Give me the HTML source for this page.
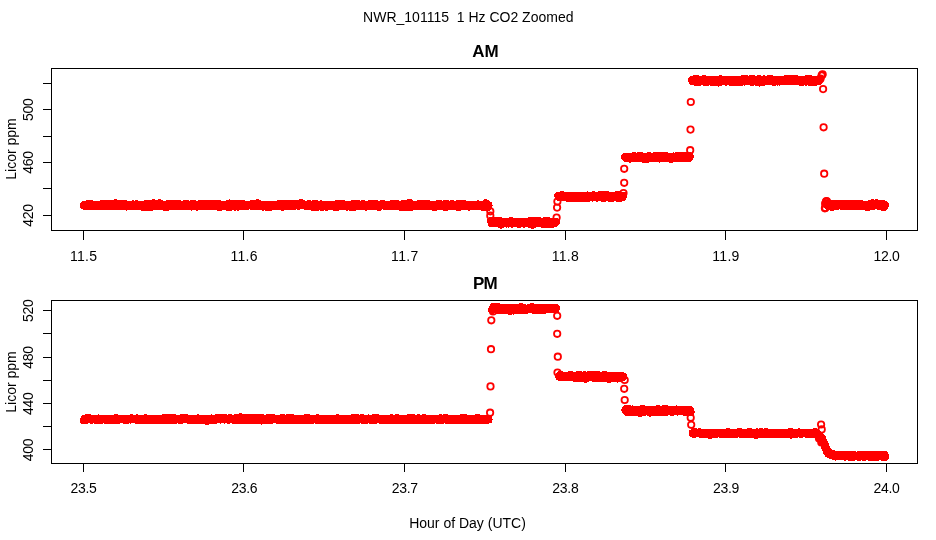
<!DOCTYPE html>
<html><head><meta charset="utf-8"><title>NWR_101115 1 Hz CO2 Zoomed</title>
<style>
html,body{margin:0;padding:0;background:#fff;}
svg{display:block;font-family:"Liberation Sans",sans-serif;}
.ax{stroke:#000;stroke-width:1;fill:none;shape-rendering:crispEdges;}
.pt circle{fill:#ff0000;stroke:#ff0000;stroke-width:1.9;shape-rendering:crispEdges;}
.tr circle{fill:none;stroke:#ff0000;stroke-width:1.8;}
text{fill:#000;font-size:14px;}
.main{font-size:17px;font-weight:bold;}
.tk{letter-spacing:-0.3px;}
.tw{letter-spacing:0.3px;}
</style></head><body>
<svg width="936" height="540" viewBox="0 0 936 540">
<rect width="936" height="540" fill="#fff"/>
<text x="468.3" y="22" text-anchor="middle">NWR_101115&#160;&#160;1 Hz CO2 Zoomed</text>
<text x="467.5" y="528" text-anchor="middle">Hour of Day (UTC)</text>
<text class="main" x="485.5" y="57" text-anchor="middle">AM</text>
<g class="pt"><circle cx="84.0" cy="205.3" r="3.15"/><circle cx="84.5" cy="205.2" r="3.15"/><circle cx="84.9" cy="204.8" r="3.15"/><circle cx="85.4" cy="205.3" r="3.15"/><circle cx="85.8" cy="206.2" r="3.15"/><circle cx="86.3" cy="205.7" r="3.15"/><circle cx="86.7" cy="206.2" r="3.15"/><circle cx="87.2" cy="205.6" r="3.15"/><circle cx="87.6" cy="205.7" r="3.15"/><circle cx="88.1" cy="205.5" r="3.15"/><circle cx="88.5" cy="204.2" r="3.15"/><circle cx="88.9" cy="206.0" r="3.15"/><circle cx="89.4" cy="205.7" r="3.15"/><circle cx="89.8" cy="205.7" r="3.15"/><circle cx="90.3" cy="204.2" r="3.15"/><circle cx="90.7" cy="204.1" r="3.15"/><circle cx="91.2" cy="204.7" r="3.15"/><circle cx="91.6" cy="205.0" r="3.15"/><circle cx="92.1" cy="205.5" r="3.15"/><circle cx="92.5" cy="205.3" r="3.15"/><circle cx="92.9" cy="205.7" r="3.15"/><circle cx="93.4" cy="204.8" r="3.15"/><circle cx="93.8" cy="205.5" r="3.15"/><circle cx="94.3" cy="205.5" r="3.15"/><circle cx="94.7" cy="204.8" r="3.15"/><circle cx="95.2" cy="206.4" r="3.15"/><circle cx="95.6" cy="205.6" r="3.15"/><circle cx="96.1" cy="206.1" r="3.15"/><circle cx="96.5" cy="204.8" r="3.15"/><circle cx="97.0" cy="204.7" r="3.15"/><circle cx="97.4" cy="205.0" r="3.15"/><circle cx="97.8" cy="205.2" r="3.15"/><circle cx="98.3" cy="205.7" r="3.15"/><circle cx="98.7" cy="205.4" r="3.15"/><circle cx="99.2" cy="204.9" r="3.15"/><circle cx="99.6" cy="204.6" r="3.15"/><circle cx="100.1" cy="204.9" r="3.15"/><circle cx="100.5" cy="206.1" r="3.15"/><circle cx="101.0" cy="204.7" r="3.15"/><circle cx="101.4" cy="205.4" r="3.15"/><circle cx="101.8" cy="205.6" r="3.15"/><circle cx="102.3" cy="204.2" r="3.15"/><circle cx="102.7" cy="205.3" r="3.15"/><circle cx="103.2" cy="206.2" r="3.15"/><circle cx="103.6" cy="203.9" r="3.15"/><circle cx="104.1" cy="205.1" r="3.15"/><circle cx="104.5" cy="205.2" r="3.15"/><circle cx="105.0" cy="204.7" r="3.15"/><circle cx="105.4" cy="205.6" r="3.15"/><circle cx="105.9" cy="205.2" r="3.15"/><circle cx="106.3" cy="204.3" r="3.15"/><circle cx="106.7" cy="205.9" r="3.15"/><circle cx="107.2" cy="205.7" r="3.15"/><circle cx="107.6" cy="205.9" r="3.15"/><circle cx="108.1" cy="206.3" r="3.15"/><circle cx="108.5" cy="205.5" r="3.15"/><circle cx="109.0" cy="205.3" r="3.15"/><circle cx="109.4" cy="204.3" r="3.15"/><circle cx="109.9" cy="205.7" r="3.15"/><circle cx="110.3" cy="204.8" r="3.15"/><circle cx="110.7" cy="204.9" r="3.15"/><circle cx="111.2" cy="204.3" r="3.15"/><circle cx="111.6" cy="204.5" r="3.15"/><circle cx="112.1" cy="204.8" r="3.15"/><circle cx="112.5" cy="206.1" r="3.15"/><circle cx="113.0" cy="203.8" r="3.15"/><circle cx="113.4" cy="204.2" r="3.15"/><circle cx="113.9" cy="205.3" r="3.15"/><circle cx="114.3" cy="206.2" r="3.15"/><circle cx="114.8" cy="205.6" r="3.15"/><circle cx="115.2" cy="203.8" r="3.15"/><circle cx="115.6" cy="203.4" r="3.15"/><circle cx="116.1" cy="205.4" r="3.15"/><circle cx="116.5" cy="204.6" r="3.15"/><circle cx="117.0" cy="204.4" r="3.15"/><circle cx="117.4" cy="205.9" r="3.15"/><circle cx="117.9" cy="205.9" r="3.15"/><circle cx="118.3" cy="205.3" r="3.15"/><circle cx="118.8" cy="205.4" r="3.15"/><circle cx="119.2" cy="205.5" r="3.15"/><circle cx="119.6" cy="206.3" r="3.15"/><circle cx="120.1" cy="205.6" r="3.15"/><circle cx="120.5" cy="205.6" r="3.15"/><circle cx="121.0" cy="205.6" r="3.15"/><circle cx="121.4" cy="204.1" r="3.15"/><circle cx="121.9" cy="206.2" r="3.15"/><circle cx="122.3" cy="205.9" r="3.15"/><circle cx="122.8" cy="205.6" r="3.15"/><circle cx="123.2" cy="203.9" r="3.15"/><circle cx="123.7" cy="204.9" r="3.15"/><circle cx="124.1" cy="205.9" r="3.15"/><circle cx="124.5" cy="204.1" r="3.15"/><circle cx="125.0" cy="205.2" r="3.15"/><circle cx="125.4" cy="206.0" r="3.15"/><circle cx="125.9" cy="204.4" r="3.15"/><circle cx="126.3" cy="206.5" r="3.15"/><circle cx="126.8" cy="205.7" r="3.15"/><circle cx="127.2" cy="205.3" r="3.15"/><circle cx="127.7" cy="205.6" r="3.15"/><circle cx="128.1" cy="205.8" r="3.15"/><circle cx="128.5" cy="205.4" r="3.15"/><circle cx="129.0" cy="206.2" r="3.15"/><circle cx="129.4" cy="204.9" r="3.15"/><circle cx="129.9" cy="205.1" r="3.15"/><circle cx="130.3" cy="206.1" r="3.15"/><circle cx="130.8" cy="205.4" r="3.15"/><circle cx="131.2" cy="204.7" r="3.15"/><circle cx="131.7" cy="206.0" r="3.15"/><circle cx="132.1" cy="206.4" r="3.15"/><circle cx="132.5" cy="205.0" r="3.15"/><circle cx="133.0" cy="204.4" r="3.15"/><circle cx="133.4" cy="205.2" r="3.15"/><circle cx="133.9" cy="205.2" r="3.15"/><circle cx="134.3" cy="205.1" r="3.15"/><circle cx="134.8" cy="206.3" r="3.15"/><circle cx="135.2" cy="204.6" r="3.15"/><circle cx="135.7" cy="206.2" r="3.15"/><circle cx="136.1" cy="204.4" r="3.15"/><circle cx="136.6" cy="204.8" r="3.15"/><circle cx="137.0" cy="205.8" r="3.15"/><circle cx="137.4" cy="206.1" r="3.15"/><circle cx="137.9" cy="205.9" r="3.15"/><circle cx="138.3" cy="205.6" r="3.15"/><circle cx="138.8" cy="205.4" r="3.15"/><circle cx="139.2" cy="205.4" r="3.15"/><circle cx="139.7" cy="205.7" r="3.15"/><circle cx="140.1" cy="205.2" r="3.15"/><circle cx="140.6" cy="205.6" r="3.15"/><circle cx="141.0" cy="205.8" r="3.15"/><circle cx="141.4" cy="205.4" r="3.15"/><circle cx="141.9" cy="205.9" r="3.15"/><circle cx="142.3" cy="205.8" r="3.15"/><circle cx="142.8" cy="206.8" r="3.15"/><circle cx="143.2" cy="205.6" r="3.15"/><circle cx="143.7" cy="205.1" r="3.15"/><circle cx="144.1" cy="205.2" r="3.15"/><circle cx="144.6" cy="205.4" r="3.15"/><circle cx="145.0" cy="206.1" r="3.15"/><circle cx="145.5" cy="205.2" r="3.15"/><circle cx="145.9" cy="205.7" r="3.15"/><circle cx="146.3" cy="206.7" r="3.15"/><circle cx="146.8" cy="203.6" r="3.15"/><circle cx="147.2" cy="204.7" r="3.15"/><circle cx="147.7" cy="205.6" r="3.15"/><circle cx="148.1" cy="205.7" r="3.15"/><circle cx="148.6" cy="205.6" r="3.15"/><circle cx="149.0" cy="205.1" r="3.15"/><circle cx="149.5" cy="205.9" r="3.15"/><circle cx="149.9" cy="205.6" r="3.15"/><circle cx="150.3" cy="205.0" r="3.15"/><circle cx="150.8" cy="207.1" r="3.15"/><circle cx="151.2" cy="205.6" r="3.15"/><circle cx="151.7" cy="205.0" r="3.15"/><circle cx="152.1" cy="205.3" r="3.15"/><circle cx="152.6" cy="205.2" r="3.15"/><circle cx="153.0" cy="205.3" r="3.15"/><circle cx="153.5" cy="203.4" r="3.15"/><circle cx="153.9" cy="205.0" r="3.15"/><circle cx="154.4" cy="206.0" r="3.15"/><circle cx="154.8" cy="204.5" r="3.15"/><circle cx="155.2" cy="205.2" r="3.15"/><circle cx="155.7" cy="206.0" r="3.15"/><circle cx="156.1" cy="205.9" r="3.15"/><circle cx="156.6" cy="206.3" r="3.15"/><circle cx="157.0" cy="204.1" r="3.15"/><circle cx="157.5" cy="205.0" r="3.15"/><circle cx="157.9" cy="205.0" r="3.15"/><circle cx="158.4" cy="205.7" r="3.15"/><circle cx="158.8" cy="206.0" r="3.15"/><circle cx="159.2" cy="203.4" r="3.15"/><circle cx="159.7" cy="206.0" r="3.15"/><circle cx="160.1" cy="204.2" r="3.15"/><circle cx="160.6" cy="205.7" r="3.15"/><circle cx="161.0" cy="204.2" r="3.15"/><circle cx="161.5" cy="205.4" r="3.15"/><circle cx="161.9" cy="206.1" r="3.15"/><circle cx="162.4" cy="205.2" r="3.15"/><circle cx="162.8" cy="205.4" r="3.15"/><circle cx="163.3" cy="205.8" r="3.15"/><circle cx="163.7" cy="205.4" r="3.15"/><circle cx="164.1" cy="205.2" r="3.15"/><circle cx="164.6" cy="206.4" r="3.15"/><circle cx="165.0" cy="206.0" r="3.15"/><circle cx="165.5" cy="205.1" r="3.15"/><circle cx="165.9" cy="207.2" r="3.15"/><circle cx="166.4" cy="204.5" r="3.15"/><circle cx="166.8" cy="205.9" r="3.15"/><circle cx="167.3" cy="205.1" r="3.15"/><circle cx="167.7" cy="205.4" r="3.15"/><circle cx="168.1" cy="205.8" r="3.15"/><circle cx="168.6" cy="205.4" r="3.15"/><circle cx="169.0" cy="205.7" r="3.15"/><circle cx="169.5" cy="204.2" r="3.15"/><circle cx="169.9" cy="204.2" r="3.15"/><circle cx="170.4" cy="205.7" r="3.15"/><circle cx="170.8" cy="204.6" r="3.15"/><circle cx="171.3" cy="204.5" r="3.15"/><circle cx="171.7" cy="204.2" r="3.15"/><circle cx="172.1" cy="206.1" r="3.15"/><circle cx="172.6" cy="205.7" r="3.15"/><circle cx="173.0" cy="206.2" r="3.15"/><circle cx="173.5" cy="204.5" r="3.15"/><circle cx="173.9" cy="205.2" r="3.15"/><circle cx="174.4" cy="204.4" r="3.15"/><circle cx="174.8" cy="205.7" r="3.15"/><circle cx="175.3" cy="206.3" r="3.15"/><circle cx="175.7" cy="204.5" r="3.15"/><circle cx="176.2" cy="206.3" r="3.15"/><circle cx="176.6" cy="205.8" r="3.15"/><circle cx="177.0" cy="205.0" r="3.15"/><circle cx="177.5" cy="203.8" r="3.15"/><circle cx="177.9" cy="206.1" r="3.15"/><circle cx="178.4" cy="205.1" r="3.15"/><circle cx="178.8" cy="204.7" r="3.15"/><circle cx="179.3" cy="205.4" r="3.15"/><circle cx="179.7" cy="205.5" r="3.15"/><circle cx="180.2" cy="206.2" r="3.15"/><circle cx="180.6" cy="204.5" r="3.15"/><circle cx="181.0" cy="206.0" r="3.15"/><circle cx="181.5" cy="206.2" r="3.15"/><circle cx="181.9" cy="206.2" r="3.15"/><circle cx="182.4" cy="205.1" r="3.15"/><circle cx="182.8" cy="204.7" r="3.15"/><circle cx="183.3" cy="206.0" r="3.15"/><circle cx="183.7" cy="205.3" r="3.15"/><circle cx="184.2" cy="205.3" r="3.15"/><circle cx="184.6" cy="206.3" r="3.15"/><circle cx="185.1" cy="205.1" r="3.15"/><circle cx="185.5" cy="203.7" r="3.15"/><circle cx="185.9" cy="205.0" r="3.15"/><circle cx="186.4" cy="204.0" r="3.15"/><circle cx="186.8" cy="205.9" r="3.15"/><circle cx="187.3" cy="205.5" r="3.15"/><circle cx="187.7" cy="204.9" r="3.15"/><circle cx="188.2" cy="205.3" r="3.15"/><circle cx="188.6" cy="205.9" r="3.15"/><circle cx="189.1" cy="205.4" r="3.15"/><circle cx="189.5" cy="206.3" r="3.15"/><circle cx="189.9" cy="205.3" r="3.15"/><circle cx="190.4" cy="206.1" r="3.15"/><circle cx="190.8" cy="206.4" r="3.15"/><circle cx="191.3" cy="206.5" r="3.15"/><circle cx="191.7" cy="204.9" r="3.15"/><circle cx="192.2" cy="205.9" r="3.15"/><circle cx="192.6" cy="204.0" r="3.15"/><circle cx="193.1" cy="204.6" r="3.15"/><circle cx="193.5" cy="203.9" r="3.15"/><circle cx="194.0" cy="206.1" r="3.15"/><circle cx="194.4" cy="204.4" r="3.15"/><circle cx="194.8" cy="205.3" r="3.15"/><circle cx="195.3" cy="205.2" r="3.15"/><circle cx="195.7" cy="205.3" r="3.15"/><circle cx="196.2" cy="204.9" r="3.15"/><circle cx="196.6" cy="205.5" r="3.15"/><circle cx="197.1" cy="206.5" r="3.15"/><circle cx="197.5" cy="205.3" r="3.15"/><circle cx="198.0" cy="205.7" r="3.15"/><circle cx="198.4" cy="206.0" r="3.15"/><circle cx="198.8" cy="205.2" r="3.15"/><circle cx="199.3" cy="204.4" r="3.15"/><circle cx="199.7" cy="204.9" r="3.15"/><circle cx="200.2" cy="206.1" r="3.15"/><circle cx="200.6" cy="204.2" r="3.15"/><circle cx="201.1" cy="204.9" r="3.15"/><circle cx="201.5" cy="206.0" r="3.15"/><circle cx="202.0" cy="205.9" r="3.15"/><circle cx="202.4" cy="205.4" r="3.15"/><circle cx="202.9" cy="205.9" r="3.15"/><circle cx="203.3" cy="205.5" r="3.15"/><circle cx="203.7" cy="204.6" r="3.15"/><circle cx="204.2" cy="204.3" r="3.15"/><circle cx="204.6" cy="205.0" r="3.15"/><circle cx="205.1" cy="206.1" r="3.15"/><circle cx="205.5" cy="205.0" r="3.15"/><circle cx="206.0" cy="204.8" r="3.15"/><circle cx="206.4" cy="204.9" r="3.15"/><circle cx="206.9" cy="204.4" r="3.15"/><circle cx="207.3" cy="205.4" r="3.15"/><circle cx="207.7" cy="204.6" r="3.15"/><circle cx="208.2" cy="205.7" r="3.15"/><circle cx="208.6" cy="203.8" r="3.15"/><circle cx="209.1" cy="205.7" r="3.15"/><circle cx="209.5" cy="205.0" r="3.15"/><circle cx="210.0" cy="204.1" r="3.15"/><circle cx="210.4" cy="205.9" r="3.15"/><circle cx="210.9" cy="205.2" r="3.15"/><circle cx="211.3" cy="203.9" r="3.15"/><circle cx="211.7" cy="204.8" r="3.15"/><circle cx="212.2" cy="205.6" r="3.15"/><circle cx="212.6" cy="205.1" r="3.15"/><circle cx="213.1" cy="205.9" r="3.15"/><circle cx="213.5" cy="205.9" r="3.15"/><circle cx="214.0" cy="205.8" r="3.15"/><circle cx="214.4" cy="205.6" r="3.15"/><circle cx="214.9" cy="206.3" r="3.15"/><circle cx="215.3" cy="205.8" r="3.15"/><circle cx="215.8" cy="205.6" r="3.15"/><circle cx="216.2" cy="203.9" r="3.15"/><circle cx="216.6" cy="205.9" r="3.15"/><circle cx="217.1" cy="206.2" r="3.15"/><circle cx="217.5" cy="205.1" r="3.15"/><circle cx="218.0" cy="205.0" r="3.15"/><circle cx="218.4" cy="206.6" r="3.15"/><circle cx="218.9" cy="204.1" r="3.15"/><circle cx="219.3" cy="205.6" r="3.15"/><circle cx="219.8" cy="207.0" r="3.15"/><circle cx="220.2" cy="204.6" r="3.15"/><circle cx="220.6" cy="205.8" r="3.15"/><circle cx="221.1" cy="206.6" r="3.15"/><circle cx="221.5" cy="205.2" r="3.15"/><circle cx="222.0" cy="205.7" r="3.15"/><circle cx="222.4" cy="205.9" r="3.15"/><circle cx="222.9" cy="204.7" r="3.15"/><circle cx="223.3" cy="205.2" r="3.15"/><circle cx="223.8" cy="205.5" r="3.15"/><circle cx="224.2" cy="205.9" r="3.15"/><circle cx="224.7" cy="205.3" r="3.15"/><circle cx="225.1" cy="205.2" r="3.15"/><circle cx="225.5" cy="204.6" r="3.15"/><circle cx="226.0" cy="205.1" r="3.15"/><circle cx="226.4" cy="205.9" r="3.15"/><circle cx="226.9" cy="205.4" r="3.15"/><circle cx="227.3" cy="204.7" r="3.15"/><circle cx="227.8" cy="204.7" r="3.15"/><circle cx="228.2" cy="207.2" r="3.15"/><circle cx="228.7" cy="206.1" r="3.15"/><circle cx="229.1" cy="205.8" r="3.15"/><circle cx="229.5" cy="203.5" r="3.15"/><circle cx="230.0" cy="205.7" r="3.15"/><circle cx="230.4" cy="205.6" r="3.15"/><circle cx="230.9" cy="206.5" r="3.15"/><circle cx="231.3" cy="205.6" r="3.15"/><circle cx="231.8" cy="205.2" r="3.15"/><circle cx="232.2" cy="205.6" r="3.15"/><circle cx="232.7" cy="203.9" r="3.15"/><circle cx="233.1" cy="206.0" r="3.15"/><circle cx="233.6" cy="205.5" r="3.15"/><circle cx="234.0" cy="204.7" r="3.15"/><circle cx="234.4" cy="206.1" r="3.15"/><circle cx="234.9" cy="206.5" r="3.15"/><circle cx="235.3" cy="204.2" r="3.15"/><circle cx="235.8" cy="204.7" r="3.15"/><circle cx="236.2" cy="205.4" r="3.15"/><circle cx="236.7" cy="205.3" r="3.15"/><circle cx="237.1" cy="204.9" r="3.15"/><circle cx="237.6" cy="204.5" r="3.15"/><circle cx="238.0" cy="206.6" r="3.15"/><circle cx="238.4" cy="205.9" r="3.15"/><circle cx="238.9" cy="204.3" r="3.15"/><circle cx="239.3" cy="204.2" r="3.15"/><circle cx="239.8" cy="206.3" r="3.15"/><circle cx="240.2" cy="205.8" r="3.15"/><circle cx="240.7" cy="206.4" r="3.15"/><circle cx="241.1" cy="205.7" r="3.15"/><circle cx="241.6" cy="204.6" r="3.15"/><circle cx="242.0" cy="205.4" r="3.15"/><circle cx="242.5" cy="203.7" r="3.15"/><circle cx="242.9" cy="204.7" r="3.15"/><circle cx="243.3" cy="205.2" r="3.15"/><circle cx="243.8" cy="205.6" r="3.15"/><circle cx="244.2" cy="204.7" r="3.15"/><circle cx="244.7" cy="205.1" r="3.15"/><circle cx="245.1" cy="205.6" r="3.15"/><circle cx="245.6" cy="205.5" r="3.15"/><circle cx="246.0" cy="205.7" r="3.15"/><circle cx="246.5" cy="205.4" r="3.15"/><circle cx="246.9" cy="205.0" r="3.15"/><circle cx="247.3" cy="205.8" r="3.15"/><circle cx="247.8" cy="205.3" r="3.15"/><circle cx="248.2" cy="204.7" r="3.15"/><circle cx="248.7" cy="204.9" r="3.15"/><circle cx="249.1" cy="205.3" r="3.15"/><circle cx="249.6" cy="205.2" r="3.15"/><circle cx="250.0" cy="205.4" r="3.15"/><circle cx="250.5" cy="205.3" r="3.15"/><circle cx="250.9" cy="205.4" r="3.15"/><circle cx="251.3" cy="205.2" r="3.15"/><circle cx="251.8" cy="204.4" r="3.15"/><circle cx="252.2" cy="205.6" r="3.15"/><circle cx="252.7" cy="206.0" r="3.15"/><circle cx="253.1" cy="205.6" r="3.15"/><circle cx="253.6" cy="205.2" r="3.15"/><circle cx="254.0" cy="205.6" r="3.15"/><circle cx="254.5" cy="204.6" r="3.15"/><circle cx="254.9" cy="204.0" r="3.15"/><circle cx="255.4" cy="205.3" r="3.15"/><circle cx="255.8" cy="204.6" r="3.15"/><circle cx="256.2" cy="205.8" r="3.15"/><circle cx="256.7" cy="204.5" r="3.15"/><circle cx="257.1" cy="203.4" r="3.15"/><circle cx="257.6" cy="204.5" r="3.15"/><circle cx="258.0" cy="206.4" r="3.15"/><circle cx="258.5" cy="205.0" r="3.15"/><circle cx="258.9" cy="204.3" r="3.15"/><circle cx="259.4" cy="204.7" r="3.15"/><circle cx="259.8" cy="205.6" r="3.15"/><circle cx="260.2" cy="205.6" r="3.15"/><circle cx="260.7" cy="205.4" r="3.15"/><circle cx="261.1" cy="206.3" r="3.15"/><circle cx="261.6" cy="205.8" r="3.15"/><circle cx="262.0" cy="205.3" r="3.15"/><circle cx="262.5" cy="205.7" r="3.15"/><circle cx="262.9" cy="206.5" r="3.15"/><circle cx="263.4" cy="206.0" r="3.15"/><circle cx="263.8" cy="206.1" r="3.15"/><circle cx="264.3" cy="204.6" r="3.15"/><circle cx="264.7" cy="205.3" r="3.15"/><circle cx="265.1" cy="205.9" r="3.15"/><circle cx="265.6" cy="205.2" r="3.15"/><circle cx="266.0" cy="206.1" r="3.15"/><circle cx="266.5" cy="205.8" r="3.15"/><circle cx="266.9" cy="206.1" r="3.15"/><circle cx="267.4" cy="205.3" r="3.15"/><circle cx="267.8" cy="207.2" r="3.15"/><circle cx="268.3" cy="206.3" r="3.15"/><circle cx="268.7" cy="205.3" r="3.15"/><circle cx="269.1" cy="205.5" r="3.15"/><circle cx="269.6" cy="207.3" r="3.15"/><circle cx="270.0" cy="205.2" r="3.15"/><circle cx="270.5" cy="206.1" r="3.15"/><circle cx="270.9" cy="206.1" r="3.15"/><circle cx="271.4" cy="205.4" r="3.15"/><circle cx="271.8" cy="204.6" r="3.15"/><circle cx="272.3" cy="205.6" r="3.15"/><circle cx="272.7" cy="205.7" r="3.15"/><circle cx="273.2" cy="206.2" r="3.15"/><circle cx="273.6" cy="206.0" r="3.15"/><circle cx="274.0" cy="205.4" r="3.15"/><circle cx="274.5" cy="206.0" r="3.15"/><circle cx="274.9" cy="205.8" r="3.15"/><circle cx="275.4" cy="205.5" r="3.15"/><circle cx="275.8" cy="205.4" r="3.15"/><circle cx="276.3" cy="205.2" r="3.15"/><circle cx="276.7" cy="205.8" r="3.15"/><circle cx="277.2" cy="204.6" r="3.15"/><circle cx="277.6" cy="204.9" r="3.15"/><circle cx="278.0" cy="205.3" r="3.15"/><circle cx="278.5" cy="204.3" r="3.15"/><circle cx="278.9" cy="205.0" r="3.15"/><circle cx="279.4" cy="203.9" r="3.15"/><circle cx="279.8" cy="204.8" r="3.15"/><circle cx="280.3" cy="205.7" r="3.15"/><circle cx="280.7" cy="205.7" r="3.15"/><circle cx="281.2" cy="205.3" r="3.15"/><circle cx="281.6" cy="205.1" r="3.15"/><circle cx="282.1" cy="204.3" r="3.15"/><circle cx="282.5" cy="206.6" r="3.15"/><circle cx="282.9" cy="205.7" r="3.15"/><circle cx="283.4" cy="206.1" r="3.15"/><circle cx="283.8" cy="204.7" r="3.15"/><circle cx="284.3" cy="205.2" r="3.15"/><circle cx="284.7" cy="204.1" r="3.15"/><circle cx="285.2" cy="205.9" r="3.15"/><circle cx="285.6" cy="206.0" r="3.15"/><circle cx="286.1" cy="204.0" r="3.15"/><circle cx="286.5" cy="205.3" r="3.15"/><circle cx="286.9" cy="205.8" r="3.15"/><circle cx="287.4" cy="204.1" r="3.15"/><circle cx="287.8" cy="204.1" r="3.15"/><circle cx="288.3" cy="204.6" r="3.15"/><circle cx="288.7" cy="204.9" r="3.15"/><circle cx="289.2" cy="204.4" r="3.15"/><circle cx="289.6" cy="205.4" r="3.15"/><circle cx="290.1" cy="205.5" r="3.15"/><circle cx="290.5" cy="205.8" r="3.15"/><circle cx="290.9" cy="205.8" r="3.15"/><circle cx="291.4" cy="206.4" r="3.15"/><circle cx="291.8" cy="206.1" r="3.15"/><circle cx="292.3" cy="204.4" r="3.15"/><circle cx="292.7" cy="205.0" r="3.15"/><circle cx="293.2" cy="204.6" r="3.15"/><circle cx="293.6" cy="204.5" r="3.15"/><circle cx="294.1" cy="205.2" r="3.15"/><circle cx="294.5" cy="205.3" r="3.15"/><circle cx="295.0" cy="205.6" r="3.15"/><circle cx="295.4" cy="204.1" r="3.15"/><circle cx="295.8" cy="204.4" r="3.15"/><circle cx="296.3" cy="205.2" r="3.15"/><circle cx="296.7" cy="205.1" r="3.15"/><circle cx="297.2" cy="205.0" r="3.15"/><circle cx="297.6" cy="205.1" r="3.15"/><circle cx="298.1" cy="204.6" r="3.15"/><circle cx="298.5" cy="205.7" r="3.15"/><circle cx="299.0" cy="205.4" r="3.15"/><circle cx="299.4" cy="205.1" r="3.15"/><circle cx="299.8" cy="204.7" r="3.15"/><circle cx="300.3" cy="205.0" r="3.15"/><circle cx="300.7" cy="203.3" r="3.15"/><circle cx="301.2" cy="204.5" r="3.15"/><circle cx="301.6" cy="205.2" r="3.15"/><circle cx="302.1" cy="204.1" r="3.15"/><circle cx="302.5" cy="205.3" r="3.15"/><circle cx="303.0" cy="205.3" r="3.15"/><circle cx="303.4" cy="204.2" r="3.15"/><circle cx="303.9" cy="205.0" r="3.15"/><circle cx="304.3" cy="205.0" r="3.15"/><circle cx="304.7" cy="205.5" r="3.15"/><circle cx="305.2" cy="205.6" r="3.15"/><circle cx="305.6" cy="205.2" r="3.15"/><circle cx="306.1" cy="204.6" r="3.15"/><circle cx="306.5" cy="205.1" r="3.15"/><circle cx="307.0" cy="205.2" r="3.15"/><circle cx="307.4" cy="205.8" r="3.15"/><circle cx="307.9" cy="205.5" r="3.15"/><circle cx="308.3" cy="204.8" r="3.15"/><circle cx="308.7" cy="204.3" r="3.15"/><circle cx="309.2" cy="205.0" r="3.15"/><circle cx="309.6" cy="204.8" r="3.15"/><circle cx="310.1" cy="204.5" r="3.15"/><circle cx="310.5" cy="205.2" r="3.15"/><circle cx="311.0" cy="204.9" r="3.15"/><circle cx="311.4" cy="205.4" r="3.15"/><circle cx="311.9" cy="205.7" r="3.15"/><circle cx="312.3" cy="205.0" r="3.15"/><circle cx="312.8" cy="206.9" r="3.15"/><circle cx="313.2" cy="205.1" r="3.15"/><circle cx="313.6" cy="206.1" r="3.15"/><circle cx="314.1" cy="205.4" r="3.15"/><circle cx="314.5" cy="206.1" r="3.15"/><circle cx="315.0" cy="203.6" r="3.15"/><circle cx="315.4" cy="204.7" r="3.15"/><circle cx="315.9" cy="205.4" r="3.15"/><circle cx="316.3" cy="205.7" r="3.15"/><circle cx="316.8" cy="206.9" r="3.15"/><circle cx="317.2" cy="205.5" r="3.15"/><circle cx="317.6" cy="206.1" r="3.15"/><circle cx="318.1" cy="205.8" r="3.15"/><circle cx="318.5" cy="205.9" r="3.15"/><circle cx="319.0" cy="205.6" r="3.15"/><circle cx="319.4" cy="205.1" r="3.15"/><circle cx="319.9" cy="205.6" r="3.15"/><circle cx="320.3" cy="204.5" r="3.15"/><circle cx="320.8" cy="206.1" r="3.15"/><circle cx="321.2" cy="204.5" r="3.15"/><circle cx="321.7" cy="205.4" r="3.15"/><circle cx="322.1" cy="206.7" r="3.15"/><circle cx="322.5" cy="205.1" r="3.15"/><circle cx="323.0" cy="205.3" r="3.15"/><circle cx="323.4" cy="206.1" r="3.15"/><circle cx="323.9" cy="205.3" r="3.15"/><circle cx="324.3" cy="204.7" r="3.15"/><circle cx="324.8" cy="205.5" r="3.15"/><circle cx="325.2" cy="205.7" r="3.15"/><circle cx="325.7" cy="205.8" r="3.15"/><circle cx="326.1" cy="204.8" r="3.15"/><circle cx="326.5" cy="206.6" r="3.15"/><circle cx="327.0" cy="206.5" r="3.15"/><circle cx="327.4" cy="205.4" r="3.15"/><circle cx="327.9" cy="205.6" r="3.15"/><circle cx="328.3" cy="205.1" r="3.15"/><circle cx="328.8" cy="206.4" r="3.15"/><circle cx="329.2" cy="204.9" r="3.15"/><circle cx="329.7" cy="205.9" r="3.15"/><circle cx="330.1" cy="205.1" r="3.15"/><circle cx="330.5" cy="204.9" r="3.15"/><circle cx="331.0" cy="205.9" r="3.15"/><circle cx="331.4" cy="206.4" r="3.15"/><circle cx="331.9" cy="205.4" r="3.15"/><circle cx="332.3" cy="205.0" r="3.15"/><circle cx="332.8" cy="206.0" r="3.15"/><circle cx="333.2" cy="205.4" r="3.15"/><circle cx="333.7" cy="205.6" r="3.15"/><circle cx="334.1" cy="206.5" r="3.15"/><circle cx="334.6" cy="206.2" r="3.15"/><circle cx="335.0" cy="205.0" r="3.15"/><circle cx="335.4" cy="207.0" r="3.15"/><circle cx="335.9" cy="205.4" r="3.15"/><circle cx="336.3" cy="205.9" r="3.15"/><circle cx="336.8" cy="204.9" r="3.15"/><circle cx="337.2" cy="205.3" r="3.15"/><circle cx="337.7" cy="204.1" r="3.15"/><circle cx="338.1" cy="206.6" r="3.15"/><circle cx="338.6" cy="206.3" r="3.15"/><circle cx="339.0" cy="204.5" r="3.15"/><circle cx="339.4" cy="204.3" r="3.15"/><circle cx="339.9" cy="204.2" r="3.15"/><circle cx="340.3" cy="206.1" r="3.15"/><circle cx="340.8" cy="205.0" r="3.15"/><circle cx="341.2" cy="205.3" r="3.15"/><circle cx="341.7" cy="205.1" r="3.15"/><circle cx="342.1" cy="205.2" r="3.15"/><circle cx="342.6" cy="204.6" r="3.15"/><circle cx="343.0" cy="205.3" r="3.15"/><circle cx="343.5" cy="204.3" r="3.15"/><circle cx="343.9" cy="205.3" r="3.15"/><circle cx="344.3" cy="205.5" r="3.15"/><circle cx="344.8" cy="205.7" r="3.15"/><circle cx="345.2" cy="205.2" r="3.15"/><circle cx="345.7" cy="204.7" r="3.15"/><circle cx="346.1" cy="205.5" r="3.15"/><circle cx="346.6" cy="205.0" r="3.15"/><circle cx="347.0" cy="206.5" r="3.15"/><circle cx="347.5" cy="205.9" r="3.15"/><circle cx="347.9" cy="205.3" r="3.15"/><circle cx="348.3" cy="205.0" r="3.15"/><circle cx="348.8" cy="204.9" r="3.15"/><circle cx="349.2" cy="204.7" r="3.15"/><circle cx="349.7" cy="205.1" r="3.15"/><circle cx="350.1" cy="205.6" r="3.15"/><circle cx="350.6" cy="205.7" r="3.15"/><circle cx="351.0" cy="205.8" r="3.15"/><circle cx="351.5" cy="206.8" r="3.15"/><circle cx="351.9" cy="204.9" r="3.15"/><circle cx="352.4" cy="205.4" r="3.15"/><circle cx="352.8" cy="207.3" r="3.15"/><circle cx="353.2" cy="204.0" r="3.15"/><circle cx="353.7" cy="205.0" r="3.15"/><circle cx="354.1" cy="205.4" r="3.15"/><circle cx="354.6" cy="205.4" r="3.15"/><circle cx="355.0" cy="205.6" r="3.15"/><circle cx="355.5" cy="205.1" r="3.15"/><circle cx="355.9" cy="205.5" r="3.15"/><circle cx="356.4" cy="205.3" r="3.15"/><circle cx="356.8" cy="205.8" r="3.15"/><circle cx="357.2" cy="203.9" r="3.15"/><circle cx="357.7" cy="204.6" r="3.15"/><circle cx="358.1" cy="205.2" r="3.15"/><circle cx="358.6" cy="204.5" r="3.15"/><circle cx="359.0" cy="204.5" r="3.15"/><circle cx="359.5" cy="205.6" r="3.15"/><circle cx="359.9" cy="204.7" r="3.15"/><circle cx="360.4" cy="205.6" r="3.15"/><circle cx="360.8" cy="205.7" r="3.15"/><circle cx="361.3" cy="205.4" r="3.15"/><circle cx="361.7" cy="205.5" r="3.15"/><circle cx="362.1" cy="205.1" r="3.15"/><circle cx="362.6" cy="204.2" r="3.15"/><circle cx="363.0" cy="205.1" r="3.15"/><circle cx="363.5" cy="205.5" r="3.15"/><circle cx="363.9" cy="204.8" r="3.15"/><circle cx="364.4" cy="205.1" r="3.15"/><circle cx="364.8" cy="205.7" r="3.15"/><circle cx="365.3" cy="204.6" r="3.15"/><circle cx="365.7" cy="205.6" r="3.15"/><circle cx="366.1" cy="206.5" r="3.15"/><circle cx="366.6" cy="204.8" r="3.15"/><circle cx="367.0" cy="205.3" r="3.15"/><circle cx="367.5" cy="205.1" r="3.15"/><circle cx="367.9" cy="206.3" r="3.15"/><circle cx="368.4" cy="205.5" r="3.15"/><circle cx="368.8" cy="205.9" r="3.15"/><circle cx="369.3" cy="204.8" r="3.15"/><circle cx="369.7" cy="205.2" r="3.15"/><circle cx="370.1" cy="205.3" r="3.15"/><circle cx="370.6" cy="204.0" r="3.15"/><circle cx="371.0" cy="206.3" r="3.15"/><circle cx="371.5" cy="205.9" r="3.15"/><circle cx="371.9" cy="204.1" r="3.15"/><circle cx="372.4" cy="205.8" r="3.15"/><circle cx="372.8" cy="205.2" r="3.15"/><circle cx="373.3" cy="205.6" r="3.15"/><circle cx="373.7" cy="205.5" r="3.15"/><circle cx="374.2" cy="204.2" r="3.15"/><circle cx="374.6" cy="205.1" r="3.15"/><circle cx="375.0" cy="206.3" r="3.15"/><circle cx="375.5" cy="204.9" r="3.15"/><circle cx="375.9" cy="204.5" r="3.15"/><circle cx="376.4" cy="204.3" r="3.15"/><circle cx="376.8" cy="204.4" r="3.15"/><circle cx="377.3" cy="205.5" r="3.15"/><circle cx="377.7" cy="206.4" r="3.15"/><circle cx="378.2" cy="205.5" r="3.15"/><circle cx="378.6" cy="205.4" r="3.15"/><circle cx="379.0" cy="206.8" r="3.15"/><circle cx="379.5" cy="204.8" r="3.15"/><circle cx="379.9" cy="204.7" r="3.15"/><circle cx="380.4" cy="205.6" r="3.15"/><circle cx="380.8" cy="205.6" r="3.15"/><circle cx="381.3" cy="204.5" r="3.15"/><circle cx="381.7" cy="204.4" r="3.15"/><circle cx="382.2" cy="205.4" r="3.15"/><circle cx="382.6" cy="205.4" r="3.15"/><circle cx="383.1" cy="204.3" r="3.15"/><circle cx="383.5" cy="205.1" r="3.15"/><circle cx="383.9" cy="204.9" r="3.15"/><circle cx="384.4" cy="205.6" r="3.15"/><circle cx="384.8" cy="205.2" r="3.15"/><circle cx="385.3" cy="205.2" r="3.15"/><circle cx="385.7" cy="205.0" r="3.15"/><circle cx="386.2" cy="206.0" r="3.15"/><circle cx="386.6" cy="206.3" r="3.15"/><circle cx="387.1" cy="205.1" r="3.15"/><circle cx="387.5" cy="205.9" r="3.15"/><circle cx="387.9" cy="204.8" r="3.15"/><circle cx="388.4" cy="205.4" r="3.15"/><circle cx="388.8" cy="205.9" r="3.15"/><circle cx="389.3" cy="206.4" r="3.15"/><circle cx="389.7" cy="205.1" r="3.15"/><circle cx="390.2" cy="205.3" r="3.15"/><circle cx="390.6" cy="205.5" r="3.15"/><circle cx="391.1" cy="204.4" r="3.15"/><circle cx="391.5" cy="205.4" r="3.15"/><circle cx="392.0" cy="204.9" r="3.15"/><circle cx="392.4" cy="205.7" r="3.15"/><circle cx="392.8" cy="204.6" r="3.15"/><circle cx="393.3" cy="204.0" r="3.15"/><circle cx="393.7" cy="205.4" r="3.15"/><circle cx="394.2" cy="205.6" r="3.15"/><circle cx="394.6" cy="205.0" r="3.15"/><circle cx="395.1" cy="206.0" r="3.15"/><circle cx="395.5" cy="205.2" r="3.15"/><circle cx="396.0" cy="205.0" r="3.15"/><circle cx="396.4" cy="205.7" r="3.15"/><circle cx="396.8" cy="204.3" r="3.15"/><circle cx="397.3" cy="204.9" r="3.15"/><circle cx="397.7" cy="205.4" r="3.15"/><circle cx="398.2" cy="206.0" r="3.15"/><circle cx="398.6" cy="205.3" r="3.15"/><circle cx="399.1" cy="205.6" r="3.15"/><circle cx="399.5" cy="204.9" r="3.15"/><circle cx="400.0" cy="205.6" r="3.15"/><circle cx="400.4" cy="206.5" r="3.15"/><circle cx="400.9" cy="204.9" r="3.15"/><circle cx="401.3" cy="207.0" r="3.15"/><circle cx="401.7" cy="204.9" r="3.15"/><circle cx="402.2" cy="205.3" r="3.15"/><circle cx="402.6" cy="205.5" r="3.15"/><circle cx="403.1" cy="206.0" r="3.15"/><circle cx="403.5" cy="204.5" r="3.15"/><circle cx="404.0" cy="203.9" r="3.15"/><circle cx="404.4" cy="205.8" r="3.15"/><circle cx="404.9" cy="205.9" r="3.15"/><circle cx="405.3" cy="205.8" r="3.15"/><circle cx="405.7" cy="207.2" r="3.15"/><circle cx="406.2" cy="205.5" r="3.15"/><circle cx="406.6" cy="205.5" r="3.15"/><circle cx="407.1" cy="206.0" r="3.15"/><circle cx="407.5" cy="205.6" r="3.15"/><circle cx="408.0" cy="206.5" r="3.15"/><circle cx="408.4" cy="204.5" r="3.15"/><circle cx="408.9" cy="205.1" r="3.15"/><circle cx="409.3" cy="203.0" r="3.15"/><circle cx="409.7" cy="206.0" r="3.15"/><circle cx="410.2" cy="205.1" r="3.15"/><circle cx="410.6" cy="206.0" r="3.15"/><circle cx="411.1" cy="206.9" r="3.15"/><circle cx="411.5" cy="205.4" r="3.15"/><circle cx="412.0" cy="205.2" r="3.15"/><circle cx="412.4" cy="205.0" r="3.15"/><circle cx="412.9" cy="204.8" r="3.15"/><circle cx="413.3" cy="204.9" r="3.15"/><circle cx="413.8" cy="205.8" r="3.15"/><circle cx="414.2" cy="205.4" r="3.15"/><circle cx="414.6" cy="205.4" r="3.15"/><circle cx="415.1" cy="205.2" r="3.15"/><circle cx="415.5" cy="206.0" r="3.15"/><circle cx="416.0" cy="205.7" r="3.15"/><circle cx="416.4" cy="205.2" r="3.15"/><circle cx="416.9" cy="205.8" r="3.15"/><circle cx="417.3" cy="205.2" r="3.15"/><circle cx="417.8" cy="204.5" r="3.15"/><circle cx="418.2" cy="206.3" r="3.15"/><circle cx="418.6" cy="205.6" r="3.15"/><circle cx="419.1" cy="204.6" r="3.15"/><circle cx="419.5" cy="206.0" r="3.15"/><circle cx="420.0" cy="205.5" r="3.15"/><circle cx="420.4" cy="204.1" r="3.15"/><circle cx="420.9" cy="206.3" r="3.15"/><circle cx="421.3" cy="205.4" r="3.15"/><circle cx="421.8" cy="205.8" r="3.15"/><circle cx="422.2" cy="205.3" r="3.15"/><circle cx="422.7" cy="205.1" r="3.15"/><circle cx="423.1" cy="204.1" r="3.15"/><circle cx="423.5" cy="205.9" r="3.15"/><circle cx="424.0" cy="205.2" r="3.15"/><circle cx="424.4" cy="205.0" r="3.15"/><circle cx="424.9" cy="205.4" r="3.15"/><circle cx="425.3" cy="205.2" r="3.15"/><circle cx="425.8" cy="205.7" r="3.15"/><circle cx="426.2" cy="204.9" r="3.15"/><circle cx="426.7" cy="205.2" r="3.15"/><circle cx="427.1" cy="203.7" r="3.15"/><circle cx="427.5" cy="204.9" r="3.15"/><circle cx="428.0" cy="205.7" r="3.15"/><circle cx="428.4" cy="206.2" r="3.15"/><circle cx="428.9" cy="205.0" r="3.15"/><circle cx="429.3" cy="205.2" r="3.15"/><circle cx="429.8" cy="206.4" r="3.15"/><circle cx="430.2" cy="205.0" r="3.15"/><circle cx="430.7" cy="205.8" r="3.15"/><circle cx="431.1" cy="206.4" r="3.15"/><circle cx="431.6" cy="205.3" r="3.15"/><circle cx="432.0" cy="206.1" r="3.15"/><circle cx="432.4" cy="204.8" r="3.15"/><circle cx="432.9" cy="205.4" r="3.15"/><circle cx="433.3" cy="205.2" r="3.15"/><circle cx="433.8" cy="205.3" r="3.15"/><circle cx="434.2" cy="206.1" r="3.15"/><circle cx="434.7" cy="206.9" r="3.15"/><circle cx="435.1" cy="204.8" r="3.15"/><circle cx="435.6" cy="204.9" r="3.15"/><circle cx="436.0" cy="205.6" r="3.15"/><circle cx="436.4" cy="204.5" r="3.15"/><circle cx="436.9" cy="205.6" r="3.15"/><circle cx="437.3" cy="205.6" r="3.15"/><circle cx="437.8" cy="205.0" r="3.15"/><circle cx="438.2" cy="205.6" r="3.15"/><circle cx="438.7" cy="204.1" r="3.15"/><circle cx="439.1" cy="205.7" r="3.15"/><circle cx="439.6" cy="204.1" r="3.15"/><circle cx="440.0" cy="204.7" r="3.15"/><circle cx="440.5" cy="204.8" r="3.15"/><circle cx="440.9" cy="204.9" r="3.15"/><circle cx="441.3" cy="205.8" r="3.15"/><circle cx="441.8" cy="205.2" r="3.15"/><circle cx="442.2" cy="204.9" r="3.15"/><circle cx="442.7" cy="205.6" r="3.15"/><circle cx="443.1" cy="206.3" r="3.15"/><circle cx="443.6" cy="205.2" r="3.15"/><circle cx="444.0" cy="205.5" r="3.15"/><circle cx="444.5" cy="206.1" r="3.15"/><circle cx="444.9" cy="205.4" r="3.15"/><circle cx="445.3" cy="204.3" r="3.15"/><circle cx="445.8" cy="207.0" r="3.15"/><circle cx="446.2" cy="206.8" r="3.15"/><circle cx="446.7" cy="203.9" r="3.15"/><circle cx="447.1" cy="205.2" r="3.15"/><circle cx="447.6" cy="205.6" r="3.15"/><circle cx="448.0" cy="206.0" r="3.15"/><circle cx="448.5" cy="205.8" r="3.15"/><circle cx="448.9" cy="205.1" r="3.15"/><circle cx="449.3" cy="204.6" r="3.15"/><circle cx="449.8" cy="205.4" r="3.15"/><circle cx="450.2" cy="206.1" r="3.15"/><circle cx="450.7" cy="204.6" r="3.15"/><circle cx="451.1" cy="204.6" r="3.15"/><circle cx="451.6" cy="205.4" r="3.15"/><circle cx="452.0" cy="204.0" r="3.15"/><circle cx="452.5" cy="205.2" r="3.15"/><circle cx="452.9" cy="205.1" r="3.15"/><circle cx="453.4" cy="205.7" r="3.15"/><circle cx="453.8" cy="204.9" r="3.15"/><circle cx="454.2" cy="204.8" r="3.15"/><circle cx="454.7" cy="205.1" r="3.15"/><circle cx="455.1" cy="205.4" r="3.15"/><circle cx="455.6" cy="204.9" r="3.15"/><circle cx="456.0" cy="205.4" r="3.15"/><circle cx="456.5" cy="205.9" r="3.15"/><circle cx="456.9" cy="206.2" r="3.15"/><circle cx="457.4" cy="206.6" r="3.15"/><circle cx="457.8" cy="204.8" r="3.15"/><circle cx="458.2" cy="205.1" r="3.15"/><circle cx="458.7" cy="203.6" r="3.15"/><circle cx="459.1" cy="206.7" r="3.15"/><circle cx="459.6" cy="204.9" r="3.15"/><circle cx="460.0" cy="205.3" r="3.15"/><circle cx="460.5" cy="205.7" r="3.15"/><circle cx="460.9" cy="204.4" r="3.15"/><circle cx="461.4" cy="205.7" r="3.15"/><circle cx="461.8" cy="205.3" r="3.15"/><circle cx="462.3" cy="204.1" r="3.15"/><circle cx="462.7" cy="205.5" r="3.15"/><circle cx="463.1" cy="206.2" r="3.15"/><circle cx="463.6" cy="204.0" r="3.15"/><circle cx="464.0" cy="205.9" r="3.15"/><circle cx="464.5" cy="205.5" r="3.15"/><circle cx="464.9" cy="205.7" r="3.15"/><circle cx="465.4" cy="205.6" r="3.15"/><circle cx="465.8" cy="206.3" r="3.15"/><circle cx="466.3" cy="205.2" r="3.15"/><circle cx="466.7" cy="206.0" r="3.15"/><circle cx="467.1" cy="205.1" r="3.15"/><circle cx="467.6" cy="205.9" r="3.15"/><circle cx="468.0" cy="204.8" r="3.15"/><circle cx="468.5" cy="205.3" r="3.15"/><circle cx="468.9" cy="206.6" r="3.15"/><circle cx="469.4" cy="205.7" r="3.15"/><circle cx="469.8" cy="205.3" r="3.15"/><circle cx="470.3" cy="204.6" r="3.15"/><circle cx="470.7" cy="204.9" r="3.15"/><circle cx="471.2" cy="205.6" r="3.15"/><circle cx="471.6" cy="206.1" r="3.15"/><circle cx="472.0" cy="205.7" r="3.15"/><circle cx="472.5" cy="205.8" r="3.15"/><circle cx="472.9" cy="205.4" r="3.15"/><circle cx="473.4" cy="206.4" r="3.15"/><circle cx="473.8" cy="205.1" r="3.15"/><circle cx="474.3" cy="205.0" r="3.15"/><circle cx="474.7" cy="206.0" r="3.15"/><circle cx="475.2" cy="205.4" r="3.15"/><circle cx="475.6" cy="205.2" r="3.15"/><circle cx="476.0" cy="205.0" r="3.15"/><circle cx="476.5" cy="205.2" r="3.15"/><circle cx="476.9" cy="205.8" r="3.15"/><circle cx="477.4" cy="205.6" r="3.15"/><circle cx="477.8" cy="204.5" r="3.15"/><circle cx="478.3" cy="205.6" r="3.15"/><circle cx="478.7" cy="205.5" r="3.15"/><circle cx="479.2" cy="204.6" r="3.15"/><circle cx="479.6" cy="205.8" r="3.15"/><circle cx="480.1" cy="205.1" r="3.15"/><circle cx="480.5" cy="205.0" r="3.15"/><circle cx="480.9" cy="205.8" r="3.15"/><circle cx="481.4" cy="206.2" r="3.15"/><circle cx="481.8" cy="204.8" r="3.15"/><circle cx="482.3" cy="205.5" r="3.15"/><circle cx="482.7" cy="204.6" r="3.15"/><circle cx="483.2" cy="206.8" r="3.15"/><circle cx="483.6" cy="204.9" r="3.15"/><circle cx="484.1" cy="206.1" r="3.15"/><circle cx="484.5" cy="204.8" r="3.15"/><circle cx="484.9" cy="205.8" r="3.15"/><circle cx="485.4" cy="206.8" r="3.15"/><circle cx="485.8" cy="203.4" r="3.15"/><circle cx="486.3" cy="204.9" r="3.15"/><circle cx="486.7" cy="205.6" r="3.15"/><circle cx="487.2" cy="205.2" r="3.15"/><circle cx="487.6" cy="204.8" r="3.15"/><circle cx="488.1" cy="206.7" r="3.15"/><circle cx="488.5" cy="205.3" r="3.15"/><circle cx="491.2" cy="221.3" r="3.15"/><circle cx="491.6" cy="223.4" r="3.15"/><circle cx="492.1" cy="222.2" r="3.15"/><circle cx="492.5" cy="222.7" r="3.15"/><circle cx="493.0" cy="223.4" r="3.15"/><circle cx="493.4" cy="222.7" r="3.15"/><circle cx="493.8" cy="221.6" r="3.15"/><circle cx="494.3" cy="221.4" r="3.15"/><circle cx="494.7" cy="223.4" r="3.15"/><circle cx="495.2" cy="223.1" r="3.15"/><circle cx="495.6" cy="222.0" r="3.15"/><circle cx="496.1" cy="223.2" r="3.15"/><circle cx="496.5" cy="223.0" r="3.15"/><circle cx="497.0" cy="223.1" r="3.15"/><circle cx="497.4" cy="221.1" r="3.15"/><circle cx="497.8" cy="222.5" r="3.15"/><circle cx="498.3" cy="223.3" r="3.15"/><circle cx="498.7" cy="223.2" r="3.15"/><circle cx="499.2" cy="223.3" r="3.15"/><circle cx="499.6" cy="221.0" r="3.15"/><circle cx="500.1" cy="222.8" r="3.15"/><circle cx="500.5" cy="223.1" r="3.15"/><circle cx="501.0" cy="224.5" r="3.15"/><circle cx="501.4" cy="222.0" r="3.15"/><circle cx="501.9" cy="222.5" r="3.15"/><circle cx="502.3" cy="222.7" r="3.15"/><circle cx="502.7" cy="223.3" r="3.15"/><circle cx="503.2" cy="222.4" r="3.15"/><circle cx="503.6" cy="223.5" r="3.15"/><circle cx="504.1" cy="222.2" r="3.15"/><circle cx="504.5" cy="222.9" r="3.15"/><circle cx="505.0" cy="222.3" r="3.15"/><circle cx="505.4" cy="222.8" r="3.15"/><circle cx="505.9" cy="222.2" r="3.15"/><circle cx="506.3" cy="221.6" r="3.15"/><circle cx="506.7" cy="223.5" r="3.15"/><circle cx="507.2" cy="222.9" r="3.15"/><circle cx="507.6" cy="222.3" r="3.15"/><circle cx="508.1" cy="222.8" r="3.15"/><circle cx="508.5" cy="223.4" r="3.15"/><circle cx="509.0" cy="222.0" r="3.15"/><circle cx="509.4" cy="222.6" r="3.15"/><circle cx="509.9" cy="223.0" r="3.15"/><circle cx="510.3" cy="223.0" r="3.15"/><circle cx="510.8" cy="222.4" r="3.15"/><circle cx="511.2" cy="221.2" r="3.15"/><circle cx="511.6" cy="223.6" r="3.15"/><circle cx="512.1" cy="222.9" r="3.15"/><circle cx="512.5" cy="222.7" r="3.15"/><circle cx="513.0" cy="222.5" r="3.15"/><circle cx="513.4" cy="222.9" r="3.15"/><circle cx="513.9" cy="222.4" r="3.15"/><circle cx="514.3" cy="222.0" r="3.15"/><circle cx="514.8" cy="222.2" r="3.15"/><circle cx="515.2" cy="222.3" r="3.15"/><circle cx="515.6" cy="222.3" r="3.15"/><circle cx="516.1" cy="222.0" r="3.15"/><circle cx="516.5" cy="223.2" r="3.15"/><circle cx="517.0" cy="221.9" r="3.15"/><circle cx="517.4" cy="223.3" r="3.15"/><circle cx="517.9" cy="222.1" r="3.15"/><circle cx="518.3" cy="223.1" r="3.15"/><circle cx="518.8" cy="223.8" r="3.15"/><circle cx="519.2" cy="223.0" r="3.15"/><circle cx="519.7" cy="222.3" r="3.15"/><circle cx="520.1" cy="222.9" r="3.15"/><circle cx="520.5" cy="222.9" r="3.15"/><circle cx="521.0" cy="221.6" r="3.15"/><circle cx="521.4" cy="222.4" r="3.15"/><circle cx="521.9" cy="223.0" r="3.15"/><circle cx="522.3" cy="222.5" r="3.15"/><circle cx="522.8" cy="222.9" r="3.15"/><circle cx="523.2" cy="223.4" r="3.15"/><circle cx="523.7" cy="223.4" r="3.15"/><circle cx="524.1" cy="223.5" r="3.15"/><circle cx="524.5" cy="223.2" r="3.15"/><circle cx="525.0" cy="222.6" r="3.15"/><circle cx="525.4" cy="222.8" r="3.15"/><circle cx="525.9" cy="222.6" r="3.15"/><circle cx="526.3" cy="222.6" r="3.15"/><circle cx="526.8" cy="222.7" r="3.15"/><circle cx="527.2" cy="221.6" r="3.15"/><circle cx="527.7" cy="222.5" r="3.15"/><circle cx="528.1" cy="222.7" r="3.15"/><circle cx="528.5" cy="222.1" r="3.15"/><circle cx="529.0" cy="222.7" r="3.15"/><circle cx="529.4" cy="223.1" r="3.15"/><circle cx="529.9" cy="222.6" r="3.15"/><circle cx="530.3" cy="224.2" r="3.15"/><circle cx="530.8" cy="220.9" r="3.15"/><circle cx="531.2" cy="222.6" r="3.15"/><circle cx="531.7" cy="221.4" r="3.15"/><circle cx="532.1" cy="223.4" r="3.15"/><circle cx="532.6" cy="224.6" r="3.15"/><circle cx="533.0" cy="220.9" r="3.15"/><circle cx="533.4" cy="222.8" r="3.15"/><circle cx="533.9" cy="223.1" r="3.15"/><circle cx="534.3" cy="222.5" r="3.15"/><circle cx="534.8" cy="223.1" r="3.15"/><circle cx="535.2" cy="221.1" r="3.15"/><circle cx="535.7" cy="223.3" r="3.15"/><circle cx="536.1" cy="223.0" r="3.15"/><circle cx="536.6" cy="222.7" r="3.15"/><circle cx="537.0" cy="222.3" r="3.15"/><circle cx="537.4" cy="223.2" r="3.15"/><circle cx="537.9" cy="222.4" r="3.15"/><circle cx="538.3" cy="222.9" r="3.15"/><circle cx="538.8" cy="222.4" r="3.15"/><circle cx="539.2" cy="221.2" r="3.15"/><circle cx="539.7" cy="222.7" r="3.15"/><circle cx="540.1" cy="222.9" r="3.15"/><circle cx="540.6" cy="223.3" r="3.15"/><circle cx="541.0" cy="222.1" r="3.15"/><circle cx="541.5" cy="222.7" r="3.15"/><circle cx="541.9" cy="223.2" r="3.15"/><circle cx="542.3" cy="222.8" r="3.15"/><circle cx="542.8" cy="223.6" r="3.15"/><circle cx="543.2" cy="224.1" r="3.15"/><circle cx="543.7" cy="222.1" r="3.15"/><circle cx="544.1" cy="221.4" r="3.15"/><circle cx="544.6" cy="223.3" r="3.15"/><circle cx="545.0" cy="223.8" r="3.15"/><circle cx="545.5" cy="223.3" r="3.15"/><circle cx="545.9" cy="223.2" r="3.15"/><circle cx="546.3" cy="222.2" r="3.15"/><circle cx="546.8" cy="222.1" r="3.15"/><circle cx="547.2" cy="223.3" r="3.15"/><circle cx="547.7" cy="222.0" r="3.15"/><circle cx="548.1" cy="221.3" r="3.15"/><circle cx="548.6" cy="221.9" r="3.15"/><circle cx="549.0" cy="224.3" r="3.15"/><circle cx="549.5" cy="223.9" r="3.15"/><circle cx="549.9" cy="222.1" r="3.15"/><circle cx="550.4" cy="222.1" r="3.15"/><circle cx="550.8" cy="222.7" r="3.15"/><circle cx="551.2" cy="222.0" r="3.15"/><circle cx="551.7" cy="223.5" r="3.15"/><circle cx="552.1" cy="222.5" r="3.15"/><circle cx="552.6" cy="221.8" r="3.15"/><circle cx="553.0" cy="223.5" r="3.15"/><circle cx="553.5" cy="222.1" r="3.15"/><circle cx="553.9" cy="222.7" r="3.15"/><circle cx="554.4" cy="222.6" r="3.15"/><circle cx="554.8" cy="222.4" r="3.15"/><circle cx="555.2" cy="222.8" r="3.15"/><circle cx="555.7" cy="222.1" r="3.15"/><circle cx="558.4" cy="195.8" r="3.15"/><circle cx="558.8" cy="196.1" r="3.15"/><circle cx="559.3" cy="196.7" r="3.15"/><circle cx="559.7" cy="196.7" r="3.15"/><circle cx="560.1" cy="197.1" r="3.15"/><circle cx="560.6" cy="196.8" r="3.15"/><circle cx="561.0" cy="196.1" r="3.15"/><circle cx="561.5" cy="196.2" r="3.15"/><circle cx="561.9" cy="195.2" r="3.15"/><circle cx="562.4" cy="196.6" r="3.15"/><circle cx="562.8" cy="197.0" r="3.15"/><circle cx="563.3" cy="197.0" r="3.15"/><circle cx="563.7" cy="196.6" r="3.15"/><circle cx="564.1" cy="196.5" r="3.15"/><circle cx="564.6" cy="197.3" r="3.15"/><circle cx="565.0" cy="196.7" r="3.15"/><circle cx="565.5" cy="197.2" r="3.15"/><circle cx="565.9" cy="197.0" r="3.15"/><circle cx="566.4" cy="196.8" r="3.15"/><circle cx="566.8" cy="197.5" r="3.15"/><circle cx="567.3" cy="196.2" r="3.15"/><circle cx="567.7" cy="196.4" r="3.15"/><circle cx="568.1" cy="196.1" r="3.15"/><circle cx="568.6" cy="196.1" r="3.15"/><circle cx="569.0" cy="197.7" r="3.15"/><circle cx="569.5" cy="197.9" r="3.15"/><circle cx="569.9" cy="196.6" r="3.15"/><circle cx="570.4" cy="197.0" r="3.15"/><circle cx="570.8" cy="197.5" r="3.15"/><circle cx="571.3" cy="197.2" r="3.15"/><circle cx="571.7" cy="197.5" r="3.15"/><circle cx="572.2" cy="195.8" r="3.15"/><circle cx="572.6" cy="196.2" r="3.15"/><circle cx="573.0" cy="197.0" r="3.15"/><circle cx="573.5" cy="197.7" r="3.15"/><circle cx="573.9" cy="196.8" r="3.15"/><circle cx="574.4" cy="196.1" r="3.15"/><circle cx="574.8" cy="196.5" r="3.15"/><circle cx="575.3" cy="196.2" r="3.15"/><circle cx="575.7" cy="196.1" r="3.15"/><circle cx="576.2" cy="197.8" r="3.15"/><circle cx="576.6" cy="196.3" r="3.15"/><circle cx="577.0" cy="196.7" r="3.15"/><circle cx="577.5" cy="198.2" r="3.15"/><circle cx="577.9" cy="197.6" r="3.15"/><circle cx="578.4" cy="197.0" r="3.15"/><circle cx="578.8" cy="196.3" r="3.15"/><circle cx="579.3" cy="197.0" r="3.15"/><circle cx="579.7" cy="197.9" r="3.15"/><circle cx="580.2" cy="197.2" r="3.15"/><circle cx="580.6" cy="197.6" r="3.15"/><circle cx="581.1" cy="196.8" r="3.15"/><circle cx="581.5" cy="197.1" r="3.15"/><circle cx="581.9" cy="196.6" r="3.15"/><circle cx="582.4" cy="197.0" r="3.15"/><circle cx="582.8" cy="197.6" r="3.15"/><circle cx="583.3" cy="195.7" r="3.15"/><circle cx="583.7" cy="196.6" r="3.15"/><circle cx="584.2" cy="196.8" r="3.15"/><circle cx="584.6" cy="196.2" r="3.15"/><circle cx="585.1" cy="196.4" r="3.15"/><circle cx="585.5" cy="197.2" r="3.15"/><circle cx="585.9" cy="198.0" r="3.15"/><circle cx="586.4" cy="197.0" r="3.15"/><circle cx="586.8" cy="196.8" r="3.15"/><circle cx="587.3" cy="195.5" r="3.15"/><circle cx="587.7" cy="197.9" r="3.15"/><circle cx="588.2" cy="196.6" r="3.15"/><circle cx="588.6" cy="196.5" r="3.15"/><circle cx="589.1" cy="195.8" r="3.15"/><circle cx="589.5" cy="196.5" r="3.15"/><circle cx="590.0" cy="195.8" r="3.15"/><circle cx="590.4" cy="196.6" r="3.15"/><circle cx="590.8" cy="196.9" r="3.15"/><circle cx="591.3" cy="196.6" r="3.15"/><circle cx="591.7" cy="196.7" r="3.15"/><circle cx="592.2" cy="195.9" r="3.15"/><circle cx="592.6" cy="197.5" r="3.15"/><circle cx="593.1" cy="196.1" r="3.15"/><circle cx="593.5" cy="195.3" r="3.15"/><circle cx="594.0" cy="196.4" r="3.15"/><circle cx="594.4" cy="196.0" r="3.15"/><circle cx="594.8" cy="195.9" r="3.15"/><circle cx="595.3" cy="196.3" r="3.15"/><circle cx="595.7" cy="196.8" r="3.15"/><circle cx="596.2" cy="195.7" r="3.15"/><circle cx="596.6" cy="196.5" r="3.15"/><circle cx="597.1" cy="197.6" r="3.15"/><circle cx="597.5" cy="197.1" r="3.15"/><circle cx="598.0" cy="196.5" r="3.15"/><circle cx="598.4" cy="196.7" r="3.15"/><circle cx="598.9" cy="196.5" r="3.15"/><circle cx="599.3" cy="196.6" r="3.15"/><circle cx="599.7" cy="197.1" r="3.15"/><circle cx="600.2" cy="196.5" r="3.15"/><circle cx="600.6" cy="194.9" r="3.15"/><circle cx="601.1" cy="196.6" r="3.15"/><circle cx="601.5" cy="195.9" r="3.15"/><circle cx="602.0" cy="197.0" r="3.15"/><circle cx="602.4" cy="196.1" r="3.15"/><circle cx="602.9" cy="196.7" r="3.15"/><circle cx="603.3" cy="198.1" r="3.15"/><circle cx="603.7" cy="195.8" r="3.15"/><circle cx="604.2" cy="195.7" r="3.15"/><circle cx="604.6" cy="195.5" r="3.15"/><circle cx="605.1" cy="194.8" r="3.15"/><circle cx="605.5" cy="195.2" r="3.15"/><circle cx="606.0" cy="196.7" r="3.15"/><circle cx="606.4" cy="196.0" r="3.15"/><circle cx="606.9" cy="195.2" r="3.15"/><circle cx="607.3" cy="195.4" r="3.15"/><circle cx="607.7" cy="196.9" r="3.15"/><circle cx="608.2" cy="195.9" r="3.15"/><circle cx="608.6" cy="196.2" r="3.15"/><circle cx="609.1" cy="196.7" r="3.15"/><circle cx="609.5" cy="197.4" r="3.15"/><circle cx="610.0" cy="197.8" r="3.15"/><circle cx="610.4" cy="197.2" r="3.15"/><circle cx="610.9" cy="196.6" r="3.15"/><circle cx="611.3" cy="196.6" r="3.15"/><circle cx="611.8" cy="197.7" r="3.15"/><circle cx="612.2" cy="197.5" r="3.15"/><circle cx="612.6" cy="196.3" r="3.15"/><circle cx="613.1" cy="196.8" r="3.15"/><circle cx="613.5" cy="196.7" r="3.15"/><circle cx="614.0" cy="196.6" r="3.15"/><circle cx="614.4" cy="196.2" r="3.15"/><circle cx="614.9" cy="195.6" r="3.15"/><circle cx="615.3" cy="196.2" r="3.15"/><circle cx="615.8" cy="195.5" r="3.15"/><circle cx="616.2" cy="197.4" r="3.15"/><circle cx="616.6" cy="197.0" r="3.15"/><circle cx="617.1" cy="195.8" r="3.15"/><circle cx="617.5" cy="197.6" r="3.15"/><circle cx="618.0" cy="197.2" r="3.15"/><circle cx="618.4" cy="195.3" r="3.15"/><circle cx="618.9" cy="197.9" r="3.15"/><circle cx="619.3" cy="197.2" r="3.15"/><circle cx="619.8" cy="198.1" r="3.15"/><circle cx="620.2" cy="195.8" r="3.15"/><circle cx="620.7" cy="197.0" r="3.15"/><circle cx="621.1" cy="196.9" r="3.15"/><circle cx="621.5" cy="196.8" r="3.15"/><circle cx="622.0" cy="196.8" r="3.15"/><circle cx="622.4" cy="197.4" r="3.15"/><circle cx="622.9" cy="195.6" r="3.15"/><circle cx="625.1" cy="157.1" r="3.15"/><circle cx="625.5" cy="157.1" r="3.15"/><circle cx="626.0" cy="157.7" r="3.15"/><circle cx="626.4" cy="157.7" r="3.15"/><circle cx="626.9" cy="157.5" r="3.15"/><circle cx="627.3" cy="157.0" r="3.15"/><circle cx="627.8" cy="157.2" r="3.15"/><circle cx="628.2" cy="158.1" r="3.15"/><circle cx="628.7" cy="158.0" r="3.15"/><circle cx="629.1" cy="157.5" r="3.15"/><circle cx="629.6" cy="157.2" r="3.15"/><circle cx="630.0" cy="158.5" r="3.15"/><circle cx="630.4" cy="157.0" r="3.15"/><circle cx="630.9" cy="157.9" r="3.15"/><circle cx="631.3" cy="158.2" r="3.15"/><circle cx="631.8" cy="157.2" r="3.15"/><circle cx="632.2" cy="158.0" r="3.15"/><circle cx="632.7" cy="156.6" r="3.15"/><circle cx="633.1" cy="158.1" r="3.15"/><circle cx="633.6" cy="157.6" r="3.15"/><circle cx="634.0" cy="156.3" r="3.15"/><circle cx="634.4" cy="157.9" r="3.15"/><circle cx="634.9" cy="156.8" r="3.15"/><circle cx="635.3" cy="158.3" r="3.15"/><circle cx="635.8" cy="157.0" r="3.15"/><circle cx="636.2" cy="157.3" r="3.15"/><circle cx="636.7" cy="157.7" r="3.15"/><circle cx="637.1" cy="157.2" r="3.15"/><circle cx="637.6" cy="157.7" r="3.15"/><circle cx="638.0" cy="157.1" r="3.15"/><circle cx="638.5" cy="158.0" r="3.15"/><circle cx="638.9" cy="157.5" r="3.15"/><circle cx="639.3" cy="157.6" r="3.15"/><circle cx="639.8" cy="155.6" r="3.15"/><circle cx="640.2" cy="158.3" r="3.15"/><circle cx="640.7" cy="157.5" r="3.15"/><circle cx="641.1" cy="156.3" r="3.15"/><circle cx="641.6" cy="157.6" r="3.15"/><circle cx="642.0" cy="157.9" r="3.15"/><circle cx="642.5" cy="158.3" r="3.15"/><circle cx="642.9" cy="156.8" r="3.15"/><circle cx="643.3" cy="158.6" r="3.15"/><circle cx="643.8" cy="157.4" r="3.15"/><circle cx="644.2" cy="159.2" r="3.15"/><circle cx="644.7" cy="157.4" r="3.15"/><circle cx="645.1" cy="158.0" r="3.15"/><circle cx="645.6" cy="157.3" r="3.15"/><circle cx="646.0" cy="156.7" r="3.15"/><circle cx="646.5" cy="158.3" r="3.15"/><circle cx="646.9" cy="158.1" r="3.15"/><circle cx="647.3" cy="158.6" r="3.15"/><circle cx="647.8" cy="158.1" r="3.15"/><circle cx="648.2" cy="157.1" r="3.15"/><circle cx="648.7" cy="156.3" r="3.15"/><circle cx="649.1" cy="157.0" r="3.15"/><circle cx="649.6" cy="157.0" r="3.15"/><circle cx="650.0" cy="156.8" r="3.15"/><circle cx="650.5" cy="157.8" r="3.15"/><circle cx="650.9" cy="157.6" r="3.15"/><circle cx="651.4" cy="157.2" r="3.15"/><circle cx="651.8" cy="157.5" r="3.15"/><circle cx="652.2" cy="157.3" r="3.15"/><circle cx="652.7" cy="157.5" r="3.15"/><circle cx="653.1" cy="157.9" r="3.15"/><circle cx="653.6" cy="158.0" r="3.15"/><circle cx="654.0" cy="156.9" r="3.15"/><circle cx="654.5" cy="156.3" r="3.15"/><circle cx="654.9" cy="158.3" r="3.15"/><circle cx="655.4" cy="157.4" r="3.15"/><circle cx="655.8" cy="158.1" r="3.15"/><circle cx="656.2" cy="156.2" r="3.15"/><circle cx="656.7" cy="157.1" r="3.15"/><circle cx="657.1" cy="157.4" r="3.15"/><circle cx="657.6" cy="156.3" r="3.15"/><circle cx="658.0" cy="157.0" r="3.15"/><circle cx="658.5" cy="157.9" r="3.15"/><circle cx="658.9" cy="158.1" r="3.15"/><circle cx="659.4" cy="158.5" r="3.15"/><circle cx="659.8" cy="156.8" r="3.15"/><circle cx="660.3" cy="156.4" r="3.15"/><circle cx="660.7" cy="157.7" r="3.15"/><circle cx="661.1" cy="158.0" r="3.15"/><circle cx="661.6" cy="157.5" r="3.15"/><circle cx="662.0" cy="156.5" r="3.15"/><circle cx="662.5" cy="157.9" r="3.15"/><circle cx="662.9" cy="157.9" r="3.15"/><circle cx="663.4" cy="157.8" r="3.15"/><circle cx="663.8" cy="157.0" r="3.15"/><circle cx="664.3" cy="157.6" r="3.15"/><circle cx="664.7" cy="157.9" r="3.15"/><circle cx="665.1" cy="157.0" r="3.15"/><circle cx="665.6" cy="156.1" r="3.15"/><circle cx="666.0" cy="157.6" r="3.15"/><circle cx="666.5" cy="157.7" r="3.15"/><circle cx="666.9" cy="157.4" r="3.15"/><circle cx="667.4" cy="158.0" r="3.15"/><circle cx="667.8" cy="156.9" r="3.15"/><circle cx="668.3" cy="157.3" r="3.15"/><circle cx="668.7" cy="157.1" r="3.15"/><circle cx="669.2" cy="157.7" r="3.15"/><circle cx="669.6" cy="158.4" r="3.15"/><circle cx="670.0" cy="157.1" r="3.15"/><circle cx="670.5" cy="158.7" r="3.15"/><circle cx="670.9" cy="158.4" r="3.15"/><circle cx="671.4" cy="157.8" r="3.15"/><circle cx="671.8" cy="157.7" r="3.15"/><circle cx="672.3" cy="158.5" r="3.15"/><circle cx="672.7" cy="157.1" r="3.15"/><circle cx="673.2" cy="157.2" r="3.15"/><circle cx="673.6" cy="156.5" r="3.15"/><circle cx="674.0" cy="157.6" r="3.15"/><circle cx="674.5" cy="158.2" r="3.15"/><circle cx="674.9" cy="157.6" r="3.15"/><circle cx="675.4" cy="157.6" r="3.15"/><circle cx="675.8" cy="157.1" r="3.15"/><circle cx="676.3" cy="157.4" r="3.15"/><circle cx="676.7" cy="156.3" r="3.15"/><circle cx="677.2" cy="158.0" r="3.15"/><circle cx="677.6" cy="157.0" r="3.15"/><circle cx="678.1" cy="156.5" r="3.15"/><circle cx="678.5" cy="156.8" r="3.15"/><circle cx="678.9" cy="156.8" r="3.15"/><circle cx="679.4" cy="157.9" r="3.15"/><circle cx="679.8" cy="158.1" r="3.15"/><circle cx="680.3" cy="156.4" r="3.15"/><circle cx="680.7" cy="158.0" r="3.15"/><circle cx="681.2" cy="158.0" r="3.15"/><circle cx="681.6" cy="157.0" r="3.15"/><circle cx="682.1" cy="156.4" r="3.15"/><circle cx="682.5" cy="156.9" r="3.15"/><circle cx="682.9" cy="157.0" r="3.15"/><circle cx="683.4" cy="157.7" r="3.15"/><circle cx="683.8" cy="157.2" r="3.15"/><circle cx="684.3" cy="156.0" r="3.15"/><circle cx="684.7" cy="157.6" r="3.15"/><circle cx="685.2" cy="156.4" r="3.15"/><circle cx="685.6" cy="158.1" r="3.15"/><circle cx="686.1" cy="156.6" r="3.15"/><circle cx="686.5" cy="157.0" r="3.15"/><circle cx="686.9" cy="156.9" r="3.15"/><circle cx="687.4" cy="157.1" r="3.15"/><circle cx="687.8" cy="158.4" r="3.15"/><circle cx="688.3" cy="158.0" r="3.15"/><circle cx="688.7" cy="157.9" r="3.15"/><circle cx="689.2" cy="157.7" r="3.15"/><circle cx="689.6" cy="156.3" r="3.15"/><circle cx="692.3" cy="80.0" r="3.15"/><circle cx="692.7" cy="81.0" r="3.15"/><circle cx="693.2" cy="80.2" r="3.15"/><circle cx="693.6" cy="80.2" r="3.15"/><circle cx="694.1" cy="80.0" r="3.15"/><circle cx="694.5" cy="79.3" r="3.15"/><circle cx="695.0" cy="81.1" r="3.15"/><circle cx="695.4" cy="81.7" r="3.15"/><circle cx="695.8" cy="80.9" r="3.15"/><circle cx="696.3" cy="80.0" r="3.15"/><circle cx="696.7" cy="78.8" r="3.15"/><circle cx="697.2" cy="80.9" r="3.15"/><circle cx="697.6" cy="81.6" r="3.15"/><circle cx="698.1" cy="80.9" r="3.15"/><circle cx="698.5" cy="81.4" r="3.15"/><circle cx="699.0" cy="81.8" r="3.15"/><circle cx="699.4" cy="81.5" r="3.15"/><circle cx="699.9" cy="80.4" r="3.15"/><circle cx="700.3" cy="81.4" r="3.15"/><circle cx="700.7" cy="81.2" r="3.15"/><circle cx="701.2" cy="79.6" r="3.15"/><circle cx="701.6" cy="80.4" r="3.15"/><circle cx="702.1" cy="79.7" r="3.15"/><circle cx="702.5" cy="80.6" r="3.15"/><circle cx="703.0" cy="81.1" r="3.15"/><circle cx="703.4" cy="79.9" r="3.15"/><circle cx="703.9" cy="79.2" r="3.15"/><circle cx="704.3" cy="81.6" r="3.15"/><circle cx="704.7" cy="80.9" r="3.15"/><circle cx="705.2" cy="81.7" r="3.15"/><circle cx="705.6" cy="79.7" r="3.15"/><circle cx="706.1" cy="81.4" r="3.15"/><circle cx="706.5" cy="82.1" r="3.15"/><circle cx="707.0" cy="82.0" r="3.15"/><circle cx="707.4" cy="80.5" r="3.15"/><circle cx="707.9" cy="80.8" r="3.15"/><circle cx="708.3" cy="80.5" r="3.15"/><circle cx="708.8" cy="81.3" r="3.15"/><circle cx="709.2" cy="81.4" r="3.15"/><circle cx="709.6" cy="80.7" r="3.15"/><circle cx="710.1" cy="79.7" r="3.15"/><circle cx="710.5" cy="81.2" r="3.15"/><circle cx="711.0" cy="80.3" r="3.15"/><circle cx="711.4" cy="81.1" r="3.15"/><circle cx="711.9" cy="80.8" r="3.15"/><circle cx="712.3" cy="81.8" r="3.15"/><circle cx="712.8" cy="81.5" r="3.15"/><circle cx="713.2" cy="80.4" r="3.15"/><circle cx="713.6" cy="80.9" r="3.15"/><circle cx="714.1" cy="81.9" r="3.15"/><circle cx="714.5" cy="80.3" r="3.15"/><circle cx="715.0" cy="81.0" r="3.15"/><circle cx="715.4" cy="81.5" r="3.15"/><circle cx="715.9" cy="81.6" r="3.15"/><circle cx="716.3" cy="81.0" r="3.15"/><circle cx="716.8" cy="79.8" r="3.15"/><circle cx="717.2" cy="79.8" r="3.15"/><circle cx="717.7" cy="80.8" r="3.15"/><circle cx="718.1" cy="80.9" r="3.15"/><circle cx="718.5" cy="82.4" r="3.15"/><circle cx="719.0" cy="80.0" r="3.15"/><circle cx="719.4" cy="81.4" r="3.15"/><circle cx="719.9" cy="81.2" r="3.15"/><circle cx="720.3" cy="79.4" r="3.15"/><circle cx="720.8" cy="80.0" r="3.15"/><circle cx="721.2" cy="80.7" r="3.15"/><circle cx="721.7" cy="80.2" r="3.15"/><circle cx="722.1" cy="80.5" r="3.15"/><circle cx="722.5" cy="80.9" r="3.15"/><circle cx="723.0" cy="80.0" r="3.15"/><circle cx="723.4" cy="80.9" r="3.15"/><circle cx="723.9" cy="80.1" r="3.15"/><circle cx="724.3" cy="80.1" r="3.15"/><circle cx="724.8" cy="80.9" r="3.15"/><circle cx="725.2" cy="80.1" r="3.15"/><circle cx="725.7" cy="80.7" r="3.15"/><circle cx="726.1" cy="81.6" r="3.15"/><circle cx="726.5" cy="80.5" r="3.15"/><circle cx="727.0" cy="80.4" r="3.15"/><circle cx="727.4" cy="81.0" r="3.15"/><circle cx="727.9" cy="80.2" r="3.15"/><circle cx="728.3" cy="81.2" r="3.15"/><circle cx="728.8" cy="79.6" r="3.15"/><circle cx="729.2" cy="80.9" r="3.15"/><circle cx="729.7" cy="80.1" r="3.15"/><circle cx="730.1" cy="79.9" r="3.15"/><circle cx="730.6" cy="81.7" r="3.15"/><circle cx="731.0" cy="79.9" r="3.15"/><circle cx="731.4" cy="81.7" r="3.15"/><circle cx="731.9" cy="81.0" r="3.15"/><circle cx="732.3" cy="81.5" r="3.15"/><circle cx="732.8" cy="79.8" r="3.15"/><circle cx="733.2" cy="81.4" r="3.15"/><circle cx="733.7" cy="81.6" r="3.15"/><circle cx="734.1" cy="80.5" r="3.15"/><circle cx="734.6" cy="80.5" r="3.15"/><circle cx="735.0" cy="82.3" r="3.15"/><circle cx="735.4" cy="80.7" r="3.15"/><circle cx="735.9" cy="80.3" r="3.15"/><circle cx="736.3" cy="80.1" r="3.15"/><circle cx="736.8" cy="80.9" r="3.15"/><circle cx="737.2" cy="80.8" r="3.15"/><circle cx="737.7" cy="80.7" r="3.15"/><circle cx="738.1" cy="81.8" r="3.15"/><circle cx="738.6" cy="80.3" r="3.15"/><circle cx="739.0" cy="80.9" r="3.15"/><circle cx="739.5" cy="81.6" r="3.15"/><circle cx="739.9" cy="79.9" r="3.15"/><circle cx="740.3" cy="81.3" r="3.15"/><circle cx="740.8" cy="81.8" r="3.15"/><circle cx="741.2" cy="79.6" r="3.15"/><circle cx="741.7" cy="79.8" r="3.15"/><circle cx="742.1" cy="79.8" r="3.15"/><circle cx="742.6" cy="79.2" r="3.15"/><circle cx="743.0" cy="80.8" r="3.15"/><circle cx="743.5" cy="79.2" r="3.15"/><circle cx="743.9" cy="80.9" r="3.15"/><circle cx="744.3" cy="81.5" r="3.15"/><circle cx="744.8" cy="79.4" r="3.15"/><circle cx="745.2" cy="80.3" r="3.15"/><circle cx="745.7" cy="79.2" r="3.15"/><circle cx="746.1" cy="81.0" r="3.15"/><circle cx="746.6" cy="80.0" r="3.15"/><circle cx="747.0" cy="80.3" r="3.15"/><circle cx="747.5" cy="80.5" r="3.15"/><circle cx="747.9" cy="80.9" r="3.15"/><circle cx="748.4" cy="80.3" r="3.15"/><circle cx="748.8" cy="80.5" r="3.15"/><circle cx="749.2" cy="80.2" r="3.15"/><circle cx="749.7" cy="80.6" r="3.15"/><circle cx="750.1" cy="79.7" r="3.15"/><circle cx="750.6" cy="80.6" r="3.15"/><circle cx="751.0" cy="79.2" r="3.15"/><circle cx="751.5" cy="80.2" r="3.15"/><circle cx="751.9" cy="81.9" r="3.15"/><circle cx="752.4" cy="80.7" r="3.15"/><circle cx="752.8" cy="79.7" r="3.15"/><circle cx="753.2" cy="80.8" r="3.15"/><circle cx="753.7" cy="80.0" r="3.15"/><circle cx="754.1" cy="79.5" r="3.15"/><circle cx="754.6" cy="80.2" r="3.15"/><circle cx="755.0" cy="81.2" r="3.15"/><circle cx="755.5" cy="81.0" r="3.15"/><circle cx="755.9" cy="80.6" r="3.15"/><circle cx="756.4" cy="80.1" r="3.15"/><circle cx="756.8" cy="80.0" r="3.15"/><circle cx="757.3" cy="81.7" r="3.15"/><circle cx="757.7" cy="80.9" r="3.15"/><circle cx="758.1" cy="80.1" r="3.15"/><circle cx="758.6" cy="79.2" r="3.15"/><circle cx="759.0" cy="79.8" r="3.15"/><circle cx="759.5" cy="82.4" r="3.15"/><circle cx="759.9" cy="79.9" r="3.15"/><circle cx="760.4" cy="80.7" r="3.15"/><circle cx="760.8" cy="80.9" r="3.15"/><circle cx="761.3" cy="80.6" r="3.15"/><circle cx="761.7" cy="80.5" r="3.15"/><circle cx="762.1" cy="79.7" r="3.15"/><circle cx="762.6" cy="79.9" r="3.15"/><circle cx="763.0" cy="81.9" r="3.15"/><circle cx="763.5" cy="80.1" r="3.15"/><circle cx="763.9" cy="81.3" r="3.15"/><circle cx="764.4" cy="79.5" r="3.15"/><circle cx="764.8" cy="80.5" r="3.15"/><circle cx="765.3" cy="80.8" r="3.15"/><circle cx="765.7" cy="81.4" r="3.15"/><circle cx="766.1" cy="79.9" r="3.15"/><circle cx="766.6" cy="81.1" r="3.15"/><circle cx="767.0" cy="80.9" r="3.15"/><circle cx="767.5" cy="80.1" r="3.15"/><circle cx="767.9" cy="81.0" r="3.15"/><circle cx="768.4" cy="80.0" r="3.15"/><circle cx="768.8" cy="80.1" r="3.15"/><circle cx="769.3" cy="80.6" r="3.15"/><circle cx="769.7" cy="78.7" r="3.15"/><circle cx="770.2" cy="80.6" r="3.15"/><circle cx="770.6" cy="79.9" r="3.15"/><circle cx="771.0" cy="79.6" r="3.15"/><circle cx="771.5" cy="80.4" r="3.15"/><circle cx="771.9" cy="81.2" r="3.15"/><circle cx="772.4" cy="80.4" r="3.15"/><circle cx="772.8" cy="81.6" r="3.15"/><circle cx="773.3" cy="79.9" r="3.15"/><circle cx="773.7" cy="79.8" r="3.15"/><circle cx="774.2" cy="81.8" r="3.15"/><circle cx="774.6" cy="81.0" r="3.15"/><circle cx="775.0" cy="81.4" r="3.15"/><circle cx="775.5" cy="80.1" r="3.15"/><circle cx="775.9" cy="81.3" r="3.15"/><circle cx="776.4" cy="80.9" r="3.15"/><circle cx="776.8" cy="81.2" r="3.15"/><circle cx="777.3" cy="80.7" r="3.15"/><circle cx="777.7" cy="81.5" r="3.15"/><circle cx="778.2" cy="80.2" r="3.15"/><circle cx="778.6" cy="80.0" r="3.15"/><circle cx="779.1" cy="79.7" r="3.15"/><circle cx="779.5" cy="81.5" r="3.15"/><circle cx="779.9" cy="80.2" r="3.15"/><circle cx="780.4" cy="79.9" r="3.15"/><circle cx="780.8" cy="80.0" r="3.15"/><circle cx="781.3" cy="80.3" r="3.15"/><circle cx="781.7" cy="79.7" r="3.15"/><circle cx="782.2" cy="80.4" r="3.15"/><circle cx="782.6" cy="80.2" r="3.15"/><circle cx="783.1" cy="80.2" r="3.15"/><circle cx="783.5" cy="79.9" r="3.15"/><circle cx="783.9" cy="80.6" r="3.15"/><circle cx="784.4" cy="80.2" r="3.15"/><circle cx="784.8" cy="80.6" r="3.15"/><circle cx="785.3" cy="80.7" r="3.15"/><circle cx="785.7" cy="80.8" r="3.15"/><circle cx="786.2" cy="79.0" r="3.15"/><circle cx="786.6" cy="80.1" r="3.15"/><circle cx="787.1" cy="80.0" r="3.15"/><circle cx="787.5" cy="81.0" r="3.15"/><circle cx="788.0" cy="79.4" r="3.15"/><circle cx="788.4" cy="80.0" r="3.15"/><circle cx="788.8" cy="80.3" r="3.15"/><circle cx="789.3" cy="80.3" r="3.15"/><circle cx="789.7" cy="81.2" r="3.15"/><circle cx="790.2" cy="80.2" r="3.15"/><circle cx="790.6" cy="81.2" r="3.15"/><circle cx="791.1" cy="79.5" r="3.15"/><circle cx="791.5" cy="79.2" r="3.15"/><circle cx="792.0" cy="81.4" r="3.15"/><circle cx="792.4" cy="80.8" r="3.15"/><circle cx="792.8" cy="80.9" r="3.15"/><circle cx="793.3" cy="80.6" r="3.15"/><circle cx="793.7" cy="80.9" r="3.15"/><circle cx="794.2" cy="79.7" r="3.15"/><circle cx="794.6" cy="81.2" r="3.15"/><circle cx="795.1" cy="80.2" r="3.15"/><circle cx="795.5" cy="81.2" r="3.15"/><circle cx="796.0" cy="80.6" r="3.15"/><circle cx="796.4" cy="79.2" r="3.15"/><circle cx="796.9" cy="79.7" r="3.15"/><circle cx="797.3" cy="81.4" r="3.15"/><circle cx="797.7" cy="80.5" r="3.15"/><circle cx="798.2" cy="80.3" r="3.15"/><circle cx="798.6" cy="80.7" r="3.15"/><circle cx="799.1" cy="80.3" r="3.15"/><circle cx="799.5" cy="80.2" r="3.15"/><circle cx="800.0" cy="80.6" r="3.15"/><circle cx="800.4" cy="80.7" r="3.15"/><circle cx="800.9" cy="81.6" r="3.15"/><circle cx="801.3" cy="80.6" r="3.15"/><circle cx="801.7" cy="81.9" r="3.15"/><circle cx="802.2" cy="81.8" r="3.15"/><circle cx="802.6" cy="81.7" r="3.15"/><circle cx="803.1" cy="81.3" r="3.15"/><circle cx="803.5" cy="80.6" r="3.15"/><circle cx="804.0" cy="80.6" r="3.15"/><circle cx="804.4" cy="80.4" r="3.15"/><circle cx="804.9" cy="80.0" r="3.15"/><circle cx="805.3" cy="80.4" r="3.15"/><circle cx="805.7" cy="80.0" r="3.15"/><circle cx="806.2" cy="81.6" r="3.15"/><circle cx="806.6" cy="80.9" r="3.15"/><circle cx="807.1" cy="80.2" r="3.15"/><circle cx="807.5" cy="79.1" r="3.15"/><circle cx="808.0" cy="80.4" r="3.15"/><circle cx="808.4" cy="80.2" r="3.15"/><circle cx="808.9" cy="79.7" r="3.15"/><circle cx="809.3" cy="79.7" r="3.15"/><circle cx="809.8" cy="78.9" r="3.15"/><circle cx="810.2" cy="80.9" r="3.15"/><circle cx="810.6" cy="80.5" r="3.15"/><circle cx="811.1" cy="82.3" r="3.15"/><circle cx="811.5" cy="80.5" r="3.15"/><circle cx="812.0" cy="80.4" r="3.15"/><circle cx="812.4" cy="81.6" r="3.15"/><circle cx="812.9" cy="80.7" r="3.15"/><circle cx="813.3" cy="80.7" r="3.15"/><circle cx="813.8" cy="80.3" r="3.15"/><circle cx="814.2" cy="80.2" r="3.15"/><circle cx="814.6" cy="81.7" r="3.15"/><circle cx="815.1" cy="81.3" r="3.15"/><circle cx="815.5" cy="81.8" r="3.15"/><circle cx="816.0" cy="80.4" r="3.15"/><circle cx="816.4" cy="80.7" r="3.15"/><circle cx="816.9" cy="80.0" r="3.15"/><circle cx="817.3" cy="81.3" r="3.15"/><circle cx="817.8" cy="79.7" r="3.15"/><circle cx="818.2" cy="81.1" r="3.15"/><circle cx="827.6" cy="204.3" r="3.15"/><circle cx="828.0" cy="205.7" r="3.15"/><circle cx="828.4" cy="204.5" r="3.15"/><circle cx="828.9" cy="204.4" r="3.15"/><circle cx="829.3" cy="204.0" r="3.15"/><circle cx="829.8" cy="205.8" r="3.15"/><circle cx="830.2" cy="206.1" r="3.15"/><circle cx="830.7" cy="204.5" r="3.15"/><circle cx="831.1" cy="204.4" r="3.15"/><circle cx="831.6" cy="204.7" r="3.15"/><circle cx="832.0" cy="206.7" r="3.15"/><circle cx="832.4" cy="205.6" r="3.15"/><circle cx="832.9" cy="204.5" r="3.15"/><circle cx="833.3" cy="203.7" r="3.15"/><circle cx="833.8" cy="204.4" r="3.15"/><circle cx="834.2" cy="205.7" r="3.15"/><circle cx="834.7" cy="206.2" r="3.15"/><circle cx="835.1" cy="204.7" r="3.15"/><circle cx="835.6" cy="204.4" r="3.15"/><circle cx="836.0" cy="204.5" r="3.15"/><circle cx="836.5" cy="203.6" r="3.15"/><circle cx="836.9" cy="205.5" r="3.15"/><circle cx="837.3" cy="204.1" r="3.15"/><circle cx="837.8" cy="205.6" r="3.15"/><circle cx="838.2" cy="203.7" r="3.15"/><circle cx="838.7" cy="204.0" r="3.15"/><circle cx="839.1" cy="205.1" r="3.15"/><circle cx="839.6" cy="204.4" r="3.15"/><circle cx="840.0" cy="205.4" r="3.15"/><circle cx="840.5" cy="204.9" r="3.15"/><circle cx="840.9" cy="204.1" r="3.15"/><circle cx="841.3" cy="205.4" r="3.15"/><circle cx="841.8" cy="205.5" r="3.15"/><circle cx="842.2" cy="203.6" r="3.15"/><circle cx="842.7" cy="206.2" r="3.15"/><circle cx="843.1" cy="205.3" r="3.15"/><circle cx="843.6" cy="205.5" r="3.15"/><circle cx="844.0" cy="203.7" r="3.15"/><circle cx="844.5" cy="204.5" r="3.15"/><circle cx="844.9" cy="204.8" r="3.15"/><circle cx="845.3" cy="205.8" r="3.15"/><circle cx="845.8" cy="204.0" r="3.15"/><circle cx="846.2" cy="204.4" r="3.15"/><circle cx="846.7" cy="203.6" r="3.15"/><circle cx="847.1" cy="204.9" r="3.15"/><circle cx="847.6" cy="205.3" r="3.15"/><circle cx="848.0" cy="203.9" r="3.15"/><circle cx="848.5" cy="204.7" r="3.15"/><circle cx="848.9" cy="205.4" r="3.15"/><circle cx="849.4" cy="206.2" r="3.15"/><circle cx="849.8" cy="205.5" r="3.15"/><circle cx="850.2" cy="204.9" r="3.15"/><circle cx="850.7" cy="204.3" r="3.15"/><circle cx="851.1" cy="204.4" r="3.15"/><circle cx="851.6" cy="204.6" r="3.15"/><circle cx="852.0" cy="205.2" r="3.15"/><circle cx="852.5" cy="205.0" r="3.15"/><circle cx="852.9" cy="206.2" r="3.15"/><circle cx="853.4" cy="205.3" r="3.15"/><circle cx="853.8" cy="204.3" r="3.15"/><circle cx="854.2" cy="206.1" r="3.15"/><circle cx="854.7" cy="205.7" r="3.15"/><circle cx="855.1" cy="205.1" r="3.15"/><circle cx="855.6" cy="204.5" r="3.15"/><circle cx="856.0" cy="203.7" r="3.15"/><circle cx="856.5" cy="204.3" r="3.15"/><circle cx="856.9" cy="205.7" r="3.15"/><circle cx="857.4" cy="204.5" r="3.15"/><circle cx="857.8" cy="204.1" r="3.15"/><circle cx="858.3" cy="205.2" r="3.15"/><circle cx="858.7" cy="205.2" r="3.15"/><circle cx="859.1" cy="205.5" r="3.15"/><circle cx="859.6" cy="205.5" r="3.15"/><circle cx="860.0" cy="206.0" r="3.15"/><circle cx="860.5" cy="204.5" r="3.15"/><circle cx="860.9" cy="205.7" r="3.15"/><circle cx="861.4" cy="204.4" r="3.15"/><circle cx="861.8" cy="205.5" r="3.15"/><circle cx="862.3" cy="205.2" r="3.15"/><circle cx="862.7" cy="205.2" r="3.15"/><circle cx="863.1" cy="205.8" r="3.15"/><circle cx="863.6" cy="205.1" r="3.15"/><circle cx="864.0" cy="205.9" r="3.15"/><circle cx="864.5" cy="205.7" r="3.15"/><circle cx="864.9" cy="205.2" r="3.15"/><circle cx="865.4" cy="204.7" r="3.15"/><circle cx="865.8" cy="204.6" r="3.15"/><circle cx="866.3" cy="204.8" r="3.15"/><circle cx="866.7" cy="205.0" r="3.15"/><circle cx="867.2" cy="205.1" r="3.15"/><circle cx="867.6" cy="207.2" r="3.15"/><circle cx="868.0" cy="205.6" r="3.15"/><circle cx="868.5" cy="205.7" r="3.15"/><circle cx="868.9" cy="204.5" r="3.15"/><circle cx="869.4" cy="204.6" r="3.15"/><circle cx="869.8" cy="204.9" r="3.15"/><circle cx="870.3" cy="205.3" r="3.15"/><circle cx="870.7" cy="204.4" r="3.15"/><circle cx="871.2" cy="206.2" r="3.15"/><circle cx="871.6" cy="204.7" r="3.15"/><circle cx="872.0" cy="205.8" r="3.15"/><circle cx="872.5" cy="203.4" r="3.15"/><circle cx="872.9" cy="205.1" r="3.15"/><circle cx="873.4" cy="205.2" r="3.15"/><circle cx="873.8" cy="205.2" r="3.15"/><circle cx="874.3" cy="205.5" r="3.15"/><circle cx="874.7" cy="205.2" r="3.15"/><circle cx="875.2" cy="205.1" r="3.15"/><circle cx="875.6" cy="203.7" r="3.15"/><circle cx="876.1" cy="204.5" r="3.15"/><circle cx="876.5" cy="203.3" r="3.15"/><circle cx="876.9" cy="205.4" r="3.15"/><circle cx="877.4" cy="205.2" r="3.15"/><circle cx="877.8" cy="204.8" r="3.15"/><circle cx="878.3" cy="204.4" r="3.15"/><circle cx="878.7" cy="204.5" r="3.15"/><circle cx="879.2" cy="206.2" r="3.15"/><circle cx="879.6" cy="206.1" r="3.15"/><circle cx="880.1" cy="204.9" r="3.15"/><circle cx="880.5" cy="205.8" r="3.15"/><circle cx="880.9" cy="203.8" r="3.15"/><circle cx="881.4" cy="203.6" r="3.15"/><circle cx="881.8" cy="204.6" r="3.15"/><circle cx="882.3" cy="204.3" r="3.15"/><circle cx="882.7" cy="204.5" r="3.15"/><circle cx="883.2" cy="205.1" r="3.15"/><circle cx="883.6" cy="207.1" r="3.15"/><circle cx="884.1" cy="204.5" r="3.15"/><circle cx="884.5" cy="205.0" r="3.15"/><circle cx="884.9" cy="205.2" r="3.15"/></g>
<g class="tr"><circle cx="490.3" cy="211.3" r="3.2"/><circle cx="490.3" cy="215.7" r="3.2"/><circle cx="556.6" cy="217.6" r="3.2"/><circle cx="557.1" cy="207.6" r="3.2"/><circle cx="557.4" cy="201.6" r="3.2"/><circle cx="623.5" cy="193.0" r="3.2"/><circle cx="624.2" cy="182.8" r="3.2"/><circle cx="624.2" cy="168.8" r="3.2"/><circle cx="690.2" cy="150.2" r="3.2"/><circle cx="690.5" cy="129.6" r="3.2"/><circle cx="690.8" cy="102.0" r="3.2"/><circle cx="819.3" cy="80.0" r="3.2"/><circle cx="820.0" cy="79.2" r="3.2"/><circle cx="820.6" cy="78.5" r="3.2"/><circle cx="821.6" cy="75.6" r="3.2"/><circle cx="822.2" cy="74.8" r="3.2"/><circle cx="822.6" cy="74.3" r="3.2"/><circle cx="823.1" cy="89.1" r="3.2"/><circle cx="823.6" cy="127.3" r="3.2"/><circle cx="824.2" cy="173.7" r="3.2"/><circle cx="824.9" cy="208.3" r="3.2"/><circle cx="825.3" cy="207.9" r="3.2"/><circle cx="825.2" cy="203.8" r="3.2"/><circle cx="825.6" cy="203.4" r="3.2"/><circle cx="825.9" cy="201.8" r="3.2"/><circle cx="826.4" cy="201.2" r="3.2"/><circle cx="826.9" cy="201.4" r="3.2"/></g>
<rect class="ax" x="51.5" y="68.5" width="866" height="162"/>
<path class="ax" d="M83.5 230.5 H886.5M83.5 230.5 v9M243.5 230.5 v9M404.5 230.5 v9M565.5 230.5 v9M725.5 230.5 v9M886.5 230.5 v9"/>
<text class="tw" x="83.6" y="261" text-anchor="middle">11.5</text>
<text class="tw" x="244.2" y="261" text-anchor="middle">11.6</text>
<text class="tw" x="404.8" y="261" text-anchor="middle">11.7</text>
<text class="tw" x="565.4" y="261" text-anchor="middle">11.8</text>
<text class="tw" x="726.0" y="261" text-anchor="middle">11.9</text>
<text class="tk" x="886.6" y="261" text-anchor="middle">12.0</text>
<path class="ax" d="M51.5 215.5 V83.5M51.5 215.5 h-9M51.5 188.5 h-9M51.5 162.5 h-9M51.5 136.5 h-9M51.5 109.5 h-9M51.5 83.5 h-9"/>
<text class="tk" transform="translate(32.5 215.6) rotate(-90)" text-anchor="middle">420</text>
<text class="tk" transform="translate(32.5 162.6) rotate(-90)" text-anchor="middle">460</text>
<text class="tk" transform="translate(32.5 109.8) rotate(-90)" text-anchor="middle">500</text>
<text transform="translate(15.7 149) rotate(-90)" text-anchor="middle">Licor ppm</text>
<text class="main" x="484.9" y="289" text-anchor="middle" style="letter-spacing:-0.8px">PM</text>
<g class="pt"><circle cx="84.0" cy="420.2" r="3.15"/><circle cx="84.5" cy="418.7" r="3.15"/><circle cx="84.9" cy="419.4" r="3.15"/><circle cx="85.4" cy="419.2" r="3.15"/><circle cx="85.8" cy="419.5" r="3.15"/><circle cx="86.3" cy="418.5" r="3.15"/><circle cx="86.7" cy="418.4" r="3.15"/><circle cx="87.2" cy="418.1" r="3.15"/><circle cx="87.6" cy="419.5" r="3.15"/><circle cx="88.1" cy="419.4" r="3.15"/><circle cx="88.5" cy="419.3" r="3.15"/><circle cx="88.9" cy="418.1" r="3.15"/><circle cx="89.4" cy="419.1" r="3.15"/><circle cx="89.8" cy="418.9" r="3.15"/><circle cx="90.3" cy="418.5" r="3.15"/><circle cx="90.7" cy="418.8" r="3.15"/><circle cx="91.2" cy="419.6" r="3.15"/><circle cx="91.6" cy="419.5" r="3.15"/><circle cx="92.1" cy="419.2" r="3.15"/><circle cx="92.5" cy="419.5" r="3.15"/><circle cx="92.9" cy="418.9" r="3.15"/><circle cx="93.4" cy="419.2" r="3.15"/><circle cx="93.8" cy="419.2" r="3.15"/><circle cx="94.3" cy="419.5" r="3.15"/><circle cx="94.7" cy="419.2" r="3.15"/><circle cx="95.2" cy="419.1" r="3.15"/><circle cx="95.6" cy="419.1" r="3.15"/><circle cx="96.1" cy="418.9" r="3.15"/><circle cx="96.5" cy="420.3" r="3.15"/><circle cx="97.0" cy="419.5" r="3.15"/><circle cx="97.4" cy="419.4" r="3.15"/><circle cx="97.8" cy="420.4" r="3.15"/><circle cx="98.3" cy="419.9" r="3.15"/><circle cx="98.7" cy="418.5" r="3.15"/><circle cx="99.2" cy="419.6" r="3.15"/><circle cx="99.6" cy="419.7" r="3.15"/><circle cx="100.1" cy="420.2" r="3.15"/><circle cx="100.5" cy="419.9" r="3.15"/><circle cx="101.0" cy="419.6" r="3.15"/><circle cx="101.4" cy="418.7" r="3.15"/><circle cx="101.8" cy="418.8" r="3.15"/><circle cx="102.3" cy="419.4" r="3.15"/><circle cx="102.7" cy="419.5" r="3.15"/><circle cx="103.2" cy="418.7" r="3.15"/><circle cx="103.6" cy="419.0" r="3.15"/><circle cx="104.1" cy="419.0" r="3.15"/><circle cx="104.5" cy="419.2" r="3.15"/><circle cx="105.0" cy="419.4" r="3.15"/><circle cx="105.4" cy="419.0" r="3.15"/><circle cx="105.9" cy="418.6" r="3.15"/><circle cx="106.3" cy="419.8" r="3.15"/><circle cx="106.7" cy="420.0" r="3.15"/><circle cx="107.2" cy="419.1" r="3.15"/><circle cx="107.6" cy="419.6" r="3.15"/><circle cx="108.1" cy="419.3" r="3.15"/><circle cx="108.5" cy="419.4" r="3.15"/><circle cx="109.0" cy="419.3" r="3.15"/><circle cx="109.4" cy="418.7" r="3.15"/><circle cx="109.9" cy="419.4" r="3.15"/><circle cx="110.3" cy="419.6" r="3.15"/><circle cx="110.7" cy="418.6" r="3.15"/><circle cx="111.2" cy="420.0" r="3.15"/><circle cx="111.6" cy="420.1" r="3.15"/><circle cx="112.1" cy="420.0" r="3.15"/><circle cx="112.5" cy="420.0" r="3.15"/><circle cx="113.0" cy="419.4" r="3.15"/><circle cx="113.4" cy="418.9" r="3.15"/><circle cx="113.9" cy="418.8" r="3.15"/><circle cx="114.3" cy="418.7" r="3.15"/><circle cx="114.8" cy="419.1" r="3.15"/><circle cx="115.2" cy="419.1" r="3.15"/><circle cx="115.6" cy="419.4" r="3.15"/><circle cx="116.1" cy="418.1" r="3.15"/><circle cx="116.5" cy="420.2" r="3.15"/><circle cx="117.0" cy="420.2" r="3.15"/><circle cx="117.4" cy="419.1" r="3.15"/><circle cx="117.9" cy="419.5" r="3.15"/><circle cx="118.3" cy="419.4" r="3.15"/><circle cx="118.8" cy="419.3" r="3.15"/><circle cx="119.2" cy="419.0" r="3.15"/><circle cx="119.6" cy="419.1" r="3.15"/><circle cx="120.1" cy="418.7" r="3.15"/><circle cx="120.5" cy="419.3" r="3.15"/><circle cx="121.0" cy="419.2" r="3.15"/><circle cx="121.4" cy="419.3" r="3.15"/><circle cx="121.9" cy="418.8" r="3.15"/><circle cx="122.3" cy="419.2" r="3.15"/><circle cx="122.8" cy="419.2" r="3.15"/><circle cx="123.2" cy="419.5" r="3.15"/><circle cx="123.7" cy="418.7" r="3.15"/><circle cx="124.1" cy="419.4" r="3.15"/><circle cx="124.5" cy="419.7" r="3.15"/><circle cx="125.0" cy="419.5" r="3.15"/><circle cx="125.4" cy="419.0" r="3.15"/><circle cx="125.9" cy="418.9" r="3.15"/><circle cx="126.3" cy="419.1" r="3.15"/><circle cx="126.8" cy="419.5" r="3.15"/><circle cx="127.2" cy="419.9" r="3.15"/><circle cx="127.7" cy="419.1" r="3.15"/><circle cx="128.1" cy="418.8" r="3.15"/><circle cx="128.5" cy="419.3" r="3.15"/><circle cx="129.0" cy="419.3" r="3.15"/><circle cx="129.4" cy="418.7" r="3.15"/><circle cx="129.9" cy="418.8" r="3.15"/><circle cx="130.3" cy="419.1" r="3.15"/><circle cx="130.8" cy="419.5" r="3.15"/><circle cx="131.2" cy="418.5" r="3.15"/><circle cx="131.7" cy="418.6" r="3.15"/><circle cx="132.1" cy="419.4" r="3.15"/><circle cx="132.5" cy="418.5" r="3.15"/><circle cx="133.0" cy="419.2" r="3.15"/><circle cx="133.4" cy="419.3" r="3.15"/><circle cx="133.9" cy="419.1" r="3.15"/><circle cx="134.3" cy="418.7" r="3.15"/><circle cx="134.8" cy="419.1" r="3.15"/><circle cx="135.2" cy="419.0" r="3.15"/><circle cx="135.7" cy="419.4" r="3.15"/><circle cx="136.1" cy="418.8" r="3.15"/><circle cx="136.6" cy="419.8" r="3.15"/><circle cx="137.0" cy="418.4" r="3.15"/><circle cx="137.4" cy="419.1" r="3.15"/><circle cx="137.9" cy="419.2" r="3.15"/><circle cx="138.3" cy="419.7" r="3.15"/><circle cx="138.8" cy="419.0" r="3.15"/><circle cx="139.2" cy="419.6" r="3.15"/><circle cx="139.7" cy="419.0" r="3.15"/><circle cx="140.1" cy="419.7" r="3.15"/><circle cx="140.6" cy="420.2" r="3.15"/><circle cx="141.0" cy="419.1" r="3.15"/><circle cx="141.4" cy="419.5" r="3.15"/><circle cx="141.9" cy="418.9" r="3.15"/><circle cx="142.3" cy="419.8" r="3.15"/><circle cx="142.8" cy="419.9" r="3.15"/><circle cx="143.2" cy="419.4" r="3.15"/><circle cx="143.7" cy="418.8" r="3.15"/><circle cx="144.1" cy="419.5" r="3.15"/><circle cx="144.6" cy="419.9" r="3.15"/><circle cx="145.0" cy="419.9" r="3.15"/><circle cx="145.5" cy="419.7" r="3.15"/><circle cx="145.9" cy="418.4" r="3.15"/><circle cx="146.3" cy="419.0" r="3.15"/><circle cx="146.8" cy="420.0" r="3.15"/><circle cx="147.2" cy="418.7" r="3.15"/><circle cx="147.7" cy="419.9" r="3.15"/><circle cx="148.1" cy="420.2" r="3.15"/><circle cx="148.6" cy="419.7" r="3.15"/><circle cx="149.0" cy="419.8" r="3.15"/><circle cx="149.5" cy="419.1" r="3.15"/><circle cx="149.9" cy="418.6" r="3.15"/><circle cx="150.3" cy="419.2" r="3.15"/><circle cx="150.8" cy="419.1" r="3.15"/><circle cx="151.2" cy="419.2" r="3.15"/><circle cx="151.7" cy="419.6" r="3.15"/><circle cx="152.1" cy="419.2" r="3.15"/><circle cx="152.6" cy="419.3" r="3.15"/><circle cx="153.0" cy="419.4" r="3.15"/><circle cx="153.5" cy="419.2" r="3.15"/><circle cx="153.9" cy="420.1" r="3.15"/><circle cx="154.4" cy="419.4" r="3.15"/><circle cx="154.8" cy="419.3" r="3.15"/><circle cx="155.2" cy="419.1" r="3.15"/><circle cx="155.7" cy="418.9" r="3.15"/><circle cx="156.1" cy="419.9" r="3.15"/><circle cx="156.6" cy="419.3" r="3.15"/><circle cx="157.0" cy="418.7" r="3.15"/><circle cx="157.5" cy="419.0" r="3.15"/><circle cx="157.9" cy="419.2" r="3.15"/><circle cx="158.4" cy="419.0" r="3.15"/><circle cx="158.8" cy="419.8" r="3.15"/><circle cx="159.2" cy="418.7" r="3.15"/><circle cx="159.7" cy="419.5" r="3.15"/><circle cx="160.1" cy="419.3" r="3.15"/><circle cx="160.6" cy="418.7" r="3.15"/><circle cx="161.0" cy="419.3" r="3.15"/><circle cx="161.5" cy="419.2" r="3.15"/><circle cx="161.9" cy="419.5" r="3.15"/><circle cx="162.4" cy="419.0" r="3.15"/><circle cx="162.8" cy="419.4" r="3.15"/><circle cx="163.3" cy="418.4" r="3.15"/><circle cx="163.7" cy="418.7" r="3.15"/><circle cx="164.1" cy="419.7" r="3.15"/><circle cx="164.6" cy="419.8" r="3.15"/><circle cx="165.0" cy="419.2" r="3.15"/><circle cx="165.5" cy="418.9" r="3.15"/><circle cx="165.9" cy="419.8" r="3.15"/><circle cx="166.4" cy="418.2" r="3.15"/><circle cx="166.8" cy="418.8" r="3.15"/><circle cx="167.3" cy="419.5" r="3.15"/><circle cx="167.7" cy="419.5" r="3.15"/><circle cx="168.1" cy="418.7" r="3.15"/><circle cx="168.6" cy="418.2" r="3.15"/><circle cx="169.0" cy="419.9" r="3.15"/><circle cx="169.5" cy="419.2" r="3.15"/><circle cx="169.9" cy="418.7" r="3.15"/><circle cx="170.4" cy="419.1" r="3.15"/><circle cx="170.8" cy="419.6" r="3.15"/><circle cx="171.3" cy="417.8" r="3.15"/><circle cx="171.7" cy="419.6" r="3.15"/><circle cx="172.1" cy="419.5" r="3.15"/><circle cx="172.6" cy="418.0" r="3.15"/><circle cx="173.0" cy="419.5" r="3.15"/><circle cx="173.5" cy="418.2" r="3.15"/><circle cx="173.9" cy="419.6" r="3.15"/><circle cx="174.4" cy="419.3" r="3.15"/><circle cx="174.8" cy="420.2" r="3.15"/><circle cx="175.3" cy="418.8" r="3.15"/><circle cx="175.7" cy="419.1" r="3.15"/><circle cx="176.2" cy="419.6" r="3.15"/><circle cx="176.6" cy="418.8" r="3.15"/><circle cx="177.0" cy="418.7" r="3.15"/><circle cx="177.5" cy="418.9" r="3.15"/><circle cx="177.9" cy="419.1" r="3.15"/><circle cx="178.4" cy="418.6" r="3.15"/><circle cx="178.8" cy="419.4" r="3.15"/><circle cx="179.3" cy="419.4" r="3.15"/><circle cx="179.7" cy="419.2" r="3.15"/><circle cx="180.2" cy="420.0" r="3.15"/><circle cx="180.6" cy="419.0" r="3.15"/><circle cx="181.0" cy="419.8" r="3.15"/><circle cx="181.5" cy="418.9" r="3.15"/><circle cx="181.9" cy="419.5" r="3.15"/><circle cx="182.4" cy="418.2" r="3.15"/><circle cx="182.8" cy="419.3" r="3.15"/><circle cx="183.3" cy="419.1" r="3.15"/><circle cx="183.7" cy="418.9" r="3.15"/><circle cx="184.2" cy="418.9" r="3.15"/><circle cx="184.6" cy="419.0" r="3.15"/><circle cx="185.1" cy="418.8" r="3.15"/><circle cx="185.5" cy="418.1" r="3.15"/><circle cx="185.9" cy="418.9" r="3.15"/><circle cx="186.4" cy="418.9" r="3.15"/><circle cx="186.8" cy="418.9" r="3.15"/><circle cx="187.3" cy="418.6" r="3.15"/><circle cx="187.7" cy="419.1" r="3.15"/><circle cx="188.2" cy="419.5" r="3.15"/><circle cx="188.6" cy="419.0" r="3.15"/><circle cx="189.1" cy="418.9" r="3.15"/><circle cx="189.5" cy="419.8" r="3.15"/><circle cx="189.9" cy="419.6" r="3.15"/><circle cx="190.4" cy="419.6" r="3.15"/><circle cx="190.8" cy="419.7" r="3.15"/><circle cx="191.3" cy="419.0" r="3.15"/><circle cx="191.7" cy="419.1" r="3.15"/><circle cx="192.2" cy="419.7" r="3.15"/><circle cx="192.6" cy="418.8" r="3.15"/><circle cx="193.1" cy="419.1" r="3.15"/><circle cx="193.5" cy="419.3" r="3.15"/><circle cx="194.0" cy="419.3" r="3.15"/><circle cx="194.4" cy="419.0" r="3.15"/><circle cx="194.8" cy="419.6" r="3.15"/><circle cx="195.3" cy="419.0" r="3.15"/><circle cx="195.7" cy="419.5" r="3.15"/><circle cx="196.2" cy="419.7" r="3.15"/><circle cx="196.6" cy="419.5" r="3.15"/><circle cx="197.1" cy="419.5" r="3.15"/><circle cx="197.5" cy="418.6" r="3.15"/><circle cx="198.0" cy="418.5" r="3.15"/><circle cx="198.4" cy="418.9" r="3.15"/><circle cx="198.8" cy="419.5" r="3.15"/><circle cx="199.3" cy="420.0" r="3.15"/><circle cx="199.7" cy="418.6" r="3.15"/><circle cx="200.2" cy="419.4" r="3.15"/><circle cx="200.6" cy="418.8" r="3.15"/><circle cx="201.1" cy="418.9" r="3.15"/><circle cx="201.5" cy="419.1" r="3.15"/><circle cx="202.0" cy="419.6" r="3.15"/><circle cx="202.4" cy="419.4" r="3.15"/><circle cx="202.9" cy="419.9" r="3.15"/><circle cx="203.3" cy="418.8" r="3.15"/><circle cx="203.7" cy="419.8" r="3.15"/><circle cx="204.2" cy="419.8" r="3.15"/><circle cx="204.6" cy="419.4" r="3.15"/><circle cx="205.1" cy="419.6" r="3.15"/><circle cx="205.5" cy="419.0" r="3.15"/><circle cx="206.0" cy="418.8" r="3.15"/><circle cx="206.4" cy="419.1" r="3.15"/><circle cx="206.9" cy="419.0" r="3.15"/><circle cx="207.3" cy="420.8" r="3.15"/><circle cx="207.7" cy="419.1" r="3.15"/><circle cx="208.2" cy="420.1" r="3.15"/><circle cx="208.6" cy="419.4" r="3.15"/><circle cx="209.1" cy="419.4" r="3.15"/><circle cx="209.5" cy="419.7" r="3.15"/><circle cx="210.0" cy="418.9" r="3.15"/><circle cx="210.4" cy="419.7" r="3.15"/><circle cx="210.9" cy="419.5" r="3.15"/><circle cx="211.3" cy="418.5" r="3.15"/><circle cx="211.7" cy="419.6" r="3.15"/><circle cx="212.2" cy="419.5" r="3.15"/><circle cx="212.6" cy="419.5" r="3.15"/><circle cx="213.1" cy="420.0" r="3.15"/><circle cx="213.5" cy="419.0" r="3.15"/><circle cx="214.0" cy="419.5" r="3.15"/><circle cx="214.4" cy="419.6" r="3.15"/><circle cx="214.9" cy="418.8" r="3.15"/><circle cx="215.3" cy="419.8" r="3.15"/><circle cx="215.8" cy="418.5" r="3.15"/><circle cx="216.2" cy="418.6" r="3.15"/><circle cx="216.6" cy="419.5" r="3.15"/><circle cx="217.1" cy="418.7" r="3.15"/><circle cx="217.5" cy="419.2" r="3.15"/><circle cx="218.0" cy="418.4" r="3.15"/><circle cx="218.4" cy="419.3" r="3.15"/><circle cx="218.9" cy="418.7" r="3.15"/><circle cx="219.3" cy="419.4" r="3.15"/><circle cx="219.8" cy="418.5" r="3.15"/><circle cx="220.2" cy="419.5" r="3.15"/><circle cx="220.6" cy="419.1" r="3.15"/><circle cx="221.1" cy="419.3" r="3.15"/><circle cx="221.5" cy="419.3" r="3.15"/><circle cx="222.0" cy="419.4" r="3.15"/><circle cx="222.4" cy="418.6" r="3.15"/><circle cx="222.9" cy="418.0" r="3.15"/><circle cx="223.3" cy="419.3" r="3.15"/><circle cx="223.8" cy="418.8" r="3.15"/><circle cx="224.2" cy="419.1" r="3.15"/><circle cx="224.7" cy="419.5" r="3.15"/><circle cx="225.1" cy="418.3" r="3.15"/><circle cx="225.5" cy="418.9" r="3.15"/><circle cx="226.0" cy="419.0" r="3.15"/><circle cx="226.4" cy="418.7" r="3.15"/><circle cx="226.9" cy="419.4" r="3.15"/><circle cx="227.3" cy="419.2" r="3.15"/><circle cx="227.8" cy="418.8" r="3.15"/><circle cx="228.2" cy="418.7" r="3.15"/><circle cx="228.7" cy="419.6" r="3.15"/><circle cx="229.1" cy="418.9" r="3.15"/><circle cx="229.5" cy="419.5" r="3.15"/><circle cx="230.0" cy="419.4" r="3.15"/><circle cx="230.4" cy="418.2" r="3.15"/><circle cx="230.9" cy="418.6" r="3.15"/><circle cx="231.3" cy="419.2" r="3.15"/><circle cx="231.8" cy="419.3" r="3.15"/><circle cx="232.2" cy="419.5" r="3.15"/><circle cx="232.7" cy="419.5" r="3.15"/><circle cx="233.1" cy="419.6" r="3.15"/><circle cx="233.6" cy="418.9" r="3.15"/><circle cx="234.0" cy="419.0" r="3.15"/><circle cx="234.4" cy="419.5" r="3.15"/><circle cx="234.9" cy="418.9" r="3.15"/><circle cx="235.3" cy="419.6" r="3.15"/><circle cx="235.8" cy="418.3" r="3.15"/><circle cx="236.2" cy="419.4" r="3.15"/><circle cx="236.7" cy="419.0" r="3.15"/><circle cx="237.1" cy="418.1" r="3.15"/><circle cx="237.6" cy="419.6" r="3.15"/><circle cx="238.0" cy="419.2" r="3.15"/><circle cx="238.4" cy="419.1" r="3.15"/><circle cx="238.9" cy="418.6" r="3.15"/><circle cx="239.3" cy="418.9" r="3.15"/><circle cx="239.8" cy="419.9" r="3.15"/><circle cx="240.2" cy="418.7" r="3.15"/><circle cx="240.7" cy="417.4" r="3.15"/><circle cx="241.1" cy="418.7" r="3.15"/><circle cx="241.6" cy="418.5" r="3.15"/><circle cx="242.0" cy="419.1" r="3.15"/><circle cx="242.5" cy="419.0" r="3.15"/><circle cx="242.9" cy="418.7" r="3.15"/><circle cx="243.3" cy="418.7" r="3.15"/><circle cx="243.8" cy="419.7" r="3.15"/><circle cx="244.2" cy="418.4" r="3.15"/><circle cx="244.7" cy="420.1" r="3.15"/><circle cx="245.1" cy="418.9" r="3.15"/><circle cx="245.6" cy="418.6" r="3.15"/><circle cx="246.0" cy="419.6" r="3.15"/><circle cx="246.5" cy="419.4" r="3.15"/><circle cx="246.9" cy="418.6" r="3.15"/><circle cx="247.3" cy="419.5" r="3.15"/><circle cx="247.8" cy="418.2" r="3.15"/><circle cx="248.2" cy="418.7" r="3.15"/><circle cx="248.7" cy="419.7" r="3.15"/><circle cx="249.1" cy="419.0" r="3.15"/><circle cx="249.6" cy="418.5" r="3.15"/><circle cx="250.0" cy="419.4" r="3.15"/><circle cx="250.5" cy="419.6" r="3.15"/><circle cx="250.9" cy="419.1" r="3.15"/><circle cx="251.3" cy="418.2" r="3.15"/><circle cx="251.8" cy="418.9" r="3.15"/><circle cx="252.2" cy="419.3" r="3.15"/><circle cx="252.7" cy="419.5" r="3.15"/><circle cx="253.1" cy="420.0" r="3.15"/><circle cx="253.6" cy="419.0" r="3.15"/><circle cx="254.0" cy="418.9" r="3.15"/><circle cx="254.5" cy="419.1" r="3.15"/><circle cx="254.9" cy="419.7" r="3.15"/><circle cx="255.4" cy="418.6" r="3.15"/><circle cx="255.8" cy="419.8" r="3.15"/><circle cx="256.2" cy="417.7" r="3.15"/><circle cx="256.7" cy="419.5" r="3.15"/><circle cx="257.1" cy="418.8" r="3.15"/><circle cx="257.6" cy="419.4" r="3.15"/><circle cx="258.0" cy="419.5" r="3.15"/><circle cx="258.5" cy="418.6" r="3.15"/><circle cx="258.9" cy="419.1" r="3.15"/><circle cx="259.4" cy="419.3" r="3.15"/><circle cx="259.8" cy="419.5" r="3.15"/><circle cx="260.2" cy="418.7" r="3.15"/><circle cx="260.7" cy="418.7" r="3.15"/><circle cx="261.1" cy="418.3" r="3.15"/><circle cx="261.6" cy="420.5" r="3.15"/><circle cx="262.0" cy="419.1" r="3.15"/><circle cx="262.5" cy="419.1" r="3.15"/><circle cx="262.9" cy="418.5" r="3.15"/><circle cx="263.4" cy="419.7" r="3.15"/><circle cx="263.8" cy="419.0" r="3.15"/><circle cx="264.3" cy="420.0" r="3.15"/><circle cx="264.7" cy="419.7" r="3.15"/><circle cx="265.1" cy="419.3" r="3.15"/><circle cx="265.6" cy="419.7" r="3.15"/><circle cx="266.0" cy="418.7" r="3.15"/><circle cx="266.5" cy="419.1" r="3.15"/><circle cx="266.9" cy="419.0" r="3.15"/><circle cx="267.4" cy="418.7" r="3.15"/><circle cx="267.8" cy="419.3" r="3.15"/><circle cx="268.3" cy="419.2" r="3.15"/><circle cx="268.7" cy="420.0" r="3.15"/><circle cx="269.1" cy="417.6" r="3.15"/><circle cx="269.6" cy="419.0" r="3.15"/><circle cx="270.0" cy="418.8" r="3.15"/><circle cx="270.5" cy="419.0" r="3.15"/><circle cx="270.9" cy="419.5" r="3.15"/><circle cx="271.4" cy="419.5" r="3.15"/><circle cx="271.8" cy="419.3" r="3.15"/><circle cx="272.3" cy="419.0" r="3.15"/><circle cx="272.7" cy="419.5" r="3.15"/><circle cx="273.2" cy="419.4" r="3.15"/><circle cx="273.6" cy="418.3" r="3.15"/><circle cx="274.0" cy="419.1" r="3.15"/><circle cx="274.5" cy="418.5" r="3.15"/><circle cx="274.9" cy="418.6" r="3.15"/><circle cx="275.4" cy="419.3" r="3.15"/><circle cx="275.8" cy="419.3" r="3.15"/><circle cx="276.3" cy="419.3" r="3.15"/><circle cx="276.7" cy="418.8" r="3.15"/><circle cx="277.2" cy="419.1" r="3.15"/><circle cx="277.6" cy="418.8" r="3.15"/><circle cx="278.0" cy="419.4" r="3.15"/><circle cx="278.5" cy="419.6" r="3.15"/><circle cx="278.9" cy="420.1" r="3.15"/><circle cx="279.4" cy="419.9" r="3.15"/><circle cx="279.8" cy="418.9" r="3.15"/><circle cx="280.3" cy="419.0" r="3.15"/><circle cx="280.7" cy="418.8" r="3.15"/><circle cx="281.2" cy="419.4" r="3.15"/><circle cx="281.6" cy="420.3" r="3.15"/><circle cx="282.1" cy="419.7" r="3.15"/><circle cx="282.5" cy="418.2" r="3.15"/><circle cx="282.9" cy="418.7" r="3.15"/><circle cx="283.4" cy="418.7" r="3.15"/><circle cx="283.8" cy="419.6" r="3.15"/><circle cx="284.3" cy="419.3" r="3.15"/><circle cx="284.7" cy="419.5" r="3.15"/><circle cx="285.2" cy="420.2" r="3.15"/><circle cx="285.6" cy="418.9" r="3.15"/><circle cx="286.1" cy="418.9" r="3.15"/><circle cx="286.5" cy="420.3" r="3.15"/><circle cx="286.9" cy="419.5" r="3.15"/><circle cx="287.4" cy="418.9" r="3.15"/><circle cx="287.8" cy="418.3" r="3.15"/><circle cx="288.3" cy="418.5" r="3.15"/><circle cx="288.7" cy="418.1" r="3.15"/><circle cx="289.2" cy="419.3" r="3.15"/><circle cx="289.6" cy="419.3" r="3.15"/><circle cx="290.1" cy="419.7" r="3.15"/><circle cx="290.5" cy="419.2" r="3.15"/><circle cx="290.9" cy="418.9" r="3.15"/><circle cx="291.4" cy="418.8" r="3.15"/><circle cx="291.8" cy="420.1" r="3.15"/><circle cx="292.3" cy="418.3" r="3.15"/><circle cx="292.7" cy="419.3" r="3.15"/><circle cx="293.2" cy="419.2" r="3.15"/><circle cx="293.6" cy="419.5" r="3.15"/><circle cx="294.1" cy="418.9" r="3.15"/><circle cx="294.5" cy="419.4" r="3.15"/><circle cx="295.0" cy="419.5" r="3.15"/><circle cx="295.4" cy="419.0" r="3.15"/><circle cx="295.8" cy="418.9" r="3.15"/><circle cx="296.3" cy="419.0" r="3.15"/><circle cx="296.7" cy="418.6" r="3.15"/><circle cx="297.2" cy="419.0" r="3.15"/><circle cx="297.6" cy="419.0" r="3.15"/><circle cx="298.1" cy="419.2" r="3.15"/><circle cx="298.5" cy="419.8" r="3.15"/><circle cx="299.0" cy="419.8" r="3.15"/><circle cx="299.4" cy="418.9" r="3.15"/><circle cx="299.8" cy="419.4" r="3.15"/><circle cx="300.3" cy="419.3" r="3.15"/><circle cx="300.7" cy="419.5" r="3.15"/><circle cx="301.2" cy="419.1" r="3.15"/><circle cx="301.6" cy="419.3" r="3.15"/><circle cx="302.1" cy="418.9" r="3.15"/><circle cx="302.5" cy="418.8" r="3.15"/><circle cx="303.0" cy="419.6" r="3.15"/><circle cx="303.4" cy="419.8" r="3.15"/><circle cx="303.9" cy="419.5" r="3.15"/><circle cx="304.3" cy="419.4" r="3.15"/><circle cx="304.7" cy="419.3" r="3.15"/><circle cx="305.2" cy="418.9" r="3.15"/><circle cx="305.6" cy="418.3" r="3.15"/><circle cx="306.1" cy="419.5" r="3.15"/><circle cx="306.5" cy="419.3" r="3.15"/><circle cx="307.0" cy="418.9" r="3.15"/><circle cx="307.4" cy="418.7" r="3.15"/><circle cx="307.9" cy="419.8" r="3.15"/><circle cx="308.3" cy="418.3" r="3.15"/><circle cx="308.7" cy="420.0" r="3.15"/><circle cx="309.2" cy="419.5" r="3.15"/><circle cx="309.6" cy="420.3" r="3.15"/><circle cx="310.1" cy="418.8" r="3.15"/><circle cx="310.5" cy="419.1" r="3.15"/><circle cx="311.0" cy="418.9" r="3.15"/><circle cx="311.4" cy="419.2" r="3.15"/><circle cx="311.9" cy="419.0" r="3.15"/><circle cx="312.3" cy="418.7" r="3.15"/><circle cx="312.8" cy="419.6" r="3.15"/><circle cx="313.2" cy="418.7" r="3.15"/><circle cx="313.6" cy="418.8" r="3.15"/><circle cx="314.1" cy="419.4" r="3.15"/><circle cx="314.5" cy="418.8" r="3.15"/><circle cx="315.0" cy="418.9" r="3.15"/><circle cx="315.4" cy="419.3" r="3.15"/><circle cx="315.9" cy="418.9" r="3.15"/><circle cx="316.3" cy="418.5" r="3.15"/><circle cx="316.8" cy="419.0" r="3.15"/><circle cx="317.2" cy="419.0" r="3.15"/><circle cx="317.6" cy="419.9" r="3.15"/><circle cx="318.1" cy="418.5" r="3.15"/><circle cx="318.5" cy="419.6" r="3.15"/><circle cx="319.0" cy="418.7" r="3.15"/><circle cx="319.4" cy="418.9" r="3.15"/><circle cx="319.9" cy="419.0" r="3.15"/><circle cx="320.3" cy="419.3" r="3.15"/><circle cx="320.8" cy="419.6" r="3.15"/><circle cx="321.2" cy="420.0" r="3.15"/><circle cx="321.7" cy="418.9" r="3.15"/><circle cx="322.1" cy="419.8" r="3.15"/><circle cx="322.5" cy="419.7" r="3.15"/><circle cx="323.0" cy="419.6" r="3.15"/><circle cx="323.4" cy="418.8" r="3.15"/><circle cx="323.9" cy="419.7" r="3.15"/><circle cx="324.3" cy="419.2" r="3.15"/><circle cx="324.8" cy="419.4" r="3.15"/><circle cx="325.2" cy="419.1" r="3.15"/><circle cx="325.7" cy="419.6" r="3.15"/><circle cx="326.1" cy="419.8" r="3.15"/><circle cx="326.5" cy="419.8" r="3.15"/><circle cx="327.0" cy="419.2" r="3.15"/><circle cx="327.4" cy="419.8" r="3.15"/><circle cx="327.9" cy="420.0" r="3.15"/><circle cx="328.3" cy="418.8" r="3.15"/><circle cx="328.8" cy="420.0" r="3.15"/><circle cx="329.2" cy="418.6" r="3.15"/><circle cx="329.7" cy="419.6" r="3.15"/><circle cx="330.1" cy="419.6" r="3.15"/><circle cx="330.5" cy="420.0" r="3.15"/><circle cx="331.0" cy="419.4" r="3.15"/><circle cx="331.4" cy="419.0" r="3.15"/><circle cx="331.9" cy="418.9" r="3.15"/><circle cx="332.3" cy="418.6" r="3.15"/><circle cx="332.8" cy="419.6" r="3.15"/><circle cx="333.2" cy="419.1" r="3.15"/><circle cx="333.7" cy="418.9" r="3.15"/><circle cx="334.1" cy="419.5" r="3.15"/><circle cx="334.6" cy="418.8" r="3.15"/><circle cx="335.0" cy="419.0" r="3.15"/><circle cx="335.4" cy="419.0" r="3.15"/><circle cx="335.9" cy="420.1" r="3.15"/><circle cx="336.3" cy="420.0" r="3.15"/><circle cx="336.8" cy="419.1" r="3.15"/><circle cx="337.2" cy="418.4" r="3.15"/><circle cx="337.7" cy="419.4" r="3.15"/><circle cx="338.1" cy="419.3" r="3.15"/><circle cx="338.6" cy="419.4" r="3.15"/><circle cx="339.0" cy="419.5" r="3.15"/><circle cx="339.4" cy="419.1" r="3.15"/><circle cx="339.9" cy="419.7" r="3.15"/><circle cx="340.3" cy="419.7" r="3.15"/><circle cx="340.8" cy="419.4" r="3.15"/><circle cx="341.2" cy="419.1" r="3.15"/><circle cx="341.7" cy="419.0" r="3.15"/><circle cx="342.1" cy="419.6" r="3.15"/><circle cx="342.6" cy="418.7" r="3.15"/><circle cx="343.0" cy="419.2" r="3.15"/><circle cx="343.5" cy="418.9" r="3.15"/><circle cx="343.9" cy="418.6" r="3.15"/><circle cx="344.3" cy="419.6" r="3.15"/><circle cx="344.8" cy="419.3" r="3.15"/><circle cx="345.2" cy="419.3" r="3.15"/><circle cx="345.7" cy="419.8" r="3.15"/><circle cx="346.1" cy="418.6" r="3.15"/><circle cx="346.6" cy="419.3" r="3.15"/><circle cx="347.0" cy="419.5" r="3.15"/><circle cx="347.5" cy="419.7" r="3.15"/><circle cx="347.9" cy="418.8" r="3.15"/><circle cx="348.3" cy="419.7" r="3.15"/><circle cx="348.8" cy="419.4" r="3.15"/><circle cx="349.2" cy="420.0" r="3.15"/><circle cx="349.7" cy="419.9" r="3.15"/><circle cx="350.1" cy="419.6" r="3.15"/><circle cx="350.6" cy="420.4" r="3.15"/><circle cx="351.0" cy="419.3" r="3.15"/><circle cx="351.5" cy="419.1" r="3.15"/><circle cx="351.9" cy="419.1" r="3.15"/><circle cx="352.4" cy="418.8" r="3.15"/><circle cx="352.8" cy="419.2" r="3.15"/><circle cx="353.2" cy="418.3" r="3.15"/><circle cx="353.7" cy="419.2" r="3.15"/><circle cx="354.1" cy="419.4" r="3.15"/><circle cx="354.6" cy="419.7" r="3.15"/><circle cx="355.0" cy="419.0" r="3.15"/><circle cx="355.5" cy="419.9" r="3.15"/><circle cx="355.9" cy="418.8" r="3.15"/><circle cx="356.4" cy="419.1" r="3.15"/><circle cx="356.8" cy="418.2" r="3.15"/><circle cx="357.2" cy="418.8" r="3.15"/><circle cx="357.7" cy="418.7" r="3.15"/><circle cx="358.1" cy="419.9" r="3.15"/><circle cx="358.6" cy="419.4" r="3.15"/><circle cx="359.0" cy="418.6" r="3.15"/><circle cx="359.5" cy="419.4" r="3.15"/><circle cx="359.9" cy="419.4" r="3.15"/><circle cx="360.4" cy="419.0" r="3.15"/><circle cx="360.8" cy="419.1" r="3.15"/><circle cx="361.3" cy="419.0" r="3.15"/><circle cx="361.7" cy="418.9" r="3.15"/><circle cx="362.1" cy="418.3" r="3.15"/><circle cx="362.6" cy="419.1" r="3.15"/><circle cx="363.0" cy="419.8" r="3.15"/><circle cx="363.5" cy="419.9" r="3.15"/><circle cx="363.9" cy="419.0" r="3.15"/><circle cx="364.4" cy="418.8" r="3.15"/><circle cx="364.8" cy="419.1" r="3.15"/><circle cx="365.3" cy="419.6" r="3.15"/><circle cx="365.7" cy="419.4" r="3.15"/><circle cx="366.1" cy="418.9" r="3.15"/><circle cx="366.6" cy="419.4" r="3.15"/><circle cx="367.0" cy="419.1" r="3.15"/><circle cx="367.5" cy="419.4" r="3.15"/><circle cx="367.9" cy="419.0" r="3.15"/><circle cx="368.4" cy="418.5" r="3.15"/><circle cx="368.8" cy="419.2" r="3.15"/><circle cx="369.3" cy="419.5" r="3.15"/><circle cx="369.7" cy="418.6" r="3.15"/><circle cx="370.1" cy="419.1" r="3.15"/><circle cx="370.6" cy="419.6" r="3.15"/><circle cx="371.0" cy="419.0" r="3.15"/><circle cx="371.5" cy="418.8" r="3.15"/><circle cx="371.9" cy="420.1" r="3.15"/><circle cx="372.4" cy="419.5" r="3.15"/><circle cx="372.8" cy="419.6" r="3.15"/><circle cx="373.3" cy="418.6" r="3.15"/><circle cx="373.7" cy="419.9" r="3.15"/><circle cx="374.2" cy="418.3" r="3.15"/><circle cx="374.6" cy="418.8" r="3.15"/><circle cx="375.0" cy="419.4" r="3.15"/><circle cx="375.5" cy="419.7" r="3.15"/><circle cx="375.9" cy="418.6" r="3.15"/><circle cx="376.4" cy="418.7" r="3.15"/><circle cx="376.8" cy="419.2" r="3.15"/><circle cx="377.3" cy="418.1" r="3.15"/><circle cx="377.7" cy="419.4" r="3.15"/><circle cx="378.2" cy="419.3" r="3.15"/><circle cx="378.6" cy="418.8" r="3.15"/><circle cx="379.0" cy="419.3" r="3.15"/><circle cx="379.5" cy="419.5" r="3.15"/><circle cx="379.9" cy="419.2" r="3.15"/><circle cx="380.4" cy="419.3" r="3.15"/><circle cx="380.8" cy="419.8" r="3.15"/><circle cx="381.3" cy="418.9" r="3.15"/><circle cx="381.7" cy="419.2" r="3.15"/><circle cx="382.2" cy="418.9" r="3.15"/><circle cx="382.6" cy="419.6" r="3.15"/><circle cx="383.1" cy="419.0" r="3.15"/><circle cx="383.5" cy="419.4" r="3.15"/><circle cx="383.9" cy="419.2" r="3.15"/><circle cx="384.4" cy="419.2" r="3.15"/><circle cx="384.8" cy="420.0" r="3.15"/><circle cx="385.3" cy="419.2" r="3.15"/><circle cx="385.7" cy="419.9" r="3.15"/><circle cx="386.2" cy="419.6" r="3.15"/><circle cx="386.6" cy="419.9" r="3.15"/><circle cx="387.1" cy="419.2" r="3.15"/><circle cx="387.5" cy="419.7" r="3.15"/><circle cx="387.9" cy="419.6" r="3.15"/><circle cx="388.4" cy="419.0" r="3.15"/><circle cx="388.8" cy="419.4" r="3.15"/><circle cx="389.3" cy="419.2" r="3.15"/><circle cx="389.7" cy="419.2" r="3.15"/><circle cx="390.2" cy="419.9" r="3.15"/><circle cx="390.6" cy="418.9" r="3.15"/><circle cx="391.1" cy="418.4" r="3.15"/><circle cx="391.5" cy="418.4" r="3.15"/><circle cx="392.0" cy="419.0" r="3.15"/><circle cx="392.4" cy="418.9" r="3.15"/><circle cx="392.8" cy="419.2" r="3.15"/><circle cx="393.3" cy="419.5" r="3.15"/><circle cx="393.7" cy="420.1" r="3.15"/><circle cx="394.2" cy="419.4" r="3.15"/><circle cx="394.6" cy="419.4" r="3.15"/><circle cx="395.1" cy="418.9" r="3.15"/><circle cx="395.5" cy="419.5" r="3.15"/><circle cx="396.0" cy="419.9" r="3.15"/><circle cx="396.4" cy="419.9" r="3.15"/><circle cx="396.8" cy="418.3" r="3.15"/><circle cx="397.3" cy="419.6" r="3.15"/><circle cx="397.7" cy="420.0" r="3.15"/><circle cx="398.2" cy="419.6" r="3.15"/><circle cx="398.6" cy="418.5" r="3.15"/><circle cx="399.1" cy="419.1" r="3.15"/><circle cx="399.5" cy="419.5" r="3.15"/><circle cx="400.0" cy="419.4" r="3.15"/><circle cx="400.4" cy="418.8" r="3.15"/><circle cx="400.9" cy="418.8" r="3.15"/><circle cx="401.3" cy="419.7" r="3.15"/><circle cx="401.7" cy="418.6" r="3.15"/><circle cx="402.2" cy="420.0" r="3.15"/><circle cx="402.6" cy="419.3" r="3.15"/><circle cx="403.1" cy="419.4" r="3.15"/><circle cx="403.5" cy="418.6" r="3.15"/><circle cx="404.0" cy="419.0" r="3.15"/><circle cx="404.4" cy="419.6" r="3.15"/><circle cx="404.9" cy="418.6" r="3.15"/><circle cx="405.3" cy="420.3" r="3.15"/><circle cx="405.7" cy="418.7" r="3.15"/><circle cx="406.2" cy="418.7" r="3.15"/><circle cx="406.6" cy="419.4" r="3.15"/><circle cx="407.1" cy="419.6" r="3.15"/><circle cx="407.5" cy="419.7" r="3.15"/><circle cx="408.0" cy="419.2" r="3.15"/><circle cx="408.4" cy="419.2" r="3.15"/><circle cx="408.9" cy="419.2" r="3.15"/><circle cx="409.3" cy="419.1" r="3.15"/><circle cx="409.7" cy="418.1" r="3.15"/><circle cx="410.2" cy="419.8" r="3.15"/><circle cx="410.6" cy="419.4" r="3.15"/><circle cx="411.1" cy="419.4" r="3.15"/><circle cx="411.5" cy="419.0" r="3.15"/><circle cx="412.0" cy="419.4" r="3.15"/><circle cx="412.4" cy="419.3" r="3.15"/><circle cx="412.9" cy="419.2" r="3.15"/><circle cx="413.3" cy="419.8" r="3.15"/><circle cx="413.8" cy="418.4" r="3.15"/><circle cx="414.2" cy="419.4" r="3.15"/><circle cx="414.6" cy="418.7" r="3.15"/><circle cx="415.1" cy="419.1" r="3.15"/><circle cx="415.5" cy="419.9" r="3.15"/><circle cx="416.0" cy="418.7" r="3.15"/><circle cx="416.4" cy="419.1" r="3.15"/><circle cx="416.9" cy="418.9" r="3.15"/><circle cx="417.3" cy="419.6" r="3.15"/><circle cx="417.8" cy="418.7" r="3.15"/><circle cx="418.2" cy="418.4" r="3.15"/><circle cx="418.6" cy="419.4" r="3.15"/><circle cx="419.1" cy="419.0" r="3.15"/><circle cx="419.5" cy="419.0" r="3.15"/><circle cx="420.0" cy="419.7" r="3.15"/><circle cx="420.4" cy="418.7" r="3.15"/><circle cx="420.9" cy="419.0" r="3.15"/><circle cx="421.3" cy="419.2" r="3.15"/><circle cx="421.8" cy="419.4" r="3.15"/><circle cx="422.2" cy="418.9" r="3.15"/><circle cx="422.7" cy="419.7" r="3.15"/><circle cx="423.1" cy="420.2" r="3.15"/><circle cx="423.5" cy="419.0" r="3.15"/><circle cx="424.0" cy="420.1" r="3.15"/><circle cx="424.4" cy="418.2" r="3.15"/><circle cx="424.9" cy="419.9" r="3.15"/><circle cx="425.3" cy="419.0" r="3.15"/><circle cx="425.8" cy="419.3" r="3.15"/><circle cx="426.2" cy="419.0" r="3.15"/><circle cx="426.7" cy="418.9" r="3.15"/><circle cx="427.1" cy="418.6" r="3.15"/><circle cx="427.5" cy="419.0" r="3.15"/><circle cx="428.0" cy="419.8" r="3.15"/><circle cx="428.4" cy="419.7" r="3.15"/><circle cx="428.9" cy="419.0" r="3.15"/><circle cx="429.3" cy="418.9" r="3.15"/><circle cx="429.8" cy="418.9" r="3.15"/><circle cx="430.2" cy="418.6" r="3.15"/><circle cx="430.7" cy="420.0" r="3.15"/><circle cx="431.1" cy="419.5" r="3.15"/><circle cx="431.6" cy="419.2" r="3.15"/><circle cx="432.0" cy="418.9" r="3.15"/><circle cx="432.4" cy="418.7" r="3.15"/><circle cx="432.9" cy="419.8" r="3.15"/><circle cx="433.3" cy="419.5" r="3.15"/><circle cx="433.8" cy="418.7" r="3.15"/><circle cx="434.2" cy="419.6" r="3.15"/><circle cx="434.7" cy="418.6" r="3.15"/><circle cx="435.1" cy="419.4" r="3.15"/><circle cx="435.6" cy="418.6" r="3.15"/><circle cx="436.0" cy="418.9" r="3.15"/><circle cx="436.4" cy="419.3" r="3.15"/><circle cx="436.9" cy="419.3" r="3.15"/><circle cx="437.3" cy="419.5" r="3.15"/><circle cx="437.8" cy="418.7" r="3.15"/><circle cx="438.2" cy="419.8" r="3.15"/><circle cx="438.7" cy="419.7" r="3.15"/><circle cx="439.1" cy="419.0" r="3.15"/><circle cx="439.6" cy="419.3" r="3.15"/><circle cx="440.0" cy="418.7" r="3.15"/><circle cx="440.5" cy="419.0" r="3.15"/><circle cx="440.9" cy="418.4" r="3.15"/><circle cx="441.3" cy="419.1" r="3.15"/><circle cx="441.8" cy="419.2" r="3.15"/><circle cx="442.2" cy="419.7" r="3.15"/><circle cx="442.7" cy="419.5" r="3.15"/><circle cx="443.1" cy="419.5" r="3.15"/><circle cx="443.6" cy="418.9" r="3.15"/><circle cx="444.0" cy="419.0" r="3.15"/><circle cx="444.5" cy="419.0" r="3.15"/><circle cx="444.9" cy="419.3" r="3.15"/><circle cx="445.3" cy="418.2" r="3.15"/><circle cx="445.8" cy="419.5" r="3.15"/><circle cx="446.2" cy="418.4" r="3.15"/><circle cx="446.7" cy="418.9" r="3.15"/><circle cx="447.1" cy="419.2" r="3.15"/><circle cx="447.6" cy="419.0" r="3.15"/><circle cx="448.0" cy="420.0" r="3.15"/><circle cx="448.5" cy="419.2" r="3.15"/><circle cx="448.9" cy="420.0" r="3.15"/><circle cx="449.3" cy="419.8" r="3.15"/><circle cx="449.8" cy="419.0" r="3.15"/><circle cx="450.2" cy="419.4" r="3.15"/><circle cx="450.7" cy="419.9" r="3.15"/><circle cx="451.1" cy="419.1" r="3.15"/><circle cx="451.6" cy="419.3" r="3.15"/><circle cx="452.0" cy="419.0" r="3.15"/><circle cx="452.5" cy="419.3" r="3.15"/><circle cx="452.9" cy="419.1" r="3.15"/><circle cx="453.4" cy="419.3" r="3.15"/><circle cx="453.8" cy="419.7" r="3.15"/><circle cx="454.2" cy="419.9" r="3.15"/><circle cx="454.7" cy="419.3" r="3.15"/><circle cx="455.1" cy="419.3" r="3.15"/><circle cx="455.6" cy="419.6" r="3.15"/><circle cx="456.0" cy="419.1" r="3.15"/><circle cx="456.5" cy="418.7" r="3.15"/><circle cx="456.9" cy="419.7" r="3.15"/><circle cx="457.4" cy="418.7" r="3.15"/><circle cx="457.8" cy="419.6" r="3.15"/><circle cx="458.2" cy="418.7" r="3.15"/><circle cx="458.7" cy="420.1" r="3.15"/><circle cx="459.1" cy="418.7" r="3.15"/><circle cx="459.6" cy="419.6" r="3.15"/><circle cx="460.0" cy="419.9" r="3.15"/><circle cx="460.5" cy="418.7" r="3.15"/><circle cx="460.9" cy="419.9" r="3.15"/><circle cx="461.4" cy="418.8" r="3.15"/><circle cx="461.8" cy="418.4" r="3.15"/><circle cx="462.3" cy="419.6" r="3.15"/><circle cx="462.7" cy="419.6" r="3.15"/><circle cx="463.1" cy="419.1" r="3.15"/><circle cx="463.6" cy="418.0" r="3.15"/><circle cx="464.0" cy="419.2" r="3.15"/><circle cx="464.5" cy="419.1" r="3.15"/><circle cx="464.9" cy="419.1" r="3.15"/><circle cx="465.4" cy="419.2" r="3.15"/><circle cx="465.8" cy="418.4" r="3.15"/><circle cx="466.3" cy="419.0" r="3.15"/><circle cx="466.7" cy="420.2" r="3.15"/><circle cx="467.1" cy="420.1" r="3.15"/><circle cx="467.6" cy="419.2" r="3.15"/><circle cx="468.0" cy="419.0" r="3.15"/><circle cx="468.5" cy="419.5" r="3.15"/><circle cx="468.9" cy="419.9" r="3.15"/><circle cx="469.4" cy="419.7" r="3.15"/><circle cx="469.8" cy="418.8" r="3.15"/><circle cx="470.3" cy="419.4" r="3.15"/><circle cx="470.7" cy="419.4" r="3.15"/><circle cx="471.2" cy="420.0" r="3.15"/><circle cx="471.6" cy="419.9" r="3.15"/><circle cx="472.0" cy="419.6" r="3.15"/><circle cx="472.5" cy="419.9" r="3.15"/><circle cx="472.9" cy="419.1" r="3.15"/><circle cx="473.4" cy="420.0" r="3.15"/><circle cx="473.8" cy="419.1" r="3.15"/><circle cx="474.3" cy="419.5" r="3.15"/><circle cx="474.7" cy="419.7" r="3.15"/><circle cx="475.2" cy="418.8" r="3.15"/><circle cx="475.6" cy="418.9" r="3.15"/><circle cx="476.0" cy="418.4" r="3.15"/><circle cx="476.5" cy="419.3" r="3.15"/><circle cx="476.9" cy="419.2" r="3.15"/><circle cx="477.4" cy="419.1" r="3.15"/><circle cx="477.8" cy="419.5" r="3.15"/><circle cx="478.3" cy="418.2" r="3.15"/><circle cx="478.7" cy="419.2" r="3.15"/><circle cx="479.2" cy="419.2" r="3.15"/><circle cx="479.6" cy="419.1" r="3.15"/><circle cx="480.1" cy="419.6" r="3.15"/><circle cx="480.5" cy="420.0" r="3.15"/><circle cx="480.9" cy="419.0" r="3.15"/><circle cx="481.4" cy="418.7" r="3.15"/><circle cx="481.8" cy="418.9" r="3.15"/><circle cx="482.3" cy="419.2" r="3.15"/><circle cx="482.7" cy="419.5" r="3.15"/><circle cx="483.2" cy="418.8" r="3.15"/><circle cx="483.6" cy="419.7" r="3.15"/><circle cx="484.1" cy="418.7" r="3.15"/><circle cx="484.5" cy="419.6" r="3.15"/><circle cx="484.9" cy="419.4" r="3.15"/><circle cx="485.4" cy="419.4" r="3.15"/><circle cx="485.8" cy="420.2" r="3.15"/><circle cx="486.3" cy="419.1" r="3.15"/><circle cx="486.7" cy="419.1" r="3.15"/><circle cx="487.2" cy="419.5" r="3.15"/><circle cx="487.6" cy="419.6" r="3.15"/><circle cx="488.1" cy="418.6" r="3.15"/><circle cx="488.5" cy="419.4" r="3.15"/><circle cx="492.1" cy="309.9" r="3.15"/><circle cx="492.5" cy="309.0" r="3.15"/><circle cx="493.0" cy="308.9" r="3.15"/><circle cx="493.4" cy="309.1" r="3.15"/><circle cx="493.8" cy="306.9" r="3.15"/><circle cx="494.3" cy="309.4" r="3.15"/><circle cx="494.7" cy="309.3" r="3.15"/><circle cx="495.2" cy="309.0" r="3.15"/><circle cx="495.6" cy="308.6" r="3.15"/><circle cx="496.1" cy="308.4" r="3.15"/><circle cx="496.5" cy="308.8" r="3.15"/><circle cx="497.0" cy="309.7" r="3.15"/><circle cx="497.4" cy="308.8" r="3.15"/><circle cx="497.8" cy="309.8" r="3.15"/><circle cx="498.3" cy="307.1" r="3.15"/><circle cx="498.7" cy="308.6" r="3.15"/><circle cx="499.2" cy="309.1" r="3.15"/><circle cx="499.6" cy="308.9" r="3.15"/><circle cx="500.1" cy="307.8" r="3.15"/><circle cx="500.5" cy="308.4" r="3.15"/><circle cx="501.0" cy="309.7" r="3.15"/><circle cx="501.4" cy="308.0" r="3.15"/><circle cx="501.9" cy="308.2" r="3.15"/><circle cx="502.3" cy="308.2" r="3.15"/><circle cx="502.7" cy="308.5" r="3.15"/><circle cx="503.2" cy="309.3" r="3.15"/><circle cx="503.6" cy="309.3" r="3.15"/><circle cx="504.1" cy="307.6" r="3.15"/><circle cx="504.5" cy="309.9" r="3.15"/><circle cx="505.0" cy="308.6" r="3.15"/><circle cx="505.4" cy="308.6" r="3.15"/><circle cx="505.9" cy="310.1" r="3.15"/><circle cx="506.3" cy="308.9" r="3.15"/><circle cx="506.7" cy="308.2" r="3.15"/><circle cx="507.2" cy="308.6" r="3.15"/><circle cx="507.6" cy="308.5" r="3.15"/><circle cx="508.1" cy="308.4" r="3.15"/><circle cx="508.5" cy="308.8" r="3.15"/><circle cx="509.0" cy="309.6" r="3.15"/><circle cx="509.4" cy="309.3" r="3.15"/><circle cx="509.9" cy="308.1" r="3.15"/><circle cx="510.3" cy="310.9" r="3.15"/><circle cx="510.8" cy="308.4" r="3.15"/><circle cx="511.2" cy="309.2" r="3.15"/><circle cx="511.6" cy="309.1" r="3.15"/><circle cx="512.1" cy="309.6" r="3.15"/><circle cx="512.5" cy="308.9" r="3.15"/><circle cx="513.0" cy="309.4" r="3.15"/><circle cx="513.4" cy="310.5" r="3.15"/><circle cx="513.9" cy="309.1" r="3.15"/><circle cx="514.3" cy="308.3" r="3.15"/><circle cx="514.8" cy="309.3" r="3.15"/><circle cx="515.2" cy="308.5" r="3.15"/><circle cx="515.6" cy="308.8" r="3.15"/><circle cx="516.1" cy="309.2" r="3.15"/><circle cx="516.5" cy="309.3" r="3.15"/><circle cx="517.0" cy="308.8" r="3.15"/><circle cx="517.4" cy="309.6" r="3.15"/><circle cx="517.9" cy="308.9" r="3.15"/><circle cx="518.3" cy="308.1" r="3.15"/><circle cx="518.8" cy="309.6" r="3.15"/><circle cx="519.2" cy="308.8" r="3.15"/><circle cx="519.7" cy="309.8" r="3.15"/><circle cx="520.1" cy="308.6" r="3.15"/><circle cx="520.5" cy="309.4" r="3.15"/><circle cx="521.0" cy="309.2" r="3.15"/><circle cx="521.4" cy="307.2" r="3.15"/><circle cx="521.9" cy="308.0" r="3.15"/><circle cx="522.3" cy="308.3" r="3.15"/><circle cx="522.8" cy="310.0" r="3.15"/><circle cx="523.2" cy="307.8" r="3.15"/><circle cx="523.7" cy="309.7" r="3.15"/><circle cx="524.1" cy="309.8" r="3.15"/><circle cx="524.5" cy="309.4" r="3.15"/><circle cx="525.0" cy="309.5" r="3.15"/><circle cx="525.4" cy="308.7" r="3.15"/><circle cx="525.9" cy="309.1" r="3.15"/><circle cx="526.3" cy="309.2" r="3.15"/><circle cx="526.8" cy="309.4" r="3.15"/><circle cx="527.2" cy="309.6" r="3.15"/><circle cx="527.7" cy="309.0" r="3.15"/><circle cx="528.1" cy="308.7" r="3.15"/><circle cx="528.5" cy="308.8" r="3.15"/><circle cx="529.0" cy="309.4" r="3.15"/><circle cx="529.4" cy="308.0" r="3.15"/><circle cx="529.9" cy="308.3" r="3.15"/><circle cx="530.3" cy="308.9" r="3.15"/><circle cx="530.8" cy="308.8" r="3.15"/><circle cx="531.2" cy="309.0" r="3.15"/><circle cx="531.7" cy="307.3" r="3.15"/><circle cx="532.1" cy="308.9" r="3.15"/><circle cx="532.6" cy="309.0" r="3.15"/><circle cx="533.0" cy="309.6" r="3.15"/><circle cx="533.4" cy="307.8" r="3.15"/><circle cx="533.9" cy="308.9" r="3.15"/><circle cx="534.3" cy="309.4" r="3.15"/><circle cx="534.8" cy="309.4" r="3.15"/><circle cx="535.2" cy="309.9" r="3.15"/><circle cx="535.7" cy="309.8" r="3.15"/><circle cx="536.1" cy="308.3" r="3.15"/><circle cx="536.6" cy="309.5" r="3.15"/><circle cx="537.0" cy="308.8" r="3.15"/><circle cx="537.4" cy="308.5" r="3.15"/><circle cx="537.9" cy="310.0" r="3.15"/><circle cx="538.3" cy="308.6" r="3.15"/><circle cx="538.8" cy="308.4" r="3.15"/><circle cx="539.2" cy="308.7" r="3.15"/><circle cx="539.7" cy="308.4" r="3.15"/><circle cx="540.1" cy="309.6" r="3.15"/><circle cx="540.6" cy="309.2" r="3.15"/><circle cx="541.0" cy="309.9" r="3.15"/><circle cx="541.5" cy="309.2" r="3.15"/><circle cx="541.9" cy="308.5" r="3.15"/><circle cx="542.3" cy="309.6" r="3.15"/><circle cx="542.8" cy="308.5" r="3.15"/><circle cx="543.2" cy="308.6" r="3.15"/><circle cx="543.7" cy="308.8" r="3.15"/><circle cx="544.1" cy="309.0" r="3.15"/><circle cx="544.6" cy="309.7" r="3.15"/><circle cx="545.0" cy="308.5" r="3.15"/><circle cx="545.5" cy="309.2" r="3.15"/><circle cx="545.9" cy="308.9" r="3.15"/><circle cx="546.3" cy="308.1" r="3.15"/><circle cx="546.8" cy="308.2" r="3.15"/><circle cx="547.2" cy="308.8" r="3.15"/><circle cx="547.7" cy="309.2" r="3.15"/><circle cx="548.1" cy="309.2" r="3.15"/><circle cx="548.6" cy="309.3" r="3.15"/><circle cx="549.0" cy="309.0" r="3.15"/><circle cx="549.5" cy="308.7" r="3.15"/><circle cx="549.9" cy="309.3" r="3.15"/><circle cx="550.4" cy="308.3" r="3.15"/><circle cx="550.8" cy="308.1" r="3.15"/><circle cx="551.2" cy="308.8" r="3.15"/><circle cx="551.7" cy="308.0" r="3.15"/><circle cx="552.1" cy="308.6" r="3.15"/><circle cx="552.6" cy="308.5" r="3.15"/><circle cx="553.0" cy="308.6" r="3.15"/><circle cx="553.5" cy="308.9" r="3.15"/><circle cx="553.9" cy="308.4" r="3.15"/><circle cx="554.4" cy="308.7" r="3.15"/><circle cx="554.8" cy="307.8" r="3.15"/><circle cx="555.2" cy="309.0" r="3.15"/><circle cx="555.7" cy="308.3" r="3.15"/><circle cx="559.3" cy="376.1" r="3.15"/><circle cx="559.7" cy="376.8" r="3.15"/><circle cx="560.1" cy="374.9" r="3.15"/><circle cx="560.6" cy="376.4" r="3.15"/><circle cx="561.0" cy="376.7" r="3.15"/><circle cx="561.5" cy="376.7" r="3.15"/><circle cx="561.9" cy="375.5" r="3.15"/><circle cx="562.4" cy="376.8" r="3.15"/><circle cx="562.8" cy="376.7" r="3.15"/><circle cx="563.3" cy="375.9" r="3.15"/><circle cx="563.7" cy="377.1" r="3.15"/><circle cx="564.1" cy="376.6" r="3.15"/><circle cx="564.6" cy="376.6" r="3.15"/><circle cx="565.0" cy="376.2" r="3.15"/><circle cx="565.5" cy="377.0" r="3.15"/><circle cx="565.9" cy="376.6" r="3.15"/><circle cx="566.4" cy="377.4" r="3.15"/><circle cx="566.8" cy="376.9" r="3.15"/><circle cx="567.3" cy="376.1" r="3.15"/><circle cx="567.7" cy="376.4" r="3.15"/><circle cx="568.1" cy="377.2" r="3.15"/><circle cx="568.6" cy="376.3" r="3.15"/><circle cx="569.0" cy="376.8" r="3.15"/><circle cx="569.5" cy="376.9" r="3.15"/><circle cx="569.9" cy="376.4" r="3.15"/><circle cx="570.4" cy="374.8" r="3.15"/><circle cx="570.8" cy="376.6" r="3.15"/><circle cx="571.3" cy="376.7" r="3.15"/><circle cx="571.7" cy="376.6" r="3.15"/><circle cx="572.2" cy="376.0" r="3.15"/><circle cx="572.6" cy="377.4" r="3.15"/><circle cx="573.0" cy="376.4" r="3.15"/><circle cx="573.5" cy="376.1" r="3.15"/><circle cx="573.9" cy="376.0" r="3.15"/><circle cx="574.4" cy="376.8" r="3.15"/><circle cx="574.8" cy="375.8" r="3.15"/><circle cx="575.3" cy="375.8" r="3.15"/><circle cx="575.7" cy="378.0" r="3.15"/><circle cx="576.2" cy="377.5" r="3.15"/><circle cx="576.6" cy="377.3" r="3.15"/><circle cx="577.0" cy="377.6" r="3.15"/><circle cx="577.5" cy="377.0" r="3.15"/><circle cx="577.9" cy="375.4" r="3.15"/><circle cx="578.4" cy="377.4" r="3.15"/><circle cx="578.8" cy="377.5" r="3.15"/><circle cx="579.3" cy="376.9" r="3.15"/><circle cx="579.7" cy="375.2" r="3.15"/><circle cx="580.2" cy="377.5" r="3.15"/><circle cx="580.6" cy="377.6" r="3.15"/><circle cx="581.1" cy="376.2" r="3.15"/><circle cx="581.5" cy="376.6" r="3.15"/><circle cx="581.9" cy="377.1" r="3.15"/><circle cx="582.4" cy="376.5" r="3.15"/><circle cx="582.8" cy="377.3" r="3.15"/><circle cx="583.3" cy="376.6" r="3.15"/><circle cx="583.7" cy="377.0" r="3.15"/><circle cx="584.2" cy="376.5" r="3.15"/><circle cx="584.6" cy="375.4" r="3.15"/><circle cx="585.1" cy="375.7" r="3.15"/><circle cx="585.5" cy="378.7" r="3.15"/><circle cx="585.9" cy="376.6" r="3.15"/><circle cx="586.4" cy="377.4" r="3.15"/><circle cx="586.8" cy="377.2" r="3.15"/><circle cx="587.3" cy="377.6" r="3.15"/><circle cx="587.7" cy="376.8" r="3.15"/><circle cx="588.2" cy="376.0" r="3.15"/><circle cx="588.6" cy="376.4" r="3.15"/><circle cx="589.1" cy="375.0" r="3.15"/><circle cx="589.5" cy="376.2" r="3.15"/><circle cx="590.0" cy="377.0" r="3.15"/><circle cx="590.4" cy="374.8" r="3.15"/><circle cx="590.8" cy="376.5" r="3.15"/><circle cx="591.3" cy="377.0" r="3.15"/><circle cx="591.7" cy="377.3" r="3.15"/><circle cx="592.2" cy="375.7" r="3.15"/><circle cx="592.6" cy="375.9" r="3.15"/><circle cx="593.1" cy="375.0" r="3.15"/><circle cx="593.5" cy="375.7" r="3.15"/><circle cx="594.0" cy="376.8" r="3.15"/><circle cx="594.4" cy="377.9" r="3.15"/><circle cx="594.8" cy="375.6" r="3.15"/><circle cx="595.3" cy="377.4" r="3.15"/><circle cx="595.7" cy="376.7" r="3.15"/><circle cx="596.2" cy="376.1" r="3.15"/><circle cx="596.6" cy="378.0" r="3.15"/><circle cx="597.1" cy="374.6" r="3.15"/><circle cx="597.5" cy="376.4" r="3.15"/><circle cx="598.0" cy="376.6" r="3.15"/><circle cx="598.4" cy="378.0" r="3.15"/><circle cx="598.9" cy="377.8" r="3.15"/><circle cx="599.3" cy="378.1" r="3.15"/><circle cx="599.7" cy="376.6" r="3.15"/><circle cx="600.2" cy="377.2" r="3.15"/><circle cx="600.6" cy="377.5" r="3.15"/><circle cx="601.1" cy="376.8" r="3.15"/><circle cx="601.5" cy="376.7" r="3.15"/><circle cx="602.0" cy="376.3" r="3.15"/><circle cx="602.4" cy="376.2" r="3.15"/><circle cx="602.9" cy="375.6" r="3.15"/><circle cx="603.3" cy="377.9" r="3.15"/><circle cx="603.7" cy="376.1" r="3.15"/><circle cx="604.2" cy="374.9" r="3.15"/><circle cx="604.6" cy="376.6" r="3.15"/><circle cx="605.1" cy="376.4" r="3.15"/><circle cx="605.5" cy="376.6" r="3.15"/><circle cx="606.0" cy="377.7" r="3.15"/><circle cx="606.4" cy="376.3" r="3.15"/><circle cx="606.9" cy="376.2" r="3.15"/><circle cx="607.3" cy="375.9" r="3.15"/><circle cx="607.7" cy="376.4" r="3.15"/><circle cx="608.2" cy="376.1" r="3.15"/><circle cx="608.6" cy="376.6" r="3.15"/><circle cx="609.1" cy="378.7" r="3.15"/><circle cx="609.5" cy="376.7" r="3.15"/><circle cx="610.0" cy="375.8" r="3.15"/><circle cx="610.4" cy="377.8" r="3.15"/><circle cx="610.9" cy="377.1" r="3.15"/><circle cx="611.3" cy="377.0" r="3.15"/><circle cx="611.8" cy="377.0" r="3.15"/><circle cx="612.2" cy="377.0" r="3.15"/><circle cx="612.6" cy="376.9" r="3.15"/><circle cx="613.1" cy="377.5" r="3.15"/><circle cx="613.5" cy="377.2" r="3.15"/><circle cx="614.0" cy="377.5" r="3.15"/><circle cx="614.4" cy="376.1" r="3.15"/><circle cx="614.9" cy="376.5" r="3.15"/><circle cx="615.3" cy="376.0" r="3.15"/><circle cx="615.8" cy="377.2" r="3.15"/><circle cx="616.2" cy="377.2" r="3.15"/><circle cx="616.6" cy="376.2" r="3.15"/><circle cx="617.1" cy="377.0" r="3.15"/><circle cx="617.5" cy="378.5" r="3.15"/><circle cx="618.0" cy="377.5" r="3.15"/><circle cx="618.4" cy="375.8" r="3.15"/><circle cx="618.9" cy="376.5" r="3.15"/><circle cx="619.3" cy="377.1" r="3.15"/><circle cx="619.8" cy="376.6" r="3.15"/><circle cx="620.2" cy="376.9" r="3.15"/><circle cx="620.7" cy="377.5" r="3.15"/><circle cx="621.1" cy="376.9" r="3.15"/><circle cx="621.5" cy="375.8" r="3.15"/><circle cx="622.0" cy="377.1" r="3.15"/><circle cx="622.4" cy="376.5" r="3.15"/><circle cx="622.9" cy="376.7" r="3.15"/><circle cx="625.5" cy="409.9" r="3.15"/><circle cx="626.0" cy="410.6" r="3.15"/><circle cx="626.4" cy="410.1" r="3.15"/><circle cx="626.9" cy="408.8" r="3.15"/><circle cx="627.3" cy="411.8" r="3.15"/><circle cx="627.8" cy="410.0" r="3.15"/><circle cx="628.2" cy="410.4" r="3.15"/><circle cx="628.7" cy="411.3" r="3.15"/><circle cx="629.1" cy="409.0" r="3.15"/><circle cx="629.6" cy="412.0" r="3.15"/><circle cx="630.0" cy="410.3" r="3.15"/><circle cx="630.4" cy="411.4" r="3.15"/><circle cx="630.9" cy="410.5" r="3.15"/><circle cx="631.3" cy="411.1" r="3.15"/><circle cx="631.8" cy="411.0" r="3.15"/><circle cx="632.2" cy="410.9" r="3.15"/><circle cx="632.7" cy="409.5" r="3.15"/><circle cx="633.1" cy="409.7" r="3.15"/><circle cx="633.6" cy="410.8" r="3.15"/><circle cx="634.0" cy="412.0" r="3.15"/><circle cx="634.4" cy="410.4" r="3.15"/><circle cx="634.9" cy="411.3" r="3.15"/><circle cx="635.3" cy="411.0" r="3.15"/><circle cx="635.8" cy="411.2" r="3.15"/><circle cx="636.2" cy="411.6" r="3.15"/><circle cx="636.7" cy="409.7" r="3.15"/><circle cx="637.1" cy="411.0" r="3.15"/><circle cx="637.6" cy="410.7" r="3.15"/><circle cx="638.0" cy="410.6" r="3.15"/><circle cx="638.5" cy="410.2" r="3.15"/><circle cx="638.9" cy="410.2" r="3.15"/><circle cx="639.3" cy="410.0" r="3.15"/><circle cx="639.8" cy="410.0" r="3.15"/><circle cx="640.2" cy="412.8" r="3.15"/><circle cx="640.7" cy="412.2" r="3.15"/><circle cx="641.1" cy="410.9" r="3.15"/><circle cx="641.6" cy="411.4" r="3.15"/><circle cx="642.0" cy="410.1" r="3.15"/><circle cx="642.5" cy="408.7" r="3.15"/><circle cx="642.9" cy="409.5" r="3.15"/><circle cx="643.3" cy="411.0" r="3.15"/><circle cx="643.8" cy="412.0" r="3.15"/><circle cx="644.2" cy="410.9" r="3.15"/><circle cx="644.7" cy="410.1" r="3.15"/><circle cx="645.1" cy="410.7" r="3.15"/><circle cx="645.6" cy="410.1" r="3.15"/><circle cx="646.0" cy="409.8" r="3.15"/><circle cx="646.5" cy="410.7" r="3.15"/><circle cx="646.9" cy="410.6" r="3.15"/><circle cx="647.3" cy="410.3" r="3.15"/><circle cx="647.8" cy="410.2" r="3.15"/><circle cx="648.2" cy="410.2" r="3.15"/><circle cx="648.7" cy="411.1" r="3.15"/><circle cx="649.1" cy="412.0" r="3.15"/><circle cx="649.6" cy="410.7" r="3.15"/><circle cx="650.0" cy="412.6" r="3.15"/><circle cx="650.5" cy="409.6" r="3.15"/><circle cx="650.9" cy="411.0" r="3.15"/><circle cx="651.4" cy="409.9" r="3.15"/><circle cx="651.8" cy="410.7" r="3.15"/><circle cx="652.2" cy="410.9" r="3.15"/><circle cx="652.7" cy="411.2" r="3.15"/><circle cx="653.1" cy="411.6" r="3.15"/><circle cx="653.6" cy="410.3" r="3.15"/><circle cx="654.0" cy="409.8" r="3.15"/><circle cx="654.5" cy="410.6" r="3.15"/><circle cx="654.9" cy="411.0" r="3.15"/><circle cx="655.4" cy="410.2" r="3.15"/><circle cx="655.8" cy="411.4" r="3.15"/><circle cx="656.2" cy="412.0" r="3.15"/><circle cx="656.7" cy="409.6" r="3.15"/><circle cx="657.1" cy="411.0" r="3.15"/><circle cx="657.6" cy="411.5" r="3.15"/><circle cx="658.0" cy="409.2" r="3.15"/><circle cx="658.5" cy="410.8" r="3.15"/><circle cx="658.9" cy="410.5" r="3.15"/><circle cx="659.4" cy="409.6" r="3.15"/><circle cx="659.8" cy="411.7" r="3.15"/><circle cx="660.3" cy="410.9" r="3.15"/><circle cx="660.7" cy="410.3" r="3.15"/><circle cx="661.1" cy="411.0" r="3.15"/><circle cx="661.6" cy="411.2" r="3.15"/><circle cx="662.0" cy="411.3" r="3.15"/><circle cx="662.5" cy="411.2" r="3.15"/><circle cx="662.9" cy="411.0" r="3.15"/><circle cx="663.4" cy="409.8" r="3.15"/><circle cx="663.8" cy="410.4" r="3.15"/><circle cx="664.3" cy="410.8" r="3.15"/><circle cx="664.7" cy="408.6" r="3.15"/><circle cx="665.1" cy="412.4" r="3.15"/><circle cx="665.6" cy="410.5" r="3.15"/><circle cx="666.0" cy="409.9" r="3.15"/><circle cx="666.5" cy="409.3" r="3.15"/><circle cx="666.9" cy="411.0" r="3.15"/><circle cx="667.4" cy="410.8" r="3.15"/><circle cx="667.8" cy="410.3" r="3.15"/><circle cx="668.3" cy="410.4" r="3.15"/><circle cx="668.7" cy="410.1" r="3.15"/><circle cx="669.2" cy="410.2" r="3.15"/><circle cx="669.6" cy="410.7" r="3.15"/><circle cx="670.0" cy="410.3" r="3.15"/><circle cx="670.5" cy="411.3" r="3.15"/><circle cx="670.9" cy="410.6" r="3.15"/><circle cx="671.4" cy="410.8" r="3.15"/><circle cx="671.8" cy="411.1" r="3.15"/><circle cx="672.3" cy="411.7" r="3.15"/><circle cx="672.7" cy="411.2" r="3.15"/><circle cx="673.2" cy="410.9" r="3.15"/><circle cx="673.6" cy="410.6" r="3.15"/><circle cx="674.0" cy="410.1" r="3.15"/><circle cx="674.5" cy="410.4" r="3.15"/><circle cx="674.9" cy="411.2" r="3.15"/><circle cx="675.4" cy="410.9" r="3.15"/><circle cx="675.8" cy="410.4" r="3.15"/><circle cx="676.3" cy="409.7" r="3.15"/><circle cx="676.7" cy="409.5" r="3.15"/><circle cx="677.2" cy="410.9" r="3.15"/><circle cx="677.6" cy="411.5" r="3.15"/><circle cx="678.1" cy="411.0" r="3.15"/><circle cx="678.5" cy="409.6" r="3.15"/><circle cx="678.9" cy="410.5" r="3.15"/><circle cx="679.4" cy="410.9" r="3.15"/><circle cx="679.8" cy="410.0" r="3.15"/><circle cx="680.3" cy="411.0" r="3.15"/><circle cx="680.7" cy="410.6" r="3.15"/><circle cx="681.2" cy="410.1" r="3.15"/><circle cx="681.6" cy="409.8" r="3.15"/><circle cx="682.1" cy="411.4" r="3.15"/><circle cx="682.5" cy="411.1" r="3.15"/><circle cx="682.9" cy="410.1" r="3.15"/><circle cx="683.4" cy="410.0" r="3.15"/><circle cx="683.8" cy="411.5" r="3.15"/><circle cx="684.3" cy="411.3" r="3.15"/><circle cx="684.7" cy="410.6" r="3.15"/><circle cx="685.2" cy="412.1" r="3.15"/><circle cx="685.6" cy="410.6" r="3.15"/><circle cx="686.1" cy="410.1" r="3.15"/><circle cx="686.5" cy="411.7" r="3.15"/><circle cx="686.9" cy="410.7" r="3.15"/><circle cx="687.4" cy="411.2" r="3.15"/><circle cx="687.8" cy="410.9" r="3.15"/><circle cx="688.3" cy="410.1" r="3.15"/><circle cx="688.7" cy="410.0" r="3.15"/><circle cx="689.2" cy="410.8" r="3.15"/><circle cx="689.6" cy="412.0" r="3.15"/><circle cx="690.1" cy="410.1" r="3.15"/><circle cx="690.5" cy="412.0" r="3.15"/><circle cx="692.7" cy="433.4" r="3.15"/><circle cx="693.2" cy="433.6" r="3.15"/><circle cx="693.6" cy="432.9" r="3.15"/><circle cx="694.1" cy="432.3" r="3.15"/><circle cx="694.5" cy="433.5" r="3.15"/><circle cx="695.0" cy="432.8" r="3.15"/><circle cx="695.4" cy="433.5" r="3.15"/><circle cx="695.8" cy="432.4" r="3.15"/><circle cx="696.3" cy="433.2" r="3.15"/><circle cx="696.7" cy="432.9" r="3.15"/><circle cx="697.2" cy="432.6" r="3.15"/><circle cx="697.6" cy="433.2" r="3.15"/><circle cx="698.1" cy="433.4" r="3.15"/><circle cx="698.5" cy="433.0" r="3.15"/><circle cx="699.0" cy="432.7" r="3.15"/><circle cx="699.4" cy="433.4" r="3.15"/><circle cx="699.9" cy="432.4" r="3.15"/><circle cx="700.3" cy="433.5" r="3.15"/><circle cx="700.7" cy="433.5" r="3.15"/><circle cx="701.2" cy="434.1" r="3.15"/><circle cx="701.6" cy="433.7" r="3.15"/><circle cx="702.1" cy="433.5" r="3.15"/><circle cx="702.5" cy="433.4" r="3.15"/><circle cx="703.0" cy="433.3" r="3.15"/><circle cx="703.4" cy="432.7" r="3.15"/><circle cx="703.9" cy="434.0" r="3.15"/><circle cx="704.3" cy="433.6" r="3.15"/><circle cx="704.7" cy="433.2" r="3.15"/><circle cx="705.2" cy="432.8" r="3.15"/><circle cx="705.6" cy="434.1" r="3.15"/><circle cx="706.1" cy="433.6" r="3.15"/><circle cx="706.5" cy="432.8" r="3.15"/><circle cx="707.0" cy="433.7" r="3.15"/><circle cx="707.4" cy="434.3" r="3.15"/><circle cx="707.9" cy="433.4" r="3.15"/><circle cx="708.3" cy="433.6" r="3.15"/><circle cx="708.8" cy="433.2" r="3.15"/><circle cx="709.2" cy="433.1" r="3.15"/><circle cx="709.6" cy="433.9" r="3.15"/><circle cx="710.1" cy="434.9" r="3.15"/><circle cx="710.5" cy="433.5" r="3.15"/><circle cx="711.0" cy="433.4" r="3.15"/><circle cx="711.4" cy="433.8" r="3.15"/><circle cx="711.9" cy="433.3" r="3.15"/><circle cx="712.3" cy="433.8" r="3.15"/><circle cx="712.8" cy="433.9" r="3.15"/><circle cx="713.2" cy="433.0" r="3.15"/><circle cx="713.6" cy="432.9" r="3.15"/><circle cx="714.1" cy="433.4" r="3.15"/><circle cx="714.5" cy="433.8" r="3.15"/><circle cx="715.0" cy="433.6" r="3.15"/><circle cx="715.4" cy="434.0" r="3.15"/><circle cx="715.9" cy="432.7" r="3.15"/><circle cx="716.3" cy="433.6" r="3.15"/><circle cx="716.8" cy="433.1" r="3.15"/><circle cx="717.2" cy="433.4" r="3.15"/><circle cx="717.7" cy="433.5" r="3.15"/><circle cx="718.1" cy="432.9" r="3.15"/><circle cx="718.5" cy="433.2" r="3.15"/><circle cx="719.0" cy="432.8" r="3.15"/><circle cx="719.4" cy="433.5" r="3.15"/><circle cx="719.9" cy="432.9" r="3.15"/><circle cx="720.3" cy="433.1" r="3.15"/><circle cx="720.8" cy="433.4" r="3.15"/><circle cx="721.2" cy="433.0" r="3.15"/><circle cx="721.7" cy="433.9" r="3.15"/><circle cx="722.1" cy="433.0" r="3.15"/><circle cx="722.5" cy="433.7" r="3.15"/><circle cx="723.0" cy="433.4" r="3.15"/><circle cx="723.4" cy="432.8" r="3.15"/><circle cx="723.9" cy="433.2" r="3.15"/><circle cx="724.3" cy="432.9" r="3.15"/><circle cx="724.8" cy="433.1" r="3.15"/><circle cx="725.2" cy="433.2" r="3.15"/><circle cx="725.7" cy="434.2" r="3.15"/><circle cx="726.1" cy="433.1" r="3.15"/><circle cx="726.5" cy="434.1" r="3.15"/><circle cx="727.0" cy="433.5" r="3.15"/><circle cx="727.4" cy="432.7" r="3.15"/><circle cx="727.9" cy="432.2" r="3.15"/><circle cx="728.3" cy="433.7" r="3.15"/><circle cx="728.8" cy="432.4" r="3.15"/><circle cx="729.2" cy="433.7" r="3.15"/><circle cx="729.7" cy="433.8" r="3.15"/><circle cx="730.1" cy="433.5" r="3.15"/><circle cx="730.6" cy="433.2" r="3.15"/><circle cx="731.0" cy="433.2" r="3.15"/><circle cx="731.4" cy="433.5" r="3.15"/><circle cx="731.9" cy="433.2" r="3.15"/><circle cx="732.3" cy="433.1" r="3.15"/><circle cx="732.8" cy="433.2" r="3.15"/><circle cx="733.2" cy="433.9" r="3.15"/><circle cx="733.7" cy="433.0" r="3.15"/><circle cx="734.1" cy="433.5" r="3.15"/><circle cx="734.6" cy="432.8" r="3.15"/><circle cx="735.0" cy="433.0" r="3.15"/><circle cx="735.4" cy="432.6" r="3.15"/><circle cx="735.9" cy="433.2" r="3.15"/><circle cx="736.3" cy="433.6" r="3.15"/><circle cx="736.8" cy="433.4" r="3.15"/><circle cx="737.2" cy="433.0" r="3.15"/><circle cx="737.7" cy="433.5" r="3.15"/><circle cx="738.1" cy="433.1" r="3.15"/><circle cx="738.6" cy="433.4" r="3.15"/><circle cx="739.0" cy="433.3" r="3.15"/><circle cx="739.5" cy="433.5" r="3.15"/><circle cx="739.9" cy="432.0" r="3.15"/><circle cx="740.3" cy="432.5" r="3.15"/><circle cx="740.8" cy="433.5" r="3.15"/><circle cx="741.2" cy="433.1" r="3.15"/><circle cx="741.7" cy="434.2" r="3.15"/><circle cx="742.1" cy="433.0" r="3.15"/><circle cx="742.6" cy="432.9" r="3.15"/><circle cx="743.0" cy="433.9" r="3.15"/><circle cx="743.5" cy="433.4" r="3.15"/><circle cx="743.9" cy="434.1" r="3.15"/><circle cx="744.3" cy="433.4" r="3.15"/><circle cx="744.8" cy="433.1" r="3.15"/><circle cx="745.2" cy="433.5" r="3.15"/><circle cx="745.7" cy="432.8" r="3.15"/><circle cx="746.1" cy="433.0" r="3.15"/><circle cx="746.6" cy="432.9" r="3.15"/><circle cx="747.0" cy="433.1" r="3.15"/><circle cx="747.5" cy="433.6" r="3.15"/><circle cx="747.9" cy="433.0" r="3.15"/><circle cx="748.4" cy="433.4" r="3.15"/><circle cx="748.8" cy="433.0" r="3.15"/><circle cx="749.2" cy="433.7" r="3.15"/><circle cx="749.7" cy="431.9" r="3.15"/><circle cx="750.1" cy="433.2" r="3.15"/><circle cx="750.6" cy="433.3" r="3.15"/><circle cx="751.0" cy="432.7" r="3.15"/><circle cx="751.5" cy="433.8" r="3.15"/><circle cx="751.9" cy="433.4" r="3.15"/><circle cx="752.4" cy="433.9" r="3.15"/><circle cx="752.8" cy="433.8" r="3.15"/><circle cx="753.2" cy="433.6" r="3.15"/><circle cx="753.7" cy="433.2" r="3.15"/><circle cx="754.1" cy="432.8" r="3.15"/><circle cx="754.6" cy="433.2" r="3.15"/><circle cx="755.0" cy="433.1" r="3.15"/><circle cx="755.5" cy="433.4" r="3.15"/><circle cx="755.9" cy="433.1" r="3.15"/><circle cx="756.4" cy="434.8" r="3.15"/><circle cx="756.8" cy="432.5" r="3.15"/><circle cx="757.3" cy="433.8" r="3.15"/><circle cx="757.7" cy="433.1" r="3.15"/><circle cx="758.1" cy="433.2" r="3.15"/><circle cx="758.6" cy="433.7" r="3.15"/><circle cx="759.0" cy="433.3" r="3.15"/><circle cx="759.5" cy="432.7" r="3.15"/><circle cx="759.9" cy="433.5" r="3.15"/><circle cx="760.4" cy="433.2" r="3.15"/><circle cx="760.8" cy="432.3" r="3.15"/><circle cx="761.3" cy="433.3" r="3.15"/><circle cx="761.7" cy="432.7" r="3.15"/><circle cx="762.1" cy="432.9" r="3.15"/><circle cx="762.6" cy="433.5" r="3.15"/><circle cx="763.0" cy="433.4" r="3.15"/><circle cx="763.5" cy="433.1" r="3.15"/><circle cx="763.9" cy="434.3" r="3.15"/><circle cx="764.4" cy="433.5" r="3.15"/><circle cx="764.8" cy="433.0" r="3.15"/><circle cx="765.3" cy="433.4" r="3.15"/><circle cx="765.7" cy="433.2" r="3.15"/><circle cx="766.1" cy="432.2" r="3.15"/><circle cx="766.6" cy="432.5" r="3.15"/><circle cx="767.0" cy="432.6" r="3.15"/><circle cx="767.5" cy="434.3" r="3.15"/><circle cx="767.9" cy="433.3" r="3.15"/><circle cx="768.4" cy="433.2" r="3.15"/><circle cx="768.8" cy="433.1" r="3.15"/><circle cx="769.3" cy="433.8" r="3.15"/><circle cx="769.7" cy="433.4" r="3.15"/><circle cx="770.2" cy="434.2" r="3.15"/><circle cx="770.6" cy="433.8" r="3.15"/><circle cx="771.0" cy="434.2" r="3.15"/><circle cx="771.5" cy="433.4" r="3.15"/><circle cx="771.9" cy="433.6" r="3.15"/><circle cx="772.4" cy="433.2" r="3.15"/><circle cx="772.8" cy="433.4" r="3.15"/><circle cx="773.3" cy="432.6" r="3.15"/><circle cx="773.7" cy="433.2" r="3.15"/><circle cx="774.2" cy="433.0" r="3.15"/><circle cx="774.6" cy="433.1" r="3.15"/><circle cx="775.0" cy="434.0" r="3.15"/><circle cx="775.5" cy="433.6" r="3.15"/><circle cx="775.9" cy="434.0" r="3.15"/><circle cx="776.4" cy="433.8" r="3.15"/><circle cx="776.8" cy="433.9" r="3.15"/><circle cx="777.3" cy="433.9" r="3.15"/><circle cx="777.7" cy="433.1" r="3.15"/><circle cx="778.2" cy="433.8" r="3.15"/><circle cx="778.6" cy="433.2" r="3.15"/><circle cx="779.1" cy="433.1" r="3.15"/><circle cx="779.5" cy="434.0" r="3.15"/><circle cx="779.9" cy="434.4" r="3.15"/><circle cx="780.4" cy="432.9" r="3.15"/><circle cx="780.8" cy="434.2" r="3.15"/><circle cx="781.3" cy="433.7" r="3.15"/><circle cx="781.7" cy="432.9" r="3.15"/><circle cx="782.2" cy="433.5" r="3.15"/><circle cx="782.6" cy="433.5" r="3.15"/><circle cx="783.1" cy="433.5" r="3.15"/><circle cx="783.5" cy="433.1" r="3.15"/><circle cx="783.9" cy="432.7" r="3.15"/><circle cx="784.4" cy="433.3" r="3.15"/><circle cx="784.8" cy="433.7" r="3.15"/><circle cx="785.3" cy="433.7" r="3.15"/><circle cx="785.7" cy="433.6" r="3.15"/><circle cx="786.2" cy="433.8" r="3.15"/><circle cx="786.6" cy="432.8" r="3.15"/><circle cx="787.1" cy="433.3" r="3.15"/><circle cx="787.5" cy="433.5" r="3.15"/><circle cx="788.0" cy="433.8" r="3.15"/><circle cx="788.4" cy="433.4" r="3.15"/><circle cx="788.8" cy="433.6" r="3.15"/><circle cx="789.3" cy="433.4" r="3.15"/><circle cx="789.7" cy="434.4" r="3.15"/><circle cx="790.2" cy="432.3" r="3.15"/><circle cx="790.6" cy="433.3" r="3.15"/><circle cx="791.1" cy="434.6" r="3.15"/><circle cx="791.5" cy="433.5" r="3.15"/><circle cx="792.0" cy="432.5" r="3.15"/><circle cx="792.4" cy="433.4" r="3.15"/><circle cx="792.8" cy="432.7" r="3.15"/><circle cx="793.3" cy="433.0" r="3.15"/><circle cx="793.7" cy="433.5" r="3.15"/><circle cx="794.2" cy="434.2" r="3.15"/><circle cx="794.6" cy="433.6" r="3.15"/><circle cx="795.1" cy="433.7" r="3.15"/><circle cx="795.5" cy="433.8" r="3.15"/><circle cx="796.0" cy="433.4" r="3.15"/><circle cx="796.4" cy="432.9" r="3.15"/><circle cx="796.9" cy="433.3" r="3.15"/><circle cx="797.3" cy="433.5" r="3.15"/><circle cx="797.7" cy="433.2" r="3.15"/><circle cx="798.2" cy="433.0" r="3.15"/><circle cx="798.6" cy="433.1" r="3.15"/><circle cx="799.1" cy="432.5" r="3.15"/><circle cx="799.5" cy="432.8" r="3.15"/><circle cx="800.0" cy="433.2" r="3.15"/><circle cx="800.4" cy="433.0" r="3.15"/><circle cx="800.9" cy="433.2" r="3.15"/><circle cx="801.3" cy="433.9" r="3.15"/><circle cx="801.7" cy="433.3" r="3.15"/><circle cx="802.2" cy="433.2" r="3.15"/><circle cx="802.6" cy="432.6" r="3.15"/><circle cx="803.1" cy="432.7" r="3.15"/><circle cx="803.5" cy="433.3" r="3.15"/><circle cx="804.0" cy="432.7" r="3.15"/><circle cx="804.4" cy="433.4" r="3.15"/><circle cx="804.9" cy="432.6" r="3.15"/><circle cx="805.3" cy="433.2" r="3.15"/><circle cx="805.7" cy="433.1" r="3.15"/><circle cx="806.2" cy="433.6" r="3.15"/><circle cx="806.6" cy="433.0" r="3.15"/><circle cx="807.1" cy="433.0" r="3.15"/><circle cx="807.5" cy="433.3" r="3.15"/><circle cx="808.0" cy="433.2" r="3.15"/><circle cx="808.4" cy="434.0" r="3.15"/><circle cx="808.9" cy="433.1" r="3.15"/><circle cx="809.3" cy="433.0" r="3.15"/><circle cx="809.8" cy="433.1" r="3.15"/><circle cx="810.2" cy="433.5" r="3.15"/><circle cx="810.6" cy="433.3" r="3.15"/><circle cx="811.1" cy="433.6" r="3.15"/><circle cx="811.5" cy="432.6" r="3.15"/><circle cx="812.0" cy="434.4" r="3.15"/><circle cx="812.4" cy="434.1" r="3.15"/><circle cx="812.9" cy="433.3" r="3.15"/><circle cx="813.3" cy="432.7" r="3.15"/><circle cx="813.8" cy="433.3" r="3.15"/><circle cx="814.2" cy="433.5" r="3.15"/><circle cx="814.6" cy="432.2" r="3.15"/><circle cx="815.1" cy="433.3" r="3.15"/><circle cx="815.5" cy="432.5" r="3.15"/><circle cx="816.0" cy="433.7" r="3.15"/><circle cx="816.4" cy="434.5" r="3.15"/><circle cx="816.9" cy="434.6" r="3.15"/><circle cx="817.3" cy="433.6" r="3.15"/><circle cx="817.8" cy="435.3" r="3.15"/><circle cx="818.2" cy="435.4" r="3.15"/><circle cx="818.7" cy="435.3" r="3.15"/><circle cx="819.1" cy="436.1" r="3.15"/><circle cx="819.5" cy="437.1" r="3.15"/><circle cx="820.0" cy="436.6" r="3.15"/><circle cx="820.4" cy="437.4" r="3.15"/><circle cx="820.9" cy="437.8" r="3.15"/><circle cx="821.3" cy="439.3" r="3.15"/><circle cx="821.8" cy="438.4" r="3.15"/><circle cx="822.2" cy="440.9" r="3.15"/><circle cx="822.7" cy="440.7" r="3.15"/><circle cx="823.1" cy="442.5" r="3.15"/><circle cx="823.5" cy="442.1" r="3.15"/><circle cx="824.0" cy="443.5" r="3.15"/><circle cx="824.4" cy="444.7" r="3.15"/><circle cx="824.9" cy="446.4" r="3.15"/><circle cx="825.3" cy="446.3" r="3.15"/><circle cx="825.8" cy="448.4" r="3.15"/><circle cx="826.2" cy="448.8" r="3.15"/><circle cx="826.7" cy="450.7" r="3.15"/><circle cx="827.1" cy="450.6" r="3.15"/><circle cx="827.6" cy="451.7" r="3.15"/><circle cx="828.0" cy="452.1" r="3.15"/><circle cx="828.4" cy="453.4" r="3.15"/><circle cx="828.9" cy="452.7" r="3.15"/><circle cx="829.3" cy="453.3" r="3.15"/><circle cx="829.8" cy="454.6" r="3.15"/><circle cx="830.2" cy="454.0" r="3.15"/><circle cx="830.7" cy="454.5" r="3.15"/><circle cx="831.1" cy="454.1" r="3.15"/><circle cx="831.6" cy="454.8" r="3.15"/><circle cx="832.0" cy="453.8" r="3.15"/><circle cx="832.4" cy="455.1" r="3.15"/><circle cx="832.9" cy="454.8" r="3.15"/><circle cx="833.3" cy="454.5" r="3.15"/><circle cx="833.8" cy="454.6" r="3.15"/><circle cx="834.2" cy="456.0" r="3.15"/><circle cx="834.7" cy="455.7" r="3.15"/><circle cx="835.1" cy="454.9" r="3.15"/><circle cx="835.6" cy="456.5" r="3.15"/><circle cx="836.0" cy="455.3" r="3.15"/><circle cx="836.5" cy="455.5" r="3.15"/><circle cx="836.9" cy="455.8" r="3.15"/><circle cx="837.3" cy="455.2" r="3.15"/><circle cx="837.8" cy="455.0" r="3.15"/><circle cx="838.2" cy="455.4" r="3.15"/><circle cx="838.7" cy="456.4" r="3.15"/><circle cx="839.1" cy="456.3" r="3.15"/><circle cx="839.6" cy="455.1" r="3.15"/><circle cx="840.0" cy="456.4" r="3.15"/><circle cx="840.5" cy="455.9" r="3.15"/><circle cx="840.9" cy="456.1" r="3.15"/><circle cx="841.3" cy="455.9" r="3.15"/><circle cx="841.8" cy="456.0" r="3.15"/><circle cx="842.2" cy="455.4" r="3.15"/><circle cx="842.7" cy="455.4" r="3.15"/><circle cx="843.1" cy="455.5" r="3.15"/><circle cx="843.6" cy="455.7" r="3.15"/><circle cx="844.0" cy="456.1" r="3.15"/><circle cx="844.5" cy="455.3" r="3.15"/><circle cx="844.9" cy="456.6" r="3.15"/><circle cx="845.3" cy="455.5" r="3.15"/><circle cx="845.8" cy="455.6" r="3.15"/><circle cx="846.2" cy="456.2" r="3.15"/><circle cx="846.7" cy="456.1" r="3.15"/><circle cx="847.1" cy="455.7" r="3.15"/><circle cx="847.6" cy="455.3" r="3.15"/><circle cx="848.0" cy="455.4" r="3.15"/><circle cx="848.5" cy="455.1" r="3.15"/><circle cx="848.9" cy="456.4" r="3.15"/><circle cx="849.4" cy="456.4" r="3.15"/><circle cx="849.8" cy="456.7" r="3.15"/><circle cx="850.2" cy="456.1" r="3.15"/><circle cx="850.7" cy="456.0" r="3.15"/><circle cx="851.1" cy="456.2" r="3.15"/><circle cx="851.6" cy="456.3" r="3.15"/><circle cx="852.0" cy="455.7" r="3.15"/><circle cx="852.5" cy="456.0" r="3.15"/><circle cx="852.9" cy="456.9" r="3.15"/><circle cx="853.4" cy="455.0" r="3.15"/><circle cx="853.8" cy="455.2" r="3.15"/><circle cx="854.2" cy="455.4" r="3.15"/><circle cx="854.7" cy="456.2" r="3.15"/><circle cx="855.1" cy="456.4" r="3.15"/><circle cx="855.6" cy="455.7" r="3.15"/><circle cx="856.0" cy="456.2" r="3.15"/><circle cx="856.5" cy="455.8" r="3.15"/><circle cx="856.9" cy="456.0" r="3.15"/><circle cx="857.4" cy="455.6" r="3.15"/><circle cx="857.8" cy="455.8" r="3.15"/><circle cx="858.3" cy="455.8" r="3.15"/><circle cx="858.7" cy="456.4" r="3.15"/><circle cx="859.1" cy="456.9" r="3.15"/><circle cx="859.6" cy="455.0" r="3.15"/><circle cx="860.0" cy="456.1" r="3.15"/><circle cx="860.5" cy="455.8" r="3.15"/><circle cx="860.9" cy="456.3" r="3.15"/><circle cx="861.4" cy="456.4" r="3.15"/><circle cx="861.8" cy="456.2" r="3.15"/><circle cx="862.3" cy="456.2" r="3.15"/><circle cx="862.7" cy="455.4" r="3.15"/><circle cx="863.1" cy="455.0" r="3.15"/><circle cx="863.6" cy="456.7" r="3.15"/><circle cx="864.0" cy="456.4" r="3.15"/><circle cx="864.5" cy="455.4" r="3.15"/><circle cx="864.9" cy="456.5" r="3.15"/><circle cx="865.4" cy="456.2" r="3.15"/><circle cx="865.8" cy="454.7" r="3.15"/><circle cx="866.3" cy="456.3" r="3.15"/><circle cx="866.7" cy="455.4" r="3.15"/><circle cx="867.2" cy="456.4" r="3.15"/><circle cx="867.6" cy="455.5" r="3.15"/><circle cx="868.0" cy="455.5" r="3.15"/><circle cx="868.5" cy="455.1" r="3.15"/><circle cx="868.9" cy="455.7" r="3.15"/><circle cx="869.4" cy="456.3" r="3.15"/><circle cx="869.8" cy="455.5" r="3.15"/><circle cx="870.3" cy="455.0" r="3.15"/><circle cx="870.7" cy="456.9" r="3.15"/><circle cx="871.2" cy="456.7" r="3.15"/><circle cx="871.6" cy="456.2" r="3.15"/><circle cx="872.0" cy="455.6" r="3.15"/><circle cx="872.5" cy="455.3" r="3.15"/><circle cx="872.9" cy="455.1" r="3.15"/><circle cx="873.4" cy="456.1" r="3.15"/><circle cx="873.8" cy="456.5" r="3.15"/><circle cx="874.3" cy="455.3" r="3.15"/><circle cx="874.7" cy="455.8" r="3.15"/><circle cx="875.2" cy="455.7" r="3.15"/><circle cx="875.6" cy="455.7" r="3.15"/><circle cx="876.1" cy="456.1" r="3.15"/><circle cx="876.5" cy="456.9" r="3.15"/><circle cx="876.9" cy="455.5" r="3.15"/><circle cx="877.4" cy="456.3" r="3.15"/><circle cx="877.8" cy="456.4" r="3.15"/><circle cx="878.3" cy="455.7" r="3.15"/><circle cx="878.7" cy="455.8" r="3.15"/><circle cx="879.2" cy="455.2" r="3.15"/><circle cx="879.6" cy="456.4" r="3.15"/><circle cx="880.1" cy="455.6" r="3.15"/><circle cx="880.5" cy="455.5" r="3.15"/><circle cx="880.9" cy="455.9" r="3.15"/><circle cx="881.4" cy="455.4" r="3.15"/><circle cx="881.8" cy="455.3" r="3.15"/><circle cx="882.3" cy="455.7" r="3.15"/><circle cx="882.7" cy="456.6" r="3.15"/><circle cx="883.2" cy="455.8" r="3.15"/><circle cx="883.6" cy="456.1" r="3.15"/><circle cx="884.1" cy="455.1" r="3.15"/><circle cx="884.5" cy="454.9" r="3.15"/><circle cx="884.9" cy="456.7" r="3.15"/></g>
<g class="tr"><circle cx="490.1" cy="412.7" r="3.2"/><circle cx="490.5" cy="386.4" r="3.2"/><circle cx="491.0" cy="349.2" r="3.2"/><circle cx="491.3" cy="320.3" r="3.2"/><circle cx="493.0" cy="311.5" r="3.2"/><circle cx="557.2" cy="315.8" r="3.2"/><circle cx="557.2" cy="333.8" r="3.2"/><circle cx="557.8" cy="356.7" r="3.2"/><circle cx="557.5" cy="372.5" r="3.2"/><circle cx="624.7" cy="380.0" r="3.2"/><circle cx="624.2" cy="388.8" r="3.2"/><circle cx="624.7" cy="400.0" r="3.2"/><circle cx="690.7" cy="417.8" r="3.2"/><circle cx="691.2" cy="424.8" r="3.2"/><circle cx="821.1" cy="424.5" r="3.2"/><circle cx="821.7" cy="429.4" r="3.2"/><circle cx="819.0" cy="438.5" r="3.2"/><circle cx="821.3" cy="442.5" r="3.2"/></g>
<rect class="ax" x="51.5" y="300.5" width="866" height="163"/>
<path class="ax" d="M83.5 463.5 H886.5M83.5 463.5 v8M243.5 463.5 v8M404.5 463.5 v8M565.5 463.5 v8M725.5 463.5 v8M886.5 463.5 v8"/>
<text class="tk" x="83.6" y="493" text-anchor="middle">23.5</text>
<text class="tk" x="244.2" y="493" text-anchor="middle">23.6</text>
<text class="tk" x="404.8" y="493" text-anchor="middle">23.7</text>
<text class="tk" x="565.4" y="493" text-anchor="middle">23.8</text>
<text class="tk" x="726.0" y="493" text-anchor="middle">23.9</text>
<text class="tk" x="886.6" y="493" text-anchor="middle">24.0</text>
<path class="ax" d="M51.5 449.5 V310.5M51.5 449.5 h-9M51.5 426.5 h-9M51.5 403.5 h-9M51.5 380.5 h-9M51.5 357.5 h-9M51.5 333.5 h-9M51.5 310.5 h-9"/>
<text class="tk" transform="translate(32.5 450.0) rotate(-90)" text-anchor="middle">400</text>
<text class="tk" transform="translate(32.5 403.7) rotate(-90)" text-anchor="middle">440</text>
<text class="tk" transform="translate(32.5 357.5) rotate(-90)" text-anchor="middle">480</text>
<text class="tk" transform="translate(32.5 310.8) rotate(-90)" text-anchor="middle">520</text>
<text transform="translate(15.7 382) rotate(-90)" text-anchor="middle">Licor ppm</text>
</svg></body></html>
